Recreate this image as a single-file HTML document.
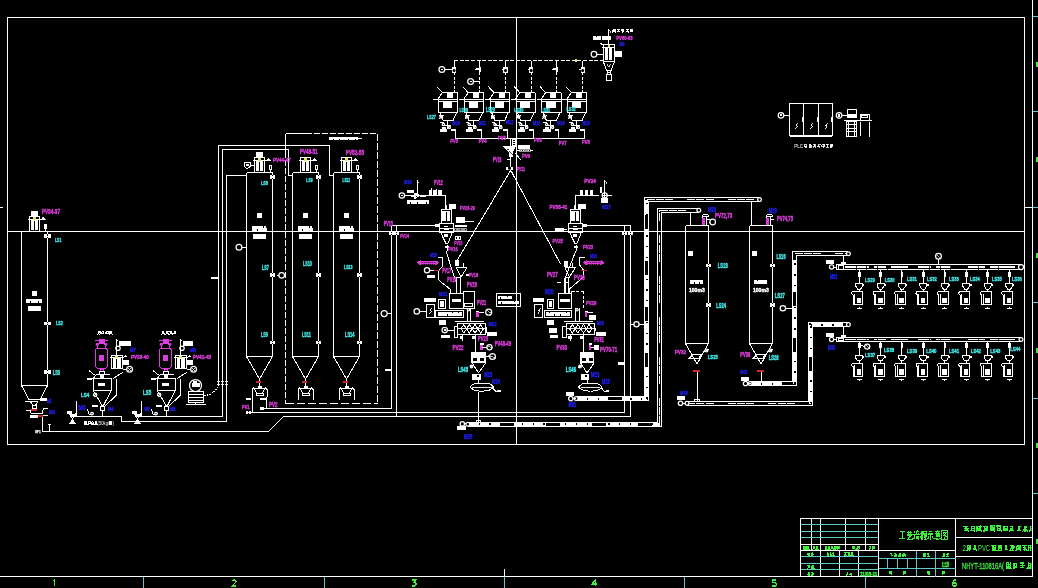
<!DOCTYPE html>
<html><head><meta charset="utf-8"><title>CAD</title>
<style>
html,body{margin:0;padding:0;background:#000;overflow:hidden;}
svg{display:block;font-family:"Liberation Sans",sans-serif;will-change:transform;}
</style></head>
<body>
<svg width="1038" height="588" viewBox="0 0 1038 588">
<defs><clipPath id="clipR"><rect x="955" y="518" width="76.5" height="58"/></clipPath></defs>
<rect x="0" y="0" width="1038" height="588" fill="#000"/>
<g stroke-linecap="butt" shape-rendering="crispEdges">
<rect x="7.5" y="17.5" width="1017" height="427" fill="none" stroke="#ffffff" stroke-width="1"/>
<line x1="1032.5" y1="0" x2="1032.5" y2="576.5" stroke="#ffffff" stroke-width="1"/>
<line x1="1032.5" y1="16.5" x2="1038" y2="16.5" stroke="#64c8c8" stroke-width="1"/>
<line x1="1032.5" y1="111.5" x2="1038" y2="111.5" stroke="#64c8c8" stroke-width="1"/>
<line x1="1032.5" y1="207.5" x2="1038" y2="207.5" stroke="#64c8c8" stroke-width="1"/>
<line x1="1032.5" y1="302.5" x2="1038" y2="302.5" stroke="#64c8c8" stroke-width="1"/>
<line x1="1032.5" y1="398.5" x2="1038" y2="398.5" stroke="#64c8c8" stroke-width="1"/>
<line x1="1032.5" y1="493.5" x2="1038" y2="493.5" stroke="#64c8c8" stroke-width="1"/>
<line x1="1024.5" y1="207.5" x2="1032.5" y2="207.5" stroke="#ffffff" stroke-width="1"/>
<line x1="0" y1="207.5" x2="3" y2="207.5" stroke="#ffffff" stroke-width="1"/>
<rect x="1036" y="61.5" width="2" height="5" fill="#3cf03c"/>
<rect x="1036" y="157" width="2" height="5" fill="#3cf03c"/>
<rect x="1036" y="252.5" width="2" height="5" fill="#3cf03c"/>
<rect x="1036" y="347.5" width="2" height="5" fill="#3cf03c"/>
<rect x="1036" y="443" width="2" height="5" fill="#3cf03c"/>
<rect x="1036" y="538.5" width="2" height="5" fill="#3cf03c"/>
<line x1="0" y1="576.5" x2="1032.5" y2="576.5" stroke="#ffffff" stroke-width="1"/>
<line x1="143.5" y1="576.5" x2="143.5" y2="588" stroke="#64c8c8" stroke-width="1"/>
<line x1="324.5" y1="576.5" x2="324.5" y2="588" stroke="#64c8c8" stroke-width="1"/>
<line x1="504.5" y1="576.5" x2="504.5" y2="588" stroke="#64c8c8" stroke-width="1"/>
<line x1="684.5" y1="576.5" x2="684.5" y2="588" stroke="#64c8c8" stroke-width="1"/>
<line x1="865.5" y1="576.5" x2="865.5" y2="588" stroke="#64c8c8" stroke-width="1"/>
<line x1="504.5" y1="569" x2="504.5" y2="576.5" stroke="#ffffff" stroke-width="1"/>
<path transform="translate(52.5 580)" d="M0.8 1L2 0V6" fill="none" stroke="#3cf03c" stroke-width="1.1"/>
<path transform="translate(232 580)" d="M0 1L1 0H3L4 1V2L0 6H4" fill="none" stroke="#3cf03c" stroke-width="1.1"/>
<path transform="translate(412 580)" d="M0 0H4L2 2.6H3L4 3.6V5L3 6H0" fill="none" stroke="#3cf03c" stroke-width="1.1"/>
<path transform="translate(592 580)" d="M3.2 6V0L0 4H4.5" fill="none" stroke="#3cf03c" stroke-width="1.1"/>
<path transform="translate(772.3 580)" d="M4 0H0.6V2.6H3L4 3.6V5L3 6H0" fill="none" stroke="#3cf03c" stroke-width="1.1"/>
<path transform="translate(952.6 580)" d="M3.5 0H2L0 2.5V5L1 6H3L4 5V4L3 3H0.3" fill="none" stroke="#3cf03c" stroke-width="1.1"/>
<line x1="7.5" y1="231.5" x2="1024.5" y2="231.5" stroke="#ffffff" stroke-width="1"/>
<line x1="516.5" y1="17.5" x2="516.5" y2="444.5" stroke="#ffffff" stroke-width="1"/>
<rect x="800.5" y="518.5" width="232" height="58" fill="none" stroke="#ffffff" stroke-width="1"/>
<line x1="811.5" y1="518.5" x2="811.5" y2="550.5" stroke="#ffffff" stroke-width="1"/>
<line x1="820.5" y1="518.5" x2="820.5" y2="550.5" stroke="#ffffff" stroke-width="1"/>
<line x1="845.5" y1="518.5" x2="845.5" y2="550.5" stroke="#ffffff" stroke-width="1"/>
<line x1="865.5" y1="518.5" x2="865.5" y2="550.5" stroke="#ffffff" stroke-width="1"/>
<line x1="800.5" y1="524.5" x2="878.5" y2="524.5" stroke="#64c8c8" stroke-width="1"/>
<line x1="800.5" y1="531.5" x2="878.5" y2="531.5" stroke="#64c8c8" stroke-width="1"/>
<line x1="800.5" y1="537.5" x2="878.5" y2="537.5" stroke="#64c8c8" stroke-width="1"/>
<line x1="800.5" y1="544.5" x2="878.5" y2="544.5" stroke="#ffffff" stroke-width="1"/>
<line x1="800.5" y1="550.5" x2="955.5" y2="550.5" stroke="#ffffff" stroke-width="1"/>
<line x1="820.5" y1="550.5" x2="820.5" y2="576.5" stroke="#ffffff" stroke-width="1"/>
<line x1="839.5" y1="550.5" x2="839.5" y2="576.5" stroke="#ffffff" stroke-width="1"/>
<line x1="858.5" y1="550.5" x2="858.5" y2="576.5" stroke="#ffffff" stroke-width="1"/>
<line x1="800.5" y1="556.5" x2="878.5" y2="556.5" stroke="#64c8c8" stroke-width="1"/>
<line x1="800.5" y1="563.5" x2="878.5" y2="563.5" stroke="#64c8c8" stroke-width="1"/>
<line x1="800.5" y1="569.5" x2="878.5" y2="569.5" stroke="#64c8c8" stroke-width="1"/>
<line x1="878.5" y1="518.5" x2="878.5" y2="576.5" stroke="#ffffff" stroke-width="1"/>
<line x1="955.5" y1="518.5" x2="955.5" y2="576.5" stroke="#ffffff" stroke-width="1"/>
<line x1="887.5" y1="558.5" x2="887.5" y2="568.5" stroke="#64c8c8" stroke-width="1"/>
<line x1="897.5" y1="558.5" x2="897.5" y2="568.5" stroke="#64c8c8" stroke-width="1"/>
<line x1="907.5" y1="558.5" x2="907.5" y2="568.5" stroke="#64c8c8" stroke-width="1"/>
<line x1="916.5" y1="550.5" x2="916.5" y2="576.5" stroke="#64c8c8" stroke-width="1"/>
<line x1="935.5" y1="550.5" x2="935.5" y2="576.5" stroke="#64c8c8" stroke-width="1"/>
<line x1="878.5" y1="558.5" x2="955.5" y2="558.5" stroke="#64c8c8" stroke-width="1"/>
<line x1="878.5" y1="568.5" x2="955.5" y2="568.5" stroke="#64c8c8" stroke-width="1"/>
<line x1="955.5" y1="537.5" x2="1032.5" y2="537.5" stroke="#ffffff" stroke-width="1"/>
<line x1="955.5" y1="556.5" x2="1032.5" y2="556.5" stroke="#ffffff" stroke-width="1"/>
<path transform="translate(899.3 530.2) scale(0.62 0.96)" d="M1 1.5H9M5 1.5V8.5M0 8.5H10" fill="none" stroke="#3cf03c" stroke-width="1.1" vector-effect="non-scaling-stroke"/>
<path transform="translate(906.35 530.2) scale(0.62 0.96)" d="M0.5 2.5H9.5M3 0.5V4M7 0.5V4M1.5 5H8.5L2 9.5H9.5V8" fill="none" stroke="#3cf03c" stroke-width="1.1" vector-effect="non-scaling-stroke"/>
<path transform="translate(913.4 530.2) scale(0.62 0.96)" d="M1 1L2.5 2.5M0.5 4L2 5.5M0.5 9.5L2.5 6.5M3.5 1.5H9.5M6.5 0V1.5M5 2L4 4.5H9L8 3.5M4.5 6V9.5M6.5 6V9.5M8.5 6V9.5L9.5 9" fill="none" stroke="#3cf03c" stroke-width="1.1" vector-effect="non-scaling-stroke"/>
<path transform="translate(920.45 530.2) scale(0.62 0.96)" d="M1 1.5L4 1M0 3.5H4.5M2.5 1V10M2.5 4.5L0 8M2.5 4.5L4.5 6.5M5.5 1H9.5V4H5.5ZM5 6H10M5.5 8H9.5M7.5 6V9.5M5 9.5H10" fill="none" stroke="#3cf03c" stroke-width="1.1" vector-effect="non-scaling-stroke"/>
<path transform="translate(927.5 530.2) scale(0.62 0.96)" d="M2 1H8M0.5 4H9.5M5 4V9.5L4 9M2.5 6L0.5 9M7.5 6L9.5 9" fill="none" stroke="#3cf03c" stroke-width="1.1" vector-effect="non-scaling-stroke"/>
<path transform="translate(934.55 530.2) scale(0.62 0.96)" d="M5 0V1M1.5 1.5H8.5M3 2L3.5 3M7 2L6.5 3M0.5 3.5H9.5M2.5 4.5H7.5V7H2.5ZM2.5 5.8H7.5M1 8L0.5 9.5M3 8V9.5H7.5M5 8L5.5 9M8.5 8L9.5 9.5" fill="none" stroke="#3cf03c" stroke-width="1.1" vector-effect="non-scaling-stroke"/>
<path transform="translate(941.6 530.2) scale(0.62 0.96)" d="M0.5 0.5H9.5V9.5H0.5ZM3.5 2L2.5 4M3 2.5H7L3 6.5M4 4.5L8 7M4.5 7L5.5 7.5M4 8.5L5.5 9" fill="none" stroke="#3cf03c" stroke-width="1.1" vector-effect="non-scaling-stroke"/>
<path d="M803.15 546.39H804.81M803.35 547.75H804.98M803.22 549.25H805.43M803.61 545.86V548.7M804.61 546.11V549.58M805.3 545.56V549.66M804.22 547.39L805.72 549.7" fill="none" stroke="#3cf03c" stroke-width="1"/>
<path d="M806.41 546.08H808.66M806.29 546.8H809.13M807.1 548.3H808.28M807.23 549.24H808.28M806.7 546.24V548.72M808.72 545.83V549.27M807.72 547.39L806.21 549.7M807.72 547.39L809.22 549.7" fill="none" stroke="#3cf03c" stroke-width="1"/>
<path d="M813.32 546.42H814.49M813.36 548.66H814.81M813.08 546.38V549.4M814.72 546.15V549.12M814.09 547.39L812.78 549.7M814.09 547.39L815.41 549.7" fill="none" stroke="#3cf03c" stroke-width="1"/>
<path d="M816.53 546.28H818.01M816.44 547.19H817.93M816.32 547.91H817.82M816.08 549.45H817.56M816.42 546.11V549.44M817.07 545.8V549.46M817.91 545.63V548.99M817.14 547.39L815.83 549.7M817.14 547.39L818.46 549.7" fill="none" stroke="#3cf03c" stroke-width="1"/>
<path d="M825.63 546.62H826.95M825.63 548.68H826.61M825.55 546.2V548.94M826.1 546.34V548.7M826.74 545.57V549.58M826.2 547.39L824.88 549.7M826.2 547.39L827.52 549.7" fill="none" stroke="#3cf03c" stroke-width="1"/>
<path d="M828.72 546.43H830.02M828.24 547.64H830.04M828.16 549.02H830.23M828.85 545.93V549.38M829.75 545.77V549.36M829.26 547.39L827.94 549.7M829.26 547.39L830.58 549.7" fill="none" stroke="#3cf03c" stroke-width="1"/>
<path d="M831.02 546.41H833.01M831.68 548.47H832.75M831.54 545.78V549.24M832.62 546.27V548.7M832.32 547.39L833.64 549.7" fill="none" stroke="#3cf03c" stroke-width="1"/>
<path d="M834.98 546.2H836.53M834.17 547.27H836M834.57 547.86H836M834.29 549.06H836.09M834.19 545.76V549.63M835.67 546.46V548.89M836.33 545.52V549.24" fill="none" stroke="#3cf03c" stroke-width="1"/>
<path d="M838.01 546.7H839.74M837.32 548.88H839M837.88 545.94V549.08M838.82 546.13V548.72M839.28 545.51V548.91M838.44 547.39L837.12 549.7" fill="none" stroke="#3cf03c" stroke-width="1"/>
<path d="M853.05 546.24H854.79M852.49 547.21H854.76M852.68 548.05H855.07M852.16 548.89H855.33M852.98 546.13V549.22M854.64 546.52V549.22M853.81 547.39L855.57 549.7" fill="none" stroke="#3cf03c" stroke-width="1"/>
<path d="M857.2 546.36H858.93M856.64 547.88H858.8M856.16 549.17H858.75M857.11 545.91V549.1M857.52 546.01V549.09M859.02 546.34V548.79M857.91 547.39L856.15 549.7" fill="none" stroke="#3cf03c" stroke-width="1"/>
<path d="M869.44 546.81H871.38M869.22 548.58H871.45M870.04 545.92V548.79M870.93 545.86V549.09M870.32 547.39L868.99 549.7" fill="none" stroke="#3cf03c" stroke-width="1"/>
<path d="M872.41 546.18H874.28M872.16 547.35H874.19M872.34 548.91H874.63M872.32 546.46V549.49M873.64 545.72V549.3M874.33 545.96V549.24M873.42 547.39L872.09 549.7" fill="none" stroke="#3cf03c" stroke-width="1"/>
<path d="M807.22 553.22H809.09M807.77 555.08H809.95M807.44 553.04V555.08M809.49 552.68V555.23M808.48 553.91L810.23 556" fill="none" stroke="#3cf03c" stroke-width="1"/>
<path d="M811.78 552.48H813.12M810.98 553.87H813.34M810.94 554.51H814.01M811.06 555.77H813.18M812.8 552.66V555.93M812.53 553.91L810.79 556" fill="none" stroke="#3cf03c" stroke-width="1"/>
<path d="M826.94 552.38H828.46M826.89 553.57H828.72M827.41 554.53H828.38M827.11 555.79H828.49M827.12 552.75V555.13M828.94 552.96V555.83M828.02 553.91L826.86 556M828.02 553.91L829.18 556" fill="none" stroke="#3cf03c" stroke-width="1"/>
<path d="M830.3 552.87H831.3M830.02 555.27H831.44M830.55 552.51V555.91M830.72 553.91L831.88 556" fill="none" stroke="#3cf03c" stroke-width="1"/>
<path d="M832.39 553.01H833.87M832.82 554.21H833.83M832.37 555.19H834.47M833.57 552.21V555.63M833.42 553.91L832.26 556M833.42 553.91L834.58 556" fill="none" stroke="#3cf03c" stroke-width="1"/>
<path d="M844.16 552.86H846.5M844.9 553.85H846.4M844.21 554.8H846.34M844.33 555.61H846.52M845.28 553.05V555.39M845.35 553.91L843.9 556" fill="none" stroke="#3cf03c" stroke-width="1"/>
<path d="M847.49 552.42H850.08M847.6 553.7H849.19M847.55 554.3H849.26M847.64 555.29H849.41M849.09 553.11V555.39M848.72 553.91L850.16 556" fill="none" stroke="#3cf03c" stroke-width="1"/>
<path d="M850.9 552.66H853.49M851.19 553.58H853.28M850.84 554.28H852.73M851.54 555.28H852.98M852.06 552.95V555.64M852.08 553.91L850.64 556M852.08 553.91L853.53 556" fill="none" stroke="#3cf03c" stroke-width="1"/>
<path d="M807.32 565.85H809.91M807.97 567.91H809.84M809.18 565.14V568.11M808.86 566.66L807.23 568.7" fill="none" stroke="#3cf03c" stroke-width="1"/>
<path d="M812.15 565.75H813.62M811.95 566.57H814.06M811.21 567.24H813.94M811.28 568.25H813.99M811.96 565.72V567.99M812.42 565.2V568.17M813.7 565.71V568.24M812.66 566.66L811.03 568.7M812.66 566.66L814.3 568.7" fill="none" stroke="#3cf03c" stroke-width="1"/>
<path d="M807.89 572.49H809.94M808.01 573.48H810.38M807.42 574.16H810.45M807.53 575.22H810.46M808.01 572.24V575.05M808.8 572.5V574.95M809.56 572.67V575" fill="none" stroke="#3cf03c" stroke-width="1"/>
<path d="M811.42 572.06H813.21M811.62 573.47H813.6M811.79 574.02H813.29M811.34 575.32H813.41M812.21 572.43V574.65M813.81 572.53V575.18M812.66 573.51L811.03 575.6" fill="none" stroke="#3cf03c" stroke-width="1"/>
<path d="M846.56 572.68H847.95M846.45 574.42H847.93M847.52 571.87V575.31M847.47 573.51L846 575.6" fill="none" stroke="#3cf03c" stroke-width="1"/>
<path d="M849.95 573H852.18M849.42 574.56H851.65M850.31 572.67V575.31M851.21 572.63V575.54M850.87 573.51L852.33 575.6" fill="none" stroke="#3cf03c" stroke-width="1"/>
<text x="860" y="575.6" fill="#3cf03c" font-size="5.56" font-weight="bold" text-anchor="start" textLength="17.3" lengthAdjust="spacingAndGlyphs" stroke="#3cf03c" stroke-width="0.39">11/08-11</text>
<path d="M890.24 553.71H892.26M890.58 555.94H892.7M891.14 553.65V556.37" fill="none" stroke="#3cf03c" stroke-width="1"/>
<path d="M894.07 553.54H896.28M894.75 554.59H896.82M894.35 555.22H896.69M893.96 556.71H896.91M895.28 553.96V556.04" fill="none" stroke="#3cf03c" stroke-width="1"/>
<path d="M898.55 553.59H900.83M898.65 554.77H901.27M898.36 555.28H900.57M898.16 556.74H900.63M899.41 553.54V556.52M899.77 554.8L898 557" fill="none" stroke="#3cf03c" stroke-width="1"/>
<path d="M902.95 553.47H905.28M903.36 554.71H905.52M902.58 555.7H905.53M902.46 556.78H904.43M902.51 553.71V556.98M903.96 553.63V556.08M905.32 553.52V556.74M903.9 554.8L902.12 557M903.9 554.8L905.67 557" fill="none" stroke="#3cf03c" stroke-width="1"/>
<path d="M923.37 553.6H925.98M923.23 554.83H925.87M922.97 556.42H925.57M923.93 553.34V556.54M925.31 553.01V556.58M924.41 554.8L922.82 557M924.41 554.8L926 557" fill="none" stroke="#3cf03c" stroke-width="1"/>
<path d="M926.75 553.86H929.05M927.14 554.99H928.77M926.97 556.38H929.46M928.29 553.83V556.55M928.11 554.8L929.7 557" fill="none" stroke="#3cf03c" stroke-width="1"/>
<path d="M943.02 553.99H944.84M942.35 556.12H945.2M943.33 553.34V556.38M944.91 553.38V556.76" fill="none" stroke="#3cf03c" stroke-width="1"/>
<path d="M946.88 553.45H948.88M946.49 554.86H949.18M946.54 556.28H948.94M947.81 553.87V556.68M947.66 554.8L946.03 557" fill="none" stroke="#3cf03c" stroke-width="1"/>
<text x="941.7" y="567" fill="#3cf03c" font-size="6.94" font-weight="bold" text-anchor="start" textLength="7.3" lengthAdjust="spacingAndGlyphs" stroke="#3cf03c" stroke-width="0.49">1:15</text>
<path d="M889.71 571.65H891.32M890.34 573.23H891.23M889.9 570.65V574.17M890.74 571.22V573.96M891.12 570.53V574.13M890.73 572.3L891.8 574.5" fill="none" stroke="#3cf03c" stroke-width="1"/>
<path d="M903.59 571.24H905.36M903.45 571.96H905.32M903.19 572.8H904.88M903.38 573.88H905.35M904.19 571.14V574.06M905.32 570.76V573.63M904.47 572.3L903.18 574.5" fill="none" stroke="#3cf03c" stroke-width="1"/>
<path d="M928.17 571.01H929.85M928.21 572.39H930.15M927.89 574.12H930.17M927.96 571.25V573.6M929.71 571.41V574.13M928.97 572.3L927.68 574.5M928.97 572.3L930.26 574.5" fill="none" stroke="#3cf03c" stroke-width="1"/>
<path d="M942.25 571.39H944M942.27 572.49H944.17M942.47 573.85H943.94M942.89 571V573.97M944.34 571.4V573.52M943.47 572.3L942.18 574.5" fill="none" stroke="#3cf03c" stroke-width="1"/>
<g clip-path="url(#clipR)">
<path d="M963.11 526.31H967.93M963.91 528.69H968.59M964.14 530.49H967.79M965.94 525.96V530.89M965.93 528.08L968.77 531.6" fill="none" stroke="#3cf03c" stroke-width="1.2"/>
<path d="M971.24 526.56H975.17M971.27 528.17H974.7M970.49 530.41H975.19M971.5 525.57V531.3M974.35 526.65V531.5" fill="none" stroke="#3cf03c" stroke-width="1.2"/>
<path d="M976.86 526.2H981.85M976.75 528.56H980.34M977.23 530.68H981.65M977.07 526.22V530.39M979.45 525.56V531.4M980.79 525.3V530.5M979.13 528.08L976.3 531.6M979.13 528.08L981.97 531.6" fill="none" stroke="#3cf03c" stroke-width="1.2"/>
<path d="M983.25 526.64H988.14M983.78 529.97H988.08M984.2 526.42V531.59M986.92 526.6V530.58M985.73 528.08L982.9 531.6" fill="none" stroke="#3cf03c" stroke-width="1.2"/>
<path d="M990.32 525.78H994.02M990.71 527.48H994.22M989.7 528.96H994.95M990.24 530.8H994.35M990.5 526.18V530.55M991.99 525.64V530.77M994.62 525.3V530.61M992.33 528.08L995.17 531.6" fill="none" stroke="#3cf03c" stroke-width="1.2"/>
<path d="M996.4 526.02H1001.14M997.11 528.69H1001.02M996.66 530.58H1000.23M997.69 525.79V530.25M1000.27 525.74V531.37M998.93 528.08L1001.77 531.6" fill="none" stroke="#3cf03c" stroke-width="1.2"/>
<path d="M1003.12 526.65H1008.16M1003.04 529.94H1008.17M1004.08 526.21V530.99M1007.21 526.33V530.57M1005.53 528.08L1008.37 531.6" fill="none" stroke="#3cf03c" stroke-width="1.2"/>
<path d="M1010.24 526.18H1013.09M1009.74 528.11H1013.13M1010.05 530.66H1014.21M1012.51 526.41V530.99M1012.13 528.08L1009.3 531.6" fill="none" stroke="#3cf03c" stroke-width="1.2"/>
<path d="M1017.61 526.77H1021.27M1017.07 530.12H1021.11M1019.08 525.68V530.3" fill="none" stroke="#3cf03c" stroke-width="1.2"/>
<path d="M1024.33 527.06H1026.53M1022.51 530.03H1026.62M1025.02 526.37V531.6M1025.33 528.08L1022.5 531.6M1025.33 528.08L1028.17 531.6" fill="none" stroke="#3cf03c" stroke-width="1.2"/>
<path d="M1029.96 526.1H1032.9M1029.69 528.48H1034.16M1029.72 530.72H1033.19M1030.14 525.74V531.44M1033.14 526.72V531.05M1031.93 528.08L1029.1 531.6" fill="none" stroke="#3cf03c" stroke-width="1.2"/>
<text x="962.5" y="551" fill="#3cf03c" font-size="9" font-weight="normal" text-anchor="start" textLength="3.5" lengthAdjust="spacingAndGlyphs">2</text>
<path d="M967.04 545.64H970.88M967.54 547.61H971.23M968.05 549.89H970.03M967.33 545.51V550.55M969.28 545.97V550.94M970.88 544.97V550.06M969.2 547.31L966.83 551" fill="none" stroke="#3cf03c" stroke-width="1.2"/>
<path d="M973.96 545.92H976.06M973.39 549.07H975.86M974.7 544.57V549.39M974.7 547.31L977.06 551" fill="none" stroke="#3cf03c" stroke-width="1.2"/>
<text x="978" y="551" fill="#3cf03c" font-size="9" font-weight="normal" text-anchor="start" textLength="12" lengthAdjust="spacingAndGlyphs">PVC</text>
<path d="M991.41 545.39H995.24M992.52 547.76H995.59M991.79 549.91H995.51M992.45 545.33V550.9M993.78 545.14V549.34M995.71 544.76V549.56M993.81 547.31L996.46 551" fill="none" stroke="#3cf03c" stroke-width="1.2"/>
<path d="M997.63 545.18H1000.92M998.64 547.03H1001.72M997.68 548.34H1002.38M998.19 550.2H1001.03M998.33 544.54V550.41M1001.21 545.49V550.77M999.96 547.31L997.32 551" fill="none" stroke="#3cf03c" stroke-width="1.2"/>
<path d="M1004.94 545.89H1007.32M1004.5 549.62H1007.65M1006.09 544.96V549.86" fill="none" stroke="#3cf03c" stroke-width="1.2"/>
<path d="M1009.83 545.36H1014.32M1010.98 546.93H1014.78M1010.28 548.75H1013.78M1010.43 550.44H1014.46M1012.63 544.56V550.81M1012.26 547.31L1009.62 551" fill="none" stroke="#3cf03c" stroke-width="1.2"/>
<path d="M1016.56 545.9H1020.28M1016.84 549.23H1020.75M1016.59 545.97V550.28M1018.66 545.14V550.4M1020.02 544.96V549.79M1018.41 547.31L1015.77 551M1018.41 547.31L1021.06 551" fill="none" stroke="#3cf03c" stroke-width="1.2"/>
<path d="M1022.19 545.56H1026.94M1023.18 547.45H1025.8M1023.13 549.72H1025.78M1024.6 545.75V550.57M1024.56 547.31L1027.21 551" fill="none" stroke="#3cf03c" stroke-width="1.2"/>
<path d="M1028.88 545.6H1032.24M1028.59 547.49H1033.08M1029.85 550.17H1032.48M1028.73 545.1V550.68M1030.55 545.17V549.7M1032.23 545.01V549.5M1030.71 547.31L1033.36 551" fill="none" stroke="#3cf03c" stroke-width="1.2"/>
<path d="M1035.8 546.22H1038.3M1034.91 549.47H1037.73M1036.68 544.4V550.99M1036.86 547.31L1034.22 551" fill="none" stroke="#3cf03c" stroke-width="1.2"/>
<text x="962" y="569.2" fill="#3cf03c" stroke="#3cf03c" stroke-width="0.35" font-size="9.6" textLength="42" lengthAdjust="spacingAndGlyphs">NHYT-110816A(</text>
<path d="M1006.69 562.88H1009.48M1006.5 564.71H1010.31M1005.56 566.1H1009.98M1006.56 568.04H1011.33M1006.7 562.16V568.74M1008.67 563.34V567.36M1010.22 562.46V568.58M1008.43 565.15L1011.44 569" fill="none" stroke="#3cf03c" stroke-width="1.2"/>
<path d="M1013.14 563.69H1017.04M1014.38 567.04H1017.05M1014.03 563.13V568.69M1016.72 562.97V567.46" fill="none" stroke="#3cf03c" stroke-width="1.2"/>
<path d="M1019.71 563.09H1024.03M1019.81 565.61H1025.13M1020.34 567.61H1024.35M1022.48 563.47V568.08" fill="none" stroke="#3cf03c" stroke-width="1.2"/>
<path d="M1027.63 563.45H1030.66M1027.59 565.72H1030.38M1028.18 568.07H1030.51M1028.3 562.14V567.58M1031.06 563.28V567.73M1029.43 565.15L1026.42 569M1029.43 565.15L1032.44 569" fill="none" stroke="#3cf03c" stroke-width="1.2"/>
<path d="M1035.47 563.1H1039.15M1035.1 564.65H1039.28M1034.64 566.62H1037.51M1034.22 568.3H1037.54M1036.47 562.16V568.69M1036.43 565.15L1033.42 569" fill="none" stroke="#3cf03c" stroke-width="1.2"/>
</g>
<line x1="21.5" y1="231.5" x2="21.5" y2="385.5" stroke="#ffffff" stroke-width="1"/>
<line x1="47.5" y1="231.5" x2="47.5" y2="385.5" stroke="#ffffff" stroke-width="1"/>
<line x1="21.5" y1="385.5" x2="47.5" y2="385.5" stroke="#ffffff" stroke-width="1"/>
<line x1="21.5" y1="385.5" x2="29" y2="399.5" stroke="#ffffff" stroke-width="1"/>
<line x1="47.5" y1="385.5" x2="40.2" y2="399.5" stroke="#ffffff" stroke-width="1"/>
<line x1="29" y1="399.5" x2="46.8" y2="399.5" stroke="#ffffff" stroke-width="1"/>
<rect x="40.2" y="398.3" width="6.6" height="3" fill="#ffffff"/>
<line x1="25" y1="401.5" x2="30.4" y2="401.5" stroke="#ffffff" stroke-width="1"/>
<polygon points="30.4,401.5 37.9,401.5 35.8,405 32.6,405" fill="none" stroke="#ffffff" stroke-width="1"/>
<rect x="32.8" y="405" width="3.2" height="3.5" fill="none" stroke="#ffffff" stroke-width="1"/>
<rect x="30" y="409" width="7" height="1.8" fill="#c82828"/>
<polyline points="26.2,410 30,410 31,413.2 43,413.2" fill="none" stroke="#ffffff" stroke-width="1"/>
<rect x="30" y="414.6" width="7.9" height="3.7" fill="#ffffff"/>
<rect x="38.4" y="415" width="4.6" height="2" fill="#c82828"/>
<polyline points="47.7,408 43.5,408 42.5,413" fill="none" stroke="#ffffff" stroke-width="1"/>
<line x1="43" y1="415.5" x2="47.7" y2="415.5" stroke="#ffffff" stroke-width="1"/>
<line x1="42.5" y1="417" x2="42.5" y2="431.5" stroke="#ffffff" stroke-width="1"/>
<line x1="42.5" y1="431.5" x2="268.5" y2="431.5" stroke="#ffffff" stroke-width="1"/>
<line x1="49.8" y1="424" x2="49.8" y2="431.5" stroke="#ffffff" stroke-width="1"/>
<line x1="48.2" y1="424.5" x2="51.4" y2="424.5" stroke="#ffffff" stroke-width="1"/>
<text x="35" y="432.6" fill="#ffffff" font-size="3.61" font-weight="bold" text-anchor="start" textLength="5.7" lengthAdjust="spacingAndGlyphs" stroke="#ffffff" stroke-width="0.25">SF1</text>
<rect x="31" y="211.3" width="6.7" height="5.4" fill="#ffffff"/>
<rect x="29.2" y="216.5" width="10.2" height="15" fill="none" stroke="#ffffff" stroke-width="1"/>
<line x1="28" y1="219.8" x2="40.6" y2="219.8" stroke="#ffffff" stroke-width="1"/>
<rect x="31" y="220.3" width="6.8" height="9.8" fill="#ffffff"/>
<line x1="34.4" y1="220.5" x2="34.4" y2="230" stroke="#000" stroke-width="1.1"/>
<rect x="33" y="217.3" width="2.6" height="2.2" fill="#e6e650"/>
<line x1="39.4" y1="219.7" x2="45.2" y2="219.7" stroke="#ffffff" stroke-width="1"/>
<path d="M41.4 219.7L43.2 216.8L45.2 219.7Z" fill="#ffffff" stroke="#ffffff" stroke-width="0.8"/>
<rect x="44.2" y="224" width="2.8" height="5" fill="#ffffff"/>
<line x1="45.5" y1="229" x2="45.5" y2="231.5" stroke="#ffffff" stroke-width="1"/>
<rect x="44.37" y="234.4" width="6.27" height="3.8" fill="#ffffff"/>
<path d="M46.45 234.4L47.5 235.54L48.55 234.4ZM46.45 238.2L47.5 237.06L48.55 238.2Z" fill="#000" stroke="none" stroke-width="0"/>
<rect x="44.37" y="321.6" width="6.27" height="3.8" fill="#ffffff"/>
<path d="M46.45 321.6L47.5 322.74L48.55 321.6ZM46.45 325.4L47.5 324.26L48.55 325.4Z" fill="#000" stroke="none" stroke-width="0"/>
<rect x="44.37" y="370.1" width="6.27" height="3.8" fill="#ffffff"/>
<path d="M46.45 370.1L47.5 371.24L48.55 370.1ZM46.45 373.9L47.5 372.76L48.55 373.9Z" fill="#000" stroke="none" stroke-width="0"/>
<rect x="32" y="291" width="4.9" height="5" fill="#ffffff"/>
<rect x="26.2" y="299" width="15.9" height="3.8" fill="#ffffff"/>
<rect x="30.34" y="301.47" width="0.9" height="1.33" fill="#000"/>
<rect x="37.72" y="301.47" width="0.9" height="1.33" fill="#000"/>
<rect x="28" y="306" width="12.9" height="5" fill="#ffffff"/>
<text x="41.9" y="214" fill="#dc3cdc" font-size="6.94" font-weight="bold" text-anchor="start" textLength="18.1" lengthAdjust="spacingAndGlyphs" stroke="#dc3cdc" stroke-width="0.49">PV34-37</text>
<text x="55" y="241.6" fill="#40e8e8" font-size="5.69" font-weight="bold" text-anchor="start" textLength="6.3" lengthAdjust="spacingAndGlyphs" stroke="#40e8e8" stroke-width="0.4">LS1</text>
<text x="56" y="324.8" fill="#40e8e8" font-size="6.25" font-weight="bold" text-anchor="start" textLength="7" lengthAdjust="spacingAndGlyphs" stroke="#40e8e8" stroke-width="0.44">LS2</text>
<text x="52.8" y="374.8" fill="#40e8e8" font-size="6.67" font-weight="bold" text-anchor="start" textLength="7.2" lengthAdjust="spacingAndGlyphs" stroke="#40e8e8" stroke-width="0.47">LS3</text>
<text x="47" y="403.3" fill="#1e1ee6" font-size="5.97" font-weight="bold" text-anchor="start" textLength="4.6" lengthAdjust="spacingAndGlyphs" stroke="#1e1ee6" stroke-width="0.42">M1</text>
<text x="49" y="413.8" fill="#1e1ee6" font-size="5.97" font-weight="bold" text-anchor="start" textLength="6.2" lengthAdjust="spacingAndGlyphs" stroke="#1e1ee6" stroke-width="0.42">M2</text>
<path d="M97.7 331.49H99.96M98.54 332.54H100.55M98.54 334.09H100.42M98.29 331.17V334.16M98.89 331.47V333.85M100.26 331.22V334.23M99.14 332.57L97.44 334.5" fill="none" stroke="#ffffff" stroke-width="1"/>
<path d="M102.02 331.92H103.95M101.81 333.74H103.68M101.91 331.5V333.78M103.83 331.45V334.03" fill="none" stroke="#ffffff" stroke-width="1"/>
<path d="M106.14 331.86H108.7M105.74 333.84H107.75M105.54 331.56V333.77M106.89 331.7V333.87M108.28 331.6V334.36" fill="none" stroke="#ffffff" stroke-width="1"/>
<path d="M109.37 331.81H111.59M109.58 333.01H112.25M110.19 333.96H111.92M109.75 331.29V334.4M111.94 331.39V333.64M110.99 332.57L109.29 334.5M110.99 332.57L112.68 334.5" fill="none" stroke="#ffffff" stroke-width="1"/>
<line x1="95" y1="340.5" x2="107.6" y2="340.5" stroke="#dc3cdc" stroke-width="1.2"/>
<rect x="99.6" y="339.2" width="4.4" height="3" fill="#dc3cdc" stroke="#dc3cdc" stroke-width="1"/>
<polyline points="97,349 98.5,343.5 104.5,343.5 106,349" fill="none" stroke="#dc3cdc" stroke-width="1"/>
<circle cx="97" cy="344.5" r="0.8" fill="#dc3cdc" stroke="#dc3cdc" stroke-width="1.25" shape-rendering="geometricPrecision"/>
<circle cx="106" cy="344.5" r="0.8" fill="#dc3cdc" stroke="#dc3cdc" stroke-width="1.25" shape-rendering="geometricPrecision"/>
<path d="M95.3 352Q95.3 348 98.5 348H104.5Q107.5 348 107.5 352V364Q107.5 368.5 104.5 368.5H98.5Q95.3 368.5 95.3 364Z" fill="none" stroke="#dc3cdc" stroke-width="1"/>
<rect x="98.6" y="355" width="5" height="5.6" fill="#dc3cdc"/>
<rect x="100.2" y="369.2" width="3.2" height="2.4" fill="none" stroke="#dc3cdc" stroke-width="1"/>
<rect x="99.5" y="371.8" width="4.6" height="3" fill="none" stroke="#ffffff" stroke-width="1"/>
<rect x="111" y="355.5" width="11.6" height="13" fill="none" stroke="#ffffff" stroke-width="1"/>
<line x1="110" y1="357.3" x2="123.6" y2="357.3" stroke="#ffffff" stroke-width="1"/>
<rect x="113" y="358" width="7.6" height="9.6" fill="#ffffff"/>
<line x1="116.8" y1="358.5" x2="116.8" y2="367.5" stroke="#000" stroke-width="1"/>
<rect x="115" y="355.9" width="3" height="1.6" fill="#e6e650"/>
<line x1="123.6" y1="356.5" x2="127" y2="356.5" stroke="#ffffff" stroke-width="1"/>
<path d="M124 356.5L125.3 354.5L126.6 356.5Z" fill="#ffffff" stroke="#ffffff" stroke-width="0.7"/>
<rect x="123.2" y="360" width="6" height="4.8" fill="#ffffff"/>
<line x1="116.3" y1="339.5" x2="116.3" y2="355.5" stroke="#ffffff" stroke-width="1"/>
<line x1="116.3" y1="339.5" x2="117.5" y2="341" stroke="#ffffff" stroke-width="1"/>
<circle cx="118" cy="348.2" r="2.2" fill="none" stroke="#ffffff" stroke-width="1.25" shape-rendering="geometricPrecision"/>
<rect x="119" y="341" width="12" height="4.7" fill="#ffffff"/>
<circle cx="129.6" cy="369.3" r="2.9" fill="none" stroke="#ffffff" stroke-width="1.25" shape-rendering="geometricPrecision"/>
<line x1="128.4" y1="368.3" x2="130.8" y2="370.3" stroke="#ffffff" stroke-width="0.8"/>
<line x1="128.4" y1="370.3" x2="130.8" y2="368.3" stroke="#ffffff" stroke-width="0.8"/>
<line x1="122.6" y1="369.3" x2="126.7" y2="369.3" stroke="#ffffff" stroke-width="1"/>
<line x1="87.3" y1="378.6" x2="112" y2="378.6" stroke="#ffffff" stroke-width="1"/>
<rect x="87.3" y="377.6" width="5" height="2" fill="#ffffff"/>
<polyline points="93,378.6 96.5,374.5 110,374.5" fill="none" stroke="#ffffff" stroke-width="1"/>
<line x1="89" y1="370.5" x2="94.5" y2="375" stroke="#ffffff" stroke-width="1"/>
<rect x="93" y="378.6" width="18.5" height="11.6" fill="none" stroke="#ffffff" stroke-width="1"/>
<rect x="98" y="383" width="6.5" height="3" fill="#ffffff"/>
<rect x="99.5" y="374.6" width="4.5" height="4" fill="#ffffff"/>
<line x1="93" y1="390.2" x2="102.8" y2="406.7" stroke="#ffffff" stroke-width="1"/>
<line x1="111.5" y1="390.2" x2="102.8" y2="406.7" stroke="#ffffff" stroke-width="1"/>
<line x1="122.6" y1="372.5" x2="113" y2="378.6" stroke="#ffffff" stroke-width="1"/>
<line x1="116.6" y1="378.6" x2="116.6" y2="395" stroke="#ffffff" stroke-width="1"/>
<line x1="116.6" y1="395" x2="104" y2="407" stroke="#ffffff" stroke-width="1"/>
<circle cx="95.2" cy="394.8" r="1.6" fill="none" stroke="#ffffff" stroke-width="1.25" shape-rendering="geometricPrecision"/>
<line x1="93.5" y1="396" x2="97" y2="393.5" stroke="#ffffff" stroke-width="1"/>
<rect x="91.6" y="405" width="6.6" height="2" fill="#ffffff"/>
<rect x="100.5" y="406.6" width="3.8" height="3.6" fill="none" stroke="#ffffff" stroke-width="1"/>
<line x1="102.5" y1="410.2" x2="102.5" y2="416.8" stroke="#ffffff" stroke-width="1"/>
<path d="M87.5 409.5L89.2 414.5L92.5 414.5" fill="none" stroke="#ffffff" stroke-width="1"/>
<circle cx="92" cy="413.6" r="1.3" fill="none" stroke="#ffffff" stroke-width="1.25" shape-rendering="geometricPrecision"/>
<path d="M161.79 331.38H163.99M161.72 332.75H164.4M162.13 333.9H164.81M163.26 331.43V334.17M163.14 332.57L161.44 334.5M163.14 332.57L164.83 334.5" fill="none" stroke="#ffffff" stroke-width="1"/>
<path d="M165.94 331.71H168.53M165.98 332.46H168.25M166.09 333.65H167.77M166.73 331.8V333.63M167.09 332.57L165.39 334.5M167.09 332.57L168.78 334.5" fill="none" stroke="#ffffff" stroke-width="1"/>
<path d="M169.35 331.63H172.28M169.65 333.63H172.69M170.35 331.32V334.19M171.65 331.62V334.16M171.04 332.57L169.34 334.5M171.04 332.57L172.73 334.5" fill="none" stroke="#ffffff" stroke-width="1"/>
<path d="M173.93 331.82H175.57M173.36 333.61H175.83M174.41 331.42V334.4M175.9 331.25V334.02" fill="none" stroke="#ffffff" stroke-width="1"/>
<line x1="159" y1="340.5" x2="171.6" y2="340.5" stroke="#dc3cdc" stroke-width="1.2"/>
<rect x="163.6" y="339.2" width="4.4" height="3" fill="#dc3cdc" stroke="#dc3cdc" stroke-width="1"/>
<polyline points="161,349 162.5,343.5 168.5,343.5 170,349" fill="none" stroke="#dc3cdc" stroke-width="1"/>
<circle cx="161" cy="344.5" r="0.8" fill="#dc3cdc" stroke="#dc3cdc" stroke-width="1.25" shape-rendering="geometricPrecision"/>
<circle cx="170" cy="344.5" r="0.8" fill="#dc3cdc" stroke="#dc3cdc" stroke-width="1.25" shape-rendering="geometricPrecision"/>
<path d="M159.3 352Q159.3 348 162.5 348H168.5Q171.5 348 171.5 352V364Q171.5 368.5 168.5 368.5H162.5Q159.3 368.5 159.3 364Z" fill="none" stroke="#dc3cdc" stroke-width="1"/>
<rect x="162.6" y="355" width="5" height="5.6" fill="#dc3cdc"/>
<rect x="164.2" y="369.2" width="3.2" height="2.4" fill="none" stroke="#dc3cdc" stroke-width="1"/>
<rect x="163.5" y="371.8" width="4.6" height="3" fill="none" stroke="#ffffff" stroke-width="1"/>
<rect x="175" y="355.5" width="11.6" height="13" fill="none" stroke="#ffffff" stroke-width="1"/>
<line x1="174" y1="357.3" x2="187.6" y2="357.3" stroke="#ffffff" stroke-width="1"/>
<rect x="177" y="358" width="7.6" height="9.6" fill="#ffffff"/>
<line x1="180.8" y1="358.5" x2="180.8" y2="367.5" stroke="#000" stroke-width="1"/>
<rect x="179" y="355.9" width="3" height="1.6" fill="#e6e650"/>
<line x1="187.6" y1="356.5" x2="191" y2="356.5" stroke="#ffffff" stroke-width="1"/>
<path d="M188 356.5L189.3 354.5L190.6 356.5Z" fill="#ffffff" stroke="#ffffff" stroke-width="0.7"/>
<rect x="187.2" y="360" width="6" height="4.8" fill="#ffffff"/>
<line x1="180.3" y1="339.5" x2="180.3" y2="355.5" stroke="#ffffff" stroke-width="1"/>
<line x1="180.3" y1="339.5" x2="181.5" y2="341" stroke="#ffffff" stroke-width="1"/>
<circle cx="182" cy="348.2" r="2.2" fill="none" stroke="#ffffff" stroke-width="1.25" shape-rendering="geometricPrecision"/>
<rect x="183" y="341" width="10" height="4.7" fill="#ffffff"/>
<circle cx="193.6" cy="369.3" r="2.9" fill="none" stroke="#ffffff" stroke-width="1.25" shape-rendering="geometricPrecision"/>
<line x1="192.4" y1="368.3" x2="194.8" y2="370.3" stroke="#ffffff" stroke-width="0.8"/>
<line x1="192.4" y1="370.3" x2="194.8" y2="368.3" stroke="#ffffff" stroke-width="0.8"/>
<line x1="186.6" y1="369.3" x2="190.7" y2="369.3" stroke="#ffffff" stroke-width="1"/>
<line x1="151.3" y1="378.6" x2="176" y2="378.6" stroke="#ffffff" stroke-width="1"/>
<rect x="151.3" y="377.6" width="5" height="2" fill="#ffffff"/>
<polyline points="157,378.6 160.5,374.5 174,374.5" fill="none" stroke="#ffffff" stroke-width="1"/>
<line x1="153" y1="370.5" x2="158.5" y2="375" stroke="#ffffff" stroke-width="1"/>
<rect x="157" y="378.6" width="18.5" height="11.6" fill="none" stroke="#ffffff" stroke-width="1"/>
<rect x="162" y="383" width="6.5" height="3" fill="#ffffff"/>
<rect x="163.5" y="374.6" width="4.5" height="4" fill="#ffffff"/>
<line x1="157" y1="390.2" x2="166.8" y2="406.7" stroke="#ffffff" stroke-width="1"/>
<line x1="175.5" y1="390.2" x2="166.8" y2="406.7" stroke="#ffffff" stroke-width="1"/>
<line x1="186.6" y1="372.5" x2="177" y2="378.6" stroke="#ffffff" stroke-width="1"/>
<line x1="180.6" y1="378.6" x2="180.6" y2="395" stroke="#ffffff" stroke-width="1"/>
<line x1="180.6" y1="395" x2="168" y2="407" stroke="#ffffff" stroke-width="1"/>
<circle cx="159.2" cy="394.8" r="1.6" fill="none" stroke="#ffffff" stroke-width="1.25" shape-rendering="geometricPrecision"/>
<line x1="157.5" y1="396" x2="161" y2="393.5" stroke="#ffffff" stroke-width="1"/>
<rect x="155.6" y="405" width="6.6" height="2" fill="#ffffff"/>
<rect x="164.5" y="406.6" width="3.8" height="3.6" fill="none" stroke="#ffffff" stroke-width="1"/>
<line x1="166.5" y1="410.2" x2="166.5" y2="416.8" stroke="#ffffff" stroke-width="1"/>
<path d="M151.5 409.5L153.2 414.5L156.5 414.5" fill="none" stroke="#ffffff" stroke-width="1"/>
<circle cx="156" cy="413.6" r="1.3" fill="none" stroke="#ffffff" stroke-width="1.25" shape-rendering="geometricPrecision"/>
<text x="81" y="397" fill="#40e8e8" font-size="6.11" font-weight="bold" text-anchor="start" textLength="8.2" lengthAdjust="spacingAndGlyphs" stroke="#40e8e8" stroke-width="0.43">LS4</text>
<text x="143" y="395" fill="#40e8e8" font-size="6.67" font-weight="bold" text-anchor="start" textLength="8.2" lengthAdjust="spacingAndGlyphs" stroke="#40e8e8" stroke-width="0.47">LS5</text>
<text x="78.6" y="410" fill="#1e1ee6" font-size="6.94" font-weight="bold" text-anchor="start" textLength="6.9" lengthAdjust="spacingAndGlyphs" stroke="#1e1ee6" stroke-width="0.49">M3</text>
<text x="108" y="410.5" fill="#1e1ee6" font-size="5.28" font-weight="bold" text-anchor="start" textLength="5.4" lengthAdjust="spacingAndGlyphs" stroke="#1e1ee6" stroke-width="0.37">M4</text>
<text x="144.4" y="410.5" fill="#1e1ee6" font-size="4.86" font-weight="bold" text-anchor="start" textLength="5.4" lengthAdjust="spacingAndGlyphs" stroke="#1e1ee6" stroke-width="0.34">M5</text>
<text x="169.6" y="410.5" fill="#1e1ee6" font-size="4.86" font-weight="bold" text-anchor="start" textLength="5.8" lengthAdjust="spacingAndGlyphs" stroke="#1e1ee6" stroke-width="0.34">M6</text>
<text x="130" y="351.5" fill="#1e1ee6" font-size="6.25" font-weight="bold" text-anchor="start" textLength="5.7" lengthAdjust="spacingAndGlyphs" stroke="#1e1ee6" stroke-width="0.44">M7</text>
<text x="190" y="351.5" fill="#1e1ee6" font-size="6.25" font-weight="bold" text-anchor="start" textLength="5.7" lengthAdjust="spacingAndGlyphs" stroke="#1e1ee6" stroke-width="0.44">M8</text>
<text x="131" y="358.8" fill="#dc3cdc" font-size="6.11" font-weight="bold" text-anchor="start" textLength="17.8" lengthAdjust="spacingAndGlyphs" stroke="#dc3cdc" stroke-width="0.43">PV38-40</text>
<text x="192.8" y="358.8" fill="#dc3cdc" font-size="6.11" font-weight="bold" text-anchor="start" textLength="18.4" lengthAdjust="spacingAndGlyphs" stroke="#dc3cdc" stroke-width="0.43">PV41-43</text>
<path d="M84.34 421.74H86.65M85.06 422.59H86.63M84.82 423.26H86.87M84.97 424.15H87M84.67 421.24V424.53M85.37 421.59V424.43M86.98 421.36V424.47M85.65 422.71L84.2 424.8M85.65 422.71L87.11 424.8" fill="none" stroke="#ffffff" stroke-width="1"/>
<path d="M87.65 421.77H89.9M88.31 423.97H90.47M88.28 421.16V424.77M88.82 421.38V423.86M90.35 421.15V424.48M89.03 422.71L87.58 424.8" fill="none" stroke="#ffffff" stroke-width="1"/>
<path d="M91.85 421.36H93.26M91.76 423.02H93.16M91.38 424.04H93.83M91.45 421.65V423.97M93.1 421.95V424.07M92.4 422.71L90.95 424.8" fill="none" stroke="#ffffff" stroke-width="1"/>
<path d="M94.81 421.68H96.8M95.06 422.87H96.5M95.06 424.26H96.85M95.73 421.64V424.63M95.78 422.71L94.33 424.8M95.78 422.71L97.23 424.8" fill="none" stroke="#ffffff" stroke-width="1"/>
<text x="97.6" y="424.8" fill="#ffffff" font-size="5.2" font-weight="normal" text-anchor="start" textLength="11.5" lengthAdjust="spacingAndGlyphs">(50kg/</text>
<path d="M109.5 421.65H111.74M109.51 422.67H111.22M109.52 423.93H111.69M109.57 421.29V424.71M110.6 421.07V424.56M111.48 421.53V424.17M110.77 422.71L109.48 424.8M110.77 422.71L112.06 424.8" fill="none" stroke="#ffffff" stroke-width="1"/>
<text x="112.4" y="424.8" fill="#ffffff" font-size="5.2" font-weight="normal" text-anchor="start" textLength="1.4" lengthAdjust="spacingAndGlyphs">)</text>
<line x1="76.5" y1="416.5" x2="121.5" y2="416.5" stroke="#ffffff" stroke-width="1"/>
<line x1="121.5" y1="416.5" x2="121.5" y2="421.5" stroke="#ffffff" stroke-width="1"/>
<line x1="121.5" y1="421.5" x2="226.5" y2="421.5" stroke="#ffffff" stroke-width="1"/>
<line x1="141.5" y1="416.5" x2="222.5" y2="416.5" stroke="#ffffff" stroke-width="1"/>
<line x1="76" y1="401" x2="76" y2="416.5" stroke="#ffffff" stroke-width="1"/>
<line x1="141" y1="401" x2="141" y2="416.5" stroke="#ffffff" stroke-width="1"/>
<rect x="67" y="410.6" width="4.5" height="3" fill="#ffffff"/>
<polyline points="69,413.5 72.5,418.5 76,413.5" fill="none" stroke="#ffffff" stroke-width="1"/>
<polygon points="70,423.5 72.5,419.5 75,423.5" fill="#ffffff" stroke="#ffffff" stroke-width="1"/>
<rect x="69.5" y="414" width="6" height="3" fill="#ffffff"/>
<rect x="132" y="410.6" width="4.5" height="3" fill="#ffffff"/>
<polyline points="134,413.5 137.5,418.5 141,413.5" fill="none" stroke="#ffffff" stroke-width="1"/>
<polygon points="135,423.5 137.5,419.5 140,423.5" fill="#ffffff" stroke="#ffffff" stroke-width="1"/>
<rect x="134.5" y="414" width="6" height="3" fill="#ffffff"/>
<circle cx="195.5" cy="385.5" r="6" fill="none" stroke="#ffffff" stroke-width="1.25" shape-rendering="geometricPrecision"/>
<rect x="191.5" y="383" width="8" height="3.5" fill="#ffffff"/>
<rect x="193" y="380.5" width="4" height="2" fill="#ffffff"/>
<rect x="188" y="391.5" width="15" height="10.5" fill="none" stroke="#ffffff" stroke-width="1"/>
<line x1="188" y1="394.5" x2="203" y2="394.5" stroke="#ffffff" stroke-width="1"/>
<line x1="188" y1="397.5" x2="203" y2="397.5" stroke="#ffffff" stroke-width="1"/>
<line x1="188" y1="400" x2="203" y2="400" stroke="#ffffff" stroke-width="1"/>
<line x1="186" y1="404.5" x2="205.6" y2="404.5" stroke="#ffffff" stroke-width="1"/>
<line x1="195.5" y1="402" x2="195.5" y2="404.5" stroke="#ffffff" stroke-width="1"/>
<path d="M204 395.5Q214 395 218 386" fill="none" stroke="#fff" stroke-width="1" stroke-dasharray="1.6,1"/>
<polyline points="218.5,386 218.5,145.5 329.5,145.5 329.5,175.5 333.5,175.5" fill="none" stroke="#ffffff" stroke-width="1"/>
<polyline points="222.5,416.5 222.5,149.5 288.5,149.5 288.5,175.5 292.5,175.5" fill="none" stroke="#ffffff" stroke-width="1"/>
<polyline points="226.5,421.5 226.5,175.5 246.5,175.5" fill="none" stroke="#ffffff" stroke-width="1"/>
<polyline points="217.2,380.5 218.5,382 219.8,380.5" fill="none" stroke="#ffffff" stroke-width="0.9"/>
<polyline points="217.2,384.5 218.5,383 219.8,384.5" fill="none" stroke="#ffffff" stroke-width="0.9"/>
<polyline points="221.2,380.5 222.5,382 223.8,380.5" fill="none" stroke="#ffffff" stroke-width="0.9"/>
<polyline points="221.2,384.5 222.5,383 223.8,384.5" fill="none" stroke="#ffffff" stroke-width="0.9"/>
<polyline points="225.2,380.5 226.5,382 227.8,380.5" fill="none" stroke="#ffffff" stroke-width="0.9"/>
<polyline points="225.2,384.5 226.5,383 227.8,384.5" fill="none" stroke="#ffffff" stroke-width="0.9"/>
<rect x="211" y="277" width="7" height="2.3" fill="#ffffff"/>
<line x1="285.5" y1="133.5" x2="285.5" y2="152" stroke="#ffffff" stroke-width="1"/>
<line x1="285.5" y1="152" x2="285.5" y2="403.5" stroke="#ffffff" stroke-width="1" stroke-dasharray="6,2"/>
<line x1="285.5" y1="133.5" x2="306" y2="133.5" stroke="#ffffff" stroke-width="1"/>
<line x1="306" y1="133.5" x2="377.5" y2="133.5" stroke="#ffffff" stroke-width="1" stroke-dasharray="6,2"/>
<line x1="377.5" y1="133.5" x2="377.5" y2="403.5" stroke="#ffffff" stroke-width="1" stroke-dasharray="7,2"/>
<line x1="285.5" y1="403.5" x2="377.5" y2="403.5" stroke="#ffffff" stroke-width="1" stroke-dasharray="8,3"/>
<rect x="328.5" y="136.8" width="29.5" height="2.8" fill="#ffffff"/>
<rect x="332.88" y="138.62" width="0.9" height="0.98" fill="#000"/>
<rect x="338.73" y="138.62" width="0.9" height="0.98" fill="#000"/>
<rect x="347.9" y="138.62" width="0.9" height="0.98" fill="#000"/>
<rect x="354.76" y="138.62" width="0.9" height="0.98" fill="#000"/>
<line x1="358" y1="138.2" x2="362.2" y2="138.2" stroke="#ffffff" stroke-width="1"/>
<line x1="246.5" y1="172.5" x2="246.5" y2="356.5" stroke="#ffffff" stroke-width="1"/>
<line x1="272.5" y1="172.5" x2="272.5" y2="356.5" stroke="#ffffff" stroke-width="1"/>
<line x1="246.5" y1="172.5" x2="272.5" y2="172.5" stroke="#ffffff" stroke-width="1"/>
<line x1="246.5" y1="356.5" x2="272.5" y2="356.5" stroke="#ffffff" stroke-width="1"/>
<line x1="246.5" y1="356.5" x2="259.5" y2="379" stroke="#ffffff" stroke-width="1"/>
<line x1="272.5" y1="356.5" x2="259.5" y2="379" stroke="#ffffff" stroke-width="1"/>
<line x1="259.5" y1="379" x2="259.5" y2="381" stroke="#ffffff" stroke-width="1"/>
<rect x="255.5" y="380.8" width="5.8" height="1.9" fill="#c82828"/>
<line x1="259.5" y1="382.6" x2="259.5" y2="385.5" stroke="#ffffff" stroke-width="1"/>
<polyline points="252,396.5 252,389.5 254,387.5" fill="none" stroke="#ffffff" stroke-width="1"/>
<polyline points="267,396.5 267,389.5 265,387.5" fill="none" stroke="#ffffff" stroke-width="1"/>
<polygon points="254,388.5 265,388.5 262.5,393 256.5,393" fill="none" stroke="#ffffff" stroke-width="1"/>
<rect x="257.5" y="386" width="4" height="2.5" fill="#ffffff"/>
<rect x="256" y="393" width="7" height="2.5" fill="none" stroke="#ffffff" stroke-width="1"/>
<rect x="256.3" y="152.3" width="6.7" height="5.4" fill="#ffffff"/>
<rect x="254.5" y="157.5" width="10.2" height="15" fill="none" stroke="#ffffff" stroke-width="1"/>
<line x1="253.3" y1="160.8" x2="265.9" y2="160.8" stroke="#ffffff" stroke-width="1"/>
<rect x="256.3" y="161.3" width="6.8" height="9.8" fill="#ffffff"/>
<line x1="259.7" y1="161.5" x2="259.7" y2="171" stroke="#000" stroke-width="1.1"/>
<rect x="258.3" y="158.3" width="2.6" height="2.2" fill="#e6e650"/>
<line x1="264.7" y1="160.7" x2="270.5" y2="160.7" stroke="#ffffff" stroke-width="1"/>
<path d="M266.7 160.7L268.5 157.8L270.5 160.7Z" fill="#ffffff" stroke="#ffffff" stroke-width="0.8"/>
<rect x="269.3" y="165" width="2.3" height="4.5" fill="none" stroke="#ffffff" stroke-width="1"/>
<line x1="270.5" y1="169.5" x2="270.5" y2="172.5" stroke="#ffffff" stroke-width="1"/>
<rect x="269.53" y="175" width="5.94" height="3.6" fill="#ffffff"/>
<path d="M271.51 175L272.5 176.08L273.49 175ZM271.51 178.6L272.5 177.52L273.49 178.6Z" fill="#000" stroke="none" stroke-width="0"/>
<rect x="269.53" y="273.2" width="5.94" height="3.6" fill="#ffffff"/>
<path d="M271.51 273.2L272.5 274.28L273.49 273.2ZM271.51 276.8L272.5 275.72L273.49 276.8Z" fill="#000" stroke="none" stroke-width="0"/>
<rect x="269.53" y="340.7" width="5.94" height="3.6" fill="#ffffff"/>
<path d="M271.51 340.7L272.5 341.78L273.49 340.7ZM271.51 344.3L272.5 343.22L273.49 344.3Z" fill="#000" stroke="none" stroke-width="0"/>
<rect x="257.1" y="213" width="4.8" height="4.8" fill="#ffffff"/>
<rect x="251.5" y="225.9" width="11" height="4.6" fill="#ffffff"/>
<rect x="257.48" y="228.89" width="0.9" height="1.61" fill="#000"/>
<rect x="262.5" y="228" width="4.4" height="2.5" fill="#ffffff"/>
<rect x="264" y="225.9" width="1.5" height="2.5" fill="#ffffff"/>
<rect x="252.9" y="234.2" width="13" height="4.3" fill="#ffffff"/>
<line x1="292.5" y1="172.5" x2="292.5" y2="356.5" stroke="#ffffff" stroke-width="1"/>
<line x1="318.5" y1="172.5" x2="318.5" y2="356.5" stroke="#ffffff" stroke-width="1"/>
<line x1="292.5" y1="172.5" x2="318.5" y2="172.5" stroke="#ffffff" stroke-width="1"/>
<line x1="292.5" y1="356.5" x2="318.5" y2="356.5" stroke="#ffffff" stroke-width="1"/>
<line x1="292.5" y1="356.5" x2="305.5" y2="379" stroke="#ffffff" stroke-width="1"/>
<line x1="318.5" y1="356.5" x2="305.5" y2="379" stroke="#ffffff" stroke-width="1"/>
<line x1="305.5" y1="379" x2="305.5" y2="381" stroke="#ffffff" stroke-width="1"/>
<rect x="301.5" y="380.8" width="5.8" height="1.9" fill="#c82828"/>
<line x1="305.5" y1="382.6" x2="305.5" y2="385.5" stroke="#ffffff" stroke-width="1"/>
<polyline points="298,396.5 298,389.5 300,387.5" fill="none" stroke="#ffffff" stroke-width="1"/>
<polyline points="313,396.5 313,389.5 311,387.5" fill="none" stroke="#ffffff" stroke-width="1"/>
<polygon points="300,388.5 311,388.5 308.5,393 302.5,393" fill="none" stroke="#ffffff" stroke-width="1"/>
<rect x="303.5" y="386" width="4" height="2.5" fill="#ffffff"/>
<rect x="302" y="393" width="7" height="2.5" fill="none" stroke="#ffffff" stroke-width="1"/>
<rect x="300.5" y="157.5" width="10.2" height="15" fill="none" stroke="#ffffff" stroke-width="1"/>
<line x1="299.3" y1="160.8" x2="311.9" y2="160.8" stroke="#ffffff" stroke-width="1"/>
<rect x="302.3" y="161.3" width="6.8" height="9.8" fill="#ffffff"/>
<line x1="305.7" y1="161.5" x2="305.7" y2="171" stroke="#000" stroke-width="1.1"/>
<rect x="304.3" y="158.3" width="2.6" height="2.2" fill="#e6e650"/>
<line x1="310.7" y1="160.7" x2="316.5" y2="160.7" stroke="#ffffff" stroke-width="1"/>
<path d="M312.7 160.7L314.5 157.8L316.5 160.7Z" fill="#ffffff" stroke="#ffffff" stroke-width="0.8"/>
<rect x="315.3" y="165" width="2.3" height="4.5" fill="none" stroke="#ffffff" stroke-width="1"/>
<line x1="316.5" y1="169.5" x2="316.5" y2="172.5" stroke="#ffffff" stroke-width="1"/>
<rect x="315.53" y="175" width="5.94" height="3.6" fill="#ffffff"/>
<path d="M317.51 175L318.5 176.08L319.49 175ZM317.51 178.6L318.5 177.52L319.49 178.6Z" fill="#000" stroke="none" stroke-width="0"/>
<rect x="315.53" y="273.2" width="5.94" height="3.6" fill="#ffffff"/>
<path d="M317.51 273.2L318.5 274.28L319.49 273.2ZM317.51 276.8L318.5 275.72L319.49 276.8Z" fill="#000" stroke="none" stroke-width="0"/>
<rect x="315.53" y="340.7" width="5.94" height="3.6" fill="#ffffff"/>
<path d="M317.51 340.7L318.5 341.78L319.49 340.7ZM317.51 344.3L318.5 343.22L319.49 344.3Z" fill="#000" stroke="none" stroke-width="0"/>
<rect x="303.1" y="213" width="4.8" height="4.8" fill="#ffffff"/>
<rect x="297.5" y="225.9" width="11" height="4.6" fill="#ffffff"/>
<rect x="302.08" y="228.89" width="0.9" height="1.61" fill="#000"/>
<rect x="308.5" y="228" width="4.4" height="2.5" fill="#ffffff"/>
<rect x="310" y="225.9" width="1.5" height="2.5" fill="#ffffff"/>
<rect x="298.9" y="234.2" width="13" height="4.3" fill="#ffffff"/>
<line x1="333.5" y1="172.5" x2="333.5" y2="356.5" stroke="#ffffff" stroke-width="1"/>
<line x1="359.5" y1="172.5" x2="359.5" y2="356.5" stroke="#ffffff" stroke-width="1"/>
<line x1="333.5" y1="172.5" x2="359.5" y2="172.5" stroke="#ffffff" stroke-width="1"/>
<line x1="333.5" y1="356.5" x2="359.5" y2="356.5" stroke="#ffffff" stroke-width="1"/>
<line x1="333.5" y1="356.5" x2="346.5" y2="379" stroke="#ffffff" stroke-width="1"/>
<line x1="359.5" y1="356.5" x2="346.5" y2="379" stroke="#ffffff" stroke-width="1"/>
<line x1="346.5" y1="379" x2="346.5" y2="381" stroke="#ffffff" stroke-width="1"/>
<rect x="342.5" y="380.8" width="5.8" height="1.9" fill="#c82828"/>
<line x1="346.5" y1="382.6" x2="346.5" y2="385.5" stroke="#ffffff" stroke-width="1"/>
<polyline points="339,396.5 339,389.5 341,387.5" fill="none" stroke="#ffffff" stroke-width="1"/>
<polyline points="354,396.5 354,389.5 352,387.5" fill="none" stroke="#ffffff" stroke-width="1"/>
<polygon points="341,388.5 352,388.5 349.5,393 343.5,393" fill="none" stroke="#ffffff" stroke-width="1"/>
<rect x="344.5" y="386" width="4" height="2.5" fill="#ffffff"/>
<rect x="343" y="393" width="7" height="2.5" fill="none" stroke="#ffffff" stroke-width="1"/>
<rect x="341.5" y="157.5" width="10.2" height="15" fill="none" stroke="#ffffff" stroke-width="1"/>
<line x1="340.3" y1="160.8" x2="352.9" y2="160.8" stroke="#ffffff" stroke-width="1"/>
<rect x="343.3" y="161.3" width="6.8" height="9.8" fill="#ffffff"/>
<line x1="346.7" y1="161.5" x2="346.7" y2="171" stroke="#000" stroke-width="1.1"/>
<rect x="345.3" y="158.3" width="2.6" height="2.2" fill="#e6e650"/>
<line x1="351.7" y1="160.7" x2="357.5" y2="160.7" stroke="#ffffff" stroke-width="1"/>
<path d="M353.7 160.7L355.5 157.8L357.5 160.7Z" fill="#ffffff" stroke="#ffffff" stroke-width="0.8"/>
<rect x="356.3" y="165" width="2.3" height="4.5" fill="none" stroke="#ffffff" stroke-width="1"/>
<line x1="357.5" y1="169.5" x2="357.5" y2="172.5" stroke="#ffffff" stroke-width="1"/>
<rect x="356.53" y="175" width="5.94" height="3.6" fill="#ffffff"/>
<path d="M358.51 175L359.5 176.08L360.49 175ZM358.51 178.6L359.5 177.52L360.49 178.6Z" fill="#000" stroke="none" stroke-width="0"/>
<rect x="356.53" y="273.2" width="5.94" height="3.6" fill="#ffffff"/>
<path d="M358.51 273.2L359.5 274.28L360.49 273.2ZM358.51 276.8L359.5 275.72L360.49 276.8Z" fill="#000" stroke="none" stroke-width="0"/>
<rect x="356.53" y="340.7" width="5.94" height="3.6" fill="#ffffff"/>
<path d="M358.51 340.7L359.5 341.78L360.49 340.7ZM358.51 344.3L359.5 343.22L360.49 344.3Z" fill="#000" stroke="none" stroke-width="0"/>
<rect x="344.1" y="213" width="4.8" height="4.8" fill="#ffffff"/>
<rect x="338.5" y="225.9" width="11" height="4.6" fill="#ffffff"/>
<rect x="344.46" y="228.89" width="0.9" height="1.61" fill="#000"/>
<rect x="349.5" y="228" width="4.4" height="2.5" fill="#ffffff"/>
<rect x="351" y="225.9" width="1.5" height="2.5" fill="#ffffff"/>
<rect x="339.9" y="234.2" width="13" height="4.3" fill="#ffffff"/>
<polygon points="244,162 250.2,162 250.2,166.5 247.1,168.5 244,166.5" fill="none" stroke="#ffffff" stroke-width="1"/>
<rect x="245.6" y="163.5" width="3" height="2" fill="#ffffff"/>
<line x1="250.2" y1="165" x2="254.5" y2="165" stroke="#ffffff" stroke-width="1"/>
<circle cx="281.7" cy="275.3" r="2.8" fill="none" stroke="#ffffff" stroke-width="1.25" shape-rendering="geometricPrecision"/>
<line x1="276.5" y1="275.3" x2="278.9" y2="275.3" stroke="#ffffff" stroke-width="1"/>
<line x1="252" y1="396.5" x2="252" y2="412.5" stroke="#ffffff" stroke-width="1"/>
<line x1="266.5" y1="396.5" x2="266.5" y2="408.5" stroke="#ffffff" stroke-width="1"/>
<rect x="245.6" y="397.8" width="5.8" height="2" fill="#ffffff"/>
<rect x="259.7" y="397.8" width="6.2" height="2.5" fill="#ffffff"/>
<rect x="246.19" y="411.1" width="4.62" height="2.8" fill="#ffffff"/>
<path d="M247.73 411.1L248.5 411.94L249.27 411.1ZM247.73 413.9L248.5 413.06L249.27 413.9Z" fill="#000" stroke="none" stroke-width="0"/>
<rect x="259.69" y="407.1" width="4.62" height="2.8" fill="#ffffff"/>
<path d="M261.23 407.1L262 407.94L262.77 407.1ZM261.23 409.9L262 409.06L262.77 409.9Z" fill="#000" stroke="none" stroke-width="0"/>
<polyline points="259.6,408.5 391.5,408.5 391.5,225.5" fill="none" stroke="#ffffff" stroke-width="1"/>
<line x1="245.5" y1="412.5" x2="624.5" y2="412.5" stroke="#ffffff" stroke-width="1"/>
<line x1="283.5" y1="416.5" x2="630.5" y2="416.5" stroke="#ffffff" stroke-width="1"/>
<line x1="283.5" y1="416.5" x2="268.5" y2="431.5" stroke="#ffffff" stroke-width="1"/>
<line x1="396.5" y1="225.5" x2="396.5" y2="416.5" stroke="#ffffff" stroke-width="1"/>
<line x1="624.5" y1="225.5" x2="624.5" y2="412.5" stroke="#ffffff" stroke-width="1"/>
<line x1="630.5" y1="225.5" x2="630.5" y2="416.5" stroke="#ffffff" stroke-width="1"/>
<line x1="298" y1="396.5" x2="298" y2="400" stroke="#ffffff" stroke-width="1"/>
<line x1="313" y1="396.5" x2="313" y2="400" stroke="#ffffff" stroke-width="1"/>
<line x1="339" y1="396.5" x2="339" y2="400" stroke="#ffffff" stroke-width="1"/>
<line x1="354" y1="396.5" x2="354" y2="400" stroke="#ffffff" stroke-width="1"/>
<circle cx="384.2" cy="313.6" r="3" fill="none" stroke="#ffffff" stroke-width="1.25" shape-rendering="geometricPrecision"/>
<line x1="387.2" y1="313.6" x2="391.5" y2="313.6" stroke="#ffffff" stroke-width="1"/>
<rect x="385" y="369" width="6" height="2.4" fill="#ffffff"/>
<text x="273" y="161.5" fill="#dc3cdc" font-size="6.25" font-weight="bold" text-anchor="start" textLength="17.6" lengthAdjust="spacingAndGlyphs" stroke="#dc3cdc" stroke-width="0.44">PV44-47</text>
<text x="300" y="154" fill="#dc3cdc" font-size="6.94" font-weight="bold" text-anchor="start" textLength="17.6" lengthAdjust="spacingAndGlyphs" stroke="#dc3cdc" stroke-width="0.49">PV48-51</text>
<text x="345.8" y="154.5" fill="#dc3cdc" font-size="7.64" font-weight="bold" text-anchor="start" textLength="18.2" lengthAdjust="spacingAndGlyphs" stroke="#dc3cdc" stroke-width="0.53">PV52-55</text>
<text x="261" y="184.8" fill="#40e8e8" font-size="5.28" font-weight="bold" text-anchor="start" textLength="7" lengthAdjust="spacingAndGlyphs" stroke="#40e8e8" stroke-width="0.37">LS8</text>
<text x="306.3" y="182" fill="#40e8e8" font-size="5.56" font-weight="bold" text-anchor="start" textLength="6.3" lengthAdjust="spacingAndGlyphs" stroke="#40e8e8" stroke-width="0.39">LS9</text>
<text x="342.5" y="182" fill="#40e8e8" font-size="5.56" font-weight="bold" text-anchor="start" textLength="7.5" lengthAdjust="spacingAndGlyphs" stroke="#40e8e8" stroke-width="0.39">LS12</text>
<text x="262" y="269.7" fill="#40e8e8" font-size="6.67" font-weight="bold" text-anchor="start" textLength="6.8" lengthAdjust="spacingAndGlyphs" stroke="#40e8e8" stroke-width="0.47">LS7</text>
<text x="303" y="265.8" fill="#40e8e8" font-size="7.22" font-weight="bold" text-anchor="start" textLength="8.7" lengthAdjust="spacingAndGlyphs" stroke="#40e8e8" stroke-width="0.51">LS10</text>
<text x="344" y="269" fill="#40e8e8" font-size="6.25" font-weight="bold" text-anchor="start" textLength="8.6" lengthAdjust="spacingAndGlyphs" stroke="#40e8e8" stroke-width="0.44">LS13</text>
<text x="261" y="336.8" fill="#40e8e8" font-size="6.67" font-weight="bold" text-anchor="start" textLength="6.8" lengthAdjust="spacingAndGlyphs" stroke="#40e8e8" stroke-width="0.47">LS9</text>
<text x="302" y="336.8" fill="#40e8e8" font-size="6.67" font-weight="bold" text-anchor="start" textLength="8.8" lengthAdjust="spacingAndGlyphs" stroke="#40e8e8" stroke-width="0.47">LS11</text>
<text x="345" y="336.8" fill="#40e8e8" font-size="6.67" font-weight="bold" text-anchor="start" textLength="9.5" lengthAdjust="spacingAndGlyphs" stroke="#40e8e8" stroke-width="0.47">LS14</text>
<text x="242" y="409.4" fill="#dc3cdc" font-size="6.11" font-weight="bold" text-anchor="start" textLength="7.5" lengthAdjust="spacingAndGlyphs" stroke="#dc3cdc" stroke-width="0.43">PV1</text>
<text x="269" y="407" fill="#dc3cdc" font-size="6.53" font-weight="bold" text-anchor="start" textLength="8.4" lengthAdjust="spacingAndGlyphs" stroke="#dc3cdc" stroke-width="0.46">PV2</text>
<circle cx="239" cy="247.2" r="2.9" fill="none" stroke="#ffffff" stroke-width="1.25" shape-rendering="geometricPrecision"/>
<line x1="241.9" y1="247.2" x2="246.5" y2="247.2" stroke="#ffffff" stroke-width="1"/>
<polyline points="436.8,86.6 442.4,92.6 438.1,99" fill="none" stroke="#ffffff" stroke-width="1"/>
<line x1="442.4" y1="92.5" x2="458" y2="92.5" stroke="#ffffff" stroke-width="1"/>
<line x1="457.8" y1="92.5" x2="457.8" y2="99.5" stroke="#ffffff" stroke-width="1"/>
<rect x="447.1" y="92.5" width="6" height="5.5" fill="#ffffff"/>
<line x1="433.4" y1="99.5" x2="457.8" y2="99.5" stroke="#ffffff" stroke-width="1"/>
<rect x="433.4" y="98.5" width="4" height="1.8" fill="#ffffff"/>
<rect x="438.6" y="99.5" width="19.2" height="12.5" fill="none" stroke="#ffffff" stroke-width="1"/>
<line x1="438.6" y1="101" x2="457.8" y2="101" stroke="#ffffff" stroke-width="1"/>
<rect x="442.9" y="102.2" width="9.5" height="5.6" fill="#ffffff"/>
<line x1="439.8" y1="112" x2="443.2" y2="120.5" stroke="#ffffff" stroke-width="1"/>
<line x1="457" y1="112" x2="453" y2="120.5" stroke="#ffffff" stroke-width="1"/>
<line x1="443.2" y1="120.5" x2="453" y2="120.5" stroke="#ffffff" stroke-width="1"/>
<circle cx="441.2" cy="116.8" r="1.3" fill="none" stroke="#ffffff" stroke-width="1.25" shape-rendering="geometricPrecision"/>
<line x1="439.1" y1="118.5" x2="443.6" y2="115.2" stroke="#ffffff" stroke-width="1"/>
<line x1="439.6" y1="115.2" x2="443.1" y2="118.3" stroke="#ffffff" stroke-width="1"/>
<polyline points="440.1,122 442.6,122 445.1,125.5 450.6,125.5" fill="none" stroke="#ffffff" stroke-width="1"/>
<circle cx="443.4" cy="124.5" r="1.2" fill="none" stroke="#ffffff" stroke-width="1.25" shape-rendering="geometricPrecision"/>
<rect x="440.2" y="129" width="7.2" height="3.4" fill="#ffffff"/>
<rect x="442.1" y="126.5" width="4" height="2.5" fill="#ffffff"/>
<rect x="451.3" y="128.6" width="4.3" height="2.1" fill="#ffffff"/>
<circle cx="449.4" cy="127.5" r="1.1" fill="none" stroke="#ffffff" stroke-width="1.25" shape-rendering="geometricPrecision"/>
<line x1="447.6" y1="121" x2="447.6" y2="128.5" stroke="#ffffff" stroke-width="1"/>
<line x1="455.6" y1="128.6" x2="455.6" y2="138.5" stroke="#ffffff" stroke-width="1"/>
<polyline points="462.6,86.6 468.2,92.6 463.9,99" fill="none" stroke="#ffffff" stroke-width="1"/>
<line x1="468.2" y1="92.5" x2="483.8" y2="92.5" stroke="#ffffff" stroke-width="1"/>
<line x1="483.6" y1="92.5" x2="483.6" y2="99.5" stroke="#ffffff" stroke-width="1"/>
<rect x="472.9" y="92.5" width="6" height="5.5" fill="#ffffff"/>
<line x1="459.2" y1="99.5" x2="483.6" y2="99.5" stroke="#ffffff" stroke-width="1"/>
<rect x="459.2" y="98.5" width="4" height="1.8" fill="#ffffff"/>
<rect x="464.4" y="99.5" width="19.2" height="12.5" fill="none" stroke="#ffffff" stroke-width="1"/>
<line x1="464.4" y1="101" x2="483.6" y2="101" stroke="#ffffff" stroke-width="1"/>
<rect x="468.7" y="102.2" width="9.5" height="5.6" fill="#ffffff"/>
<line x1="465.6" y1="112" x2="469" y2="120.5" stroke="#ffffff" stroke-width="1"/>
<line x1="482.8" y1="112" x2="478.8" y2="120.5" stroke="#ffffff" stroke-width="1"/>
<line x1="469" y1="120.5" x2="478.8" y2="120.5" stroke="#ffffff" stroke-width="1"/>
<circle cx="467" cy="116.8" r="1.3" fill="none" stroke="#ffffff" stroke-width="1.25" shape-rendering="geometricPrecision"/>
<line x1="464.9" y1="118.5" x2="469.4" y2="115.2" stroke="#ffffff" stroke-width="1"/>
<line x1="465.4" y1="115.2" x2="468.9" y2="118.3" stroke="#ffffff" stroke-width="1"/>
<polyline points="465.9,122 468.4,122 470.9,125.5 476.4,125.5" fill="none" stroke="#ffffff" stroke-width="1"/>
<circle cx="469.2" cy="124.5" r="1.2" fill="none" stroke="#ffffff" stroke-width="1.25" shape-rendering="geometricPrecision"/>
<rect x="466" y="129" width="7.2" height="3.4" fill="#ffffff"/>
<rect x="467.9" y="126.5" width="4" height="2.5" fill="#ffffff"/>
<rect x="477.1" y="128.6" width="4.3" height="2.1" fill="#ffffff"/>
<circle cx="475.2" cy="127.5" r="1.1" fill="none" stroke="#ffffff" stroke-width="1.25" shape-rendering="geometricPrecision"/>
<line x1="473.4" y1="121" x2="473.4" y2="128.5" stroke="#ffffff" stroke-width="1"/>
<line x1="481.4" y1="128.6" x2="481.4" y2="138.5" stroke="#ffffff" stroke-width="1"/>
<polyline points="488.4,86.6 494,92.6 489.7,99" fill="none" stroke="#ffffff" stroke-width="1"/>
<line x1="494" y1="92.5" x2="509.6" y2="92.5" stroke="#ffffff" stroke-width="1"/>
<line x1="509.4" y1="92.5" x2="509.4" y2="99.5" stroke="#ffffff" stroke-width="1"/>
<rect x="498.7" y="92.5" width="6" height="5.5" fill="#ffffff"/>
<line x1="485" y1="99.5" x2="509.4" y2="99.5" stroke="#ffffff" stroke-width="1"/>
<rect x="485" y="98.5" width="4" height="1.8" fill="#ffffff"/>
<rect x="490.2" y="99.5" width="19.2" height="12.5" fill="none" stroke="#ffffff" stroke-width="1"/>
<line x1="490.2" y1="101" x2="509.4" y2="101" stroke="#ffffff" stroke-width="1"/>
<rect x="494.5" y="102.2" width="9.5" height="5.6" fill="#ffffff"/>
<line x1="491.4" y1="112" x2="494.8" y2="120.5" stroke="#ffffff" stroke-width="1"/>
<line x1="508.6" y1="112" x2="504.6" y2="120.5" stroke="#ffffff" stroke-width="1"/>
<line x1="494.8" y1="120.5" x2="504.6" y2="120.5" stroke="#ffffff" stroke-width="1"/>
<circle cx="492.8" cy="116.8" r="1.3" fill="none" stroke="#ffffff" stroke-width="1.25" shape-rendering="geometricPrecision"/>
<line x1="490.7" y1="118.5" x2="495.2" y2="115.2" stroke="#ffffff" stroke-width="1"/>
<line x1="491.2" y1="115.2" x2="494.7" y2="118.3" stroke="#ffffff" stroke-width="1"/>
<polyline points="491.7,122 494.2,122 496.7,125.5 502.2,125.5" fill="none" stroke="#ffffff" stroke-width="1"/>
<circle cx="495" cy="124.5" r="1.2" fill="none" stroke="#ffffff" stroke-width="1.25" shape-rendering="geometricPrecision"/>
<rect x="491.8" y="129" width="7.2" height="3.4" fill="#ffffff"/>
<rect x="493.7" y="126.5" width="4" height="2.5" fill="#ffffff"/>
<rect x="502.9" y="128.6" width="4.3" height="2.1" fill="#ffffff"/>
<circle cx="501" cy="127.5" r="1.1" fill="none" stroke="#ffffff" stroke-width="1.25" shape-rendering="geometricPrecision"/>
<line x1="499.2" y1="121" x2="499.2" y2="128.5" stroke="#ffffff" stroke-width="1"/>
<line x1="507.2" y1="128.6" x2="507.2" y2="138.5" stroke="#ffffff" stroke-width="1"/>
<polyline points="514.2,86.6 519.8,92.6 515.5,99" fill="none" stroke="#ffffff" stroke-width="1"/>
<line x1="519.8" y1="92.5" x2="535.4" y2="92.5" stroke="#ffffff" stroke-width="1"/>
<line x1="535.2" y1="92.5" x2="535.2" y2="99.5" stroke="#ffffff" stroke-width="1"/>
<rect x="524.5" y="92.5" width="6" height="5.5" fill="#ffffff"/>
<line x1="510.8" y1="99.5" x2="535.2" y2="99.5" stroke="#ffffff" stroke-width="1"/>
<rect x="510.8" y="98.5" width="4" height="1.8" fill="#ffffff"/>
<rect x="516" y="99.5" width="19.2" height="12.5" fill="none" stroke="#ffffff" stroke-width="1"/>
<line x1="516" y1="101" x2="535.2" y2="101" stroke="#ffffff" stroke-width="1"/>
<rect x="520.3" y="102.2" width="9.5" height="5.6" fill="#ffffff"/>
<line x1="517.2" y1="112" x2="520.6" y2="120.5" stroke="#ffffff" stroke-width="1"/>
<line x1="534.4" y1="112" x2="530.4" y2="120.5" stroke="#ffffff" stroke-width="1"/>
<line x1="520.6" y1="120.5" x2="530.4" y2="120.5" stroke="#ffffff" stroke-width="1"/>
<circle cx="518.6" cy="116.8" r="1.3" fill="none" stroke="#ffffff" stroke-width="1.25" shape-rendering="geometricPrecision"/>
<line x1="516.5" y1="118.5" x2="521" y2="115.2" stroke="#ffffff" stroke-width="1"/>
<line x1="517" y1="115.2" x2="520.5" y2="118.3" stroke="#ffffff" stroke-width="1"/>
<polyline points="517.5,122 520,122 522.5,125.5 528,125.5" fill="none" stroke="#ffffff" stroke-width="1"/>
<circle cx="520.8" cy="124.5" r="1.2" fill="none" stroke="#ffffff" stroke-width="1.25" shape-rendering="geometricPrecision"/>
<rect x="517.6" y="129" width="7.2" height="3.4" fill="#ffffff"/>
<rect x="519.5" y="126.5" width="4" height="2.5" fill="#ffffff"/>
<rect x="528.7" y="128.6" width="4.3" height="2.1" fill="#ffffff"/>
<circle cx="526.8" cy="127.5" r="1.1" fill="none" stroke="#ffffff" stroke-width="1.25" shape-rendering="geometricPrecision"/>
<line x1="525" y1="121" x2="525" y2="128.5" stroke="#ffffff" stroke-width="1"/>
<line x1="533" y1="128.6" x2="533" y2="138.5" stroke="#ffffff" stroke-width="1"/>
<polyline points="540,86.6 545.6,92.6 541.3,99" fill="none" stroke="#ffffff" stroke-width="1"/>
<line x1="545.6" y1="92.5" x2="561.2" y2="92.5" stroke="#ffffff" stroke-width="1"/>
<line x1="561" y1="92.5" x2="561" y2="99.5" stroke="#ffffff" stroke-width="1"/>
<rect x="550.3" y="92.5" width="6" height="5.5" fill="#ffffff"/>
<line x1="536.6" y1="99.5" x2="561" y2="99.5" stroke="#ffffff" stroke-width="1"/>
<rect x="536.6" y="98.5" width="4" height="1.8" fill="#ffffff"/>
<rect x="541.8" y="99.5" width="19.2" height="12.5" fill="none" stroke="#ffffff" stroke-width="1"/>
<line x1="541.8" y1="101" x2="561" y2="101" stroke="#ffffff" stroke-width="1"/>
<rect x="546.1" y="102.2" width="9.5" height="5.6" fill="#ffffff"/>
<line x1="543" y1="112" x2="546.4" y2="120.5" stroke="#ffffff" stroke-width="1"/>
<line x1="560.2" y1="112" x2="556.2" y2="120.5" stroke="#ffffff" stroke-width="1"/>
<line x1="546.4" y1="120.5" x2="556.2" y2="120.5" stroke="#ffffff" stroke-width="1"/>
<circle cx="544.4" cy="116.8" r="1.3" fill="none" stroke="#ffffff" stroke-width="1.25" shape-rendering="geometricPrecision"/>
<line x1="542.3" y1="118.5" x2="546.8" y2="115.2" stroke="#ffffff" stroke-width="1"/>
<line x1="542.8" y1="115.2" x2="546.3" y2="118.3" stroke="#ffffff" stroke-width="1"/>
<polyline points="543.3,122 545.8,122 548.3,125.5 553.8,125.5" fill="none" stroke="#ffffff" stroke-width="1"/>
<circle cx="546.6" cy="124.5" r="1.2" fill="none" stroke="#ffffff" stroke-width="1.25" shape-rendering="geometricPrecision"/>
<rect x="543.4" y="129" width="7.2" height="3.4" fill="#ffffff"/>
<rect x="545.3" y="126.5" width="4" height="2.5" fill="#ffffff"/>
<rect x="554.5" y="128.6" width="4.3" height="2.1" fill="#ffffff"/>
<circle cx="552.6" cy="127.5" r="1.1" fill="none" stroke="#ffffff" stroke-width="1.25" shape-rendering="geometricPrecision"/>
<line x1="550.8" y1="121" x2="550.8" y2="128.5" stroke="#ffffff" stroke-width="1"/>
<line x1="558.8" y1="128.6" x2="558.8" y2="138.5" stroke="#ffffff" stroke-width="1"/>
<polyline points="565.8,86.6 571.4,92.6 567.1,99" fill="none" stroke="#ffffff" stroke-width="1"/>
<line x1="571.4" y1="92.5" x2="587" y2="92.5" stroke="#ffffff" stroke-width="1"/>
<line x1="586.8" y1="92.5" x2="586.8" y2="99.5" stroke="#ffffff" stroke-width="1"/>
<rect x="576.1" y="92.5" width="6" height="5.5" fill="#ffffff"/>
<line x1="562.4" y1="99.5" x2="586.8" y2="99.5" stroke="#ffffff" stroke-width="1"/>
<rect x="562.4" y="98.5" width="4" height="1.8" fill="#ffffff"/>
<rect x="567.6" y="99.5" width="19.2" height="12.5" fill="none" stroke="#ffffff" stroke-width="1"/>
<line x1="567.6" y1="101" x2="586.8" y2="101" stroke="#ffffff" stroke-width="1"/>
<rect x="571.9" y="102.2" width="9.5" height="5.6" fill="#ffffff"/>
<line x1="568.8" y1="112" x2="572.2" y2="120.5" stroke="#ffffff" stroke-width="1"/>
<line x1="586" y1="112" x2="582" y2="120.5" stroke="#ffffff" stroke-width="1"/>
<line x1="572.2" y1="120.5" x2="582" y2="120.5" stroke="#ffffff" stroke-width="1"/>
<circle cx="570.2" cy="116.8" r="1.3" fill="none" stroke="#ffffff" stroke-width="1.25" shape-rendering="geometricPrecision"/>
<line x1="568.1" y1="118.5" x2="572.6" y2="115.2" stroke="#ffffff" stroke-width="1"/>
<line x1="568.6" y1="115.2" x2="572.1" y2="118.3" stroke="#ffffff" stroke-width="1"/>
<polyline points="569.1,122 571.6,122 574.1,125.5 579.6,125.5" fill="none" stroke="#ffffff" stroke-width="1"/>
<circle cx="572.4" cy="124.5" r="1.2" fill="none" stroke="#ffffff" stroke-width="1.25" shape-rendering="geometricPrecision"/>
<rect x="569.2" y="129" width="7.2" height="3.4" fill="#ffffff"/>
<rect x="571.1" y="126.5" width="4" height="2.5" fill="#ffffff"/>
<rect x="580.3" y="128.6" width="4.3" height="2.1" fill="#ffffff"/>
<circle cx="578.4" cy="127.5" r="1.1" fill="none" stroke="#ffffff" stroke-width="1.25" shape-rendering="geometricPrecision"/>
<line x1="576.6" y1="121" x2="576.6" y2="128.5" stroke="#ffffff" stroke-width="1"/>
<line x1="584.6" y1="128.6" x2="584.6" y2="138.5" stroke="#ffffff" stroke-width="1"/>
<line x1="454.1" y1="60.5" x2="603.3" y2="60.5" stroke="#ffffff" stroke-width="1" stroke-dasharray="4,1.6"/>
<rect x="574.8" y="59.3" width="2.4" height="2.4" fill="#e6e650"/>
<line x1="454.1" y1="60.5" x2="454.1" y2="67" stroke="#ffffff" stroke-width="1"/>
<line x1="454.1" y1="72" x2="454.1" y2="92.5" stroke="#ffffff" stroke-width="1" stroke-dasharray="3,1.5"/>
<rect x="452.5" y="67" width="3.2" height="5" fill="#ffffff" stroke="#ffffff" stroke-width="1"/>
<circle cx="454.1" cy="70.5" r="0.9" fill="#000" stroke="#000" stroke-width="1.25" shape-rendering="geometricPrecision"/>
<rect x="450.5" y="68.6" width="2" height="1.7" fill="#ffffff"/>
<line x1="479.82" y1="60.5" x2="479.82" y2="67" stroke="#ffffff" stroke-width="1"/>
<line x1="479.82" y1="72" x2="479.82" y2="92.5" stroke="#ffffff" stroke-width="1" stroke-dasharray="3,1.5"/>
<polyline points="475.82,68.5 479.82,68.5" fill="none" stroke="#ffffff" stroke-width="1"/>
<rect x="478.82" y="67" width="1.8" height="5" fill="#ffffff"/>
<rect x="475.32" y="68.6" width="4" height="1.6" fill="#ffffff"/>
<line x1="505.54" y1="60.5" x2="505.54" y2="67" stroke="#ffffff" stroke-width="1"/>
<line x1="505.54" y1="72" x2="505.54" y2="92.5" stroke="#ffffff" stroke-width="1" stroke-dasharray="3,1.5"/>
<rect x="503.94" y="67" width="3.2" height="5" fill="#ffffff" stroke="#ffffff" stroke-width="1"/>
<circle cx="505.54" cy="70.5" r="0.9" fill="#000" stroke="#000" stroke-width="1.25" shape-rendering="geometricPrecision"/>
<rect x="501.94" y="68.6" width="2" height="1.7" fill="#ffffff"/>
<line x1="531.26" y1="60.5" x2="531.26" y2="67" stroke="#ffffff" stroke-width="1"/>
<line x1="531.26" y1="72" x2="531.26" y2="92.5" stroke="#ffffff" stroke-width="1" stroke-dasharray="3,1.5"/>
<rect x="529.66" y="67" width="3.2" height="5" fill="#ffffff" stroke="#ffffff" stroke-width="1"/>
<circle cx="531.26" cy="70.5" r="0.9" fill="#000" stroke="#000" stroke-width="1.25" shape-rendering="geometricPrecision"/>
<rect x="527.66" y="68.6" width="2" height="1.7" fill="#ffffff"/>
<line x1="556.98" y1="60.5" x2="556.98" y2="67" stroke="#ffffff" stroke-width="1"/>
<line x1="556.98" y1="72" x2="556.98" y2="92.5" stroke="#ffffff" stroke-width="1" stroke-dasharray="3,1.5"/>
<polyline points="552.98,68.5 556.98,68.5" fill="none" stroke="#ffffff" stroke-width="1"/>
<rect x="555.98" y="67" width="1.8" height="5" fill="#ffffff"/>
<rect x="552.48" y="68.6" width="4" height="1.6" fill="#ffffff"/>
<line x1="582.7" y1="60.5" x2="582.7" y2="67" stroke="#ffffff" stroke-width="1"/>
<line x1="582.7" y1="72" x2="582.7" y2="92.5" stroke="#ffffff" stroke-width="1" stroke-dasharray="3,1.5"/>
<rect x="581.1" y="67" width="3.2" height="5" fill="#ffffff" stroke="#ffffff" stroke-width="1"/>
<circle cx="582.7" cy="70.5" r="0.9" fill="#000" stroke="#000" stroke-width="1.25" shape-rendering="geometricPrecision"/>
<rect x="579.1" y="68.6" width="2" height="1.7" fill="#ffffff"/>
<circle cx="441.9" cy="69.4" r="2.9" fill="none" stroke="#ffffff" stroke-width="1.25" shape-rendering="geometricPrecision"/>
<rect x="440.8" y="68.8" width="2.2" height="1.2" fill="#ffffff"/>
<line x1="444.8" y1="69.4" x2="451" y2="69.4" stroke="#ffffff" stroke-width="1"/>
<circle cx="470.6" cy="81.5" r="2.9" fill="none" stroke="#ffffff" stroke-width="1.25" shape-rendering="geometricPrecision"/>
<rect x="469.6" y="80.8" width="2.2" height="1.4" fill="#ffffff"/>
<line x1="473.4" y1="81.5" x2="480" y2="81.5" stroke="#ffffff" stroke-width="1"/>
<line x1="455.6" y1="138.5" x2="584.6" y2="138.5" stroke="#ffffff" stroke-width="1"/>
<rect x="603.3" y="44.5" width="11.1" height="17" fill="none" stroke="#ffffff" stroke-width="1"/>
<line x1="602.3" y1="47" x2="615.3" y2="47" stroke="#ffffff" stroke-width="1"/>
<rect x="605.3" y="47.5" width="7" height="12" fill="#ffffff"/>
<line x1="608.8" y1="48" x2="608.8" y2="59.5" stroke="#000" stroke-width="1"/>
<rect x="607.9" y="45" width="2.2" height="1.6" fill="#e6e650"/>
<rect x="614.4" y="51.4" width="7.6" height="5.6" fill="#ffffff"/>
<polyline points="603.3,61.5 606.5,70.3 611.3,70.3 614.4,61.5" fill="none" stroke="#ffffff" stroke-width="1"/>
<path d="M606.8 64L608.8 67L610.8 64" fill="none" stroke="#ffffff" stroke-width="0.8"/>
<line x1="607.3" y1="70.3" x2="607.3" y2="74.7" stroke="#ffffff" stroke-width="1"/>
<line x1="610.3" y1="70.3" x2="610.3" y2="74.7" stroke="#ffffff" stroke-width="1"/>
<rect x="607.3" y="71.5" width="3" height="1.5" fill="#ffffff"/>
<rect x="606.2" y="74.7" width="5.7" height="5.6" fill="none" stroke="#ffffff" stroke-width="1"/>
<circle cx="594" cy="54.2" r="2.8" fill="none" stroke="#ffffff" stroke-width="1.25" shape-rendering="geometricPrecision"/>
<line x1="596.8" y1="54.2" x2="603.3" y2="54.2" stroke="#ffffff" stroke-width="1"/>
<line x1="608.7" y1="29.4" x2="608.7" y2="44.5" stroke="#ffffff" stroke-width="1"/>
<polyline points="608.7,30 610,31.5 608.7,33" fill="none" stroke="#ffffff" stroke-width="0.8"/>
<path d="M612.84 29.1H615.6M613.19 30.24H614.88M613.37 31.06H614.7M612.67 31.9H615.84M612.99 29.65V32.32M613.86 29.64V32.2M615.71 29.45V31.63M614.06 30.46L612.16 32.5M614.06 30.46L615.95 32.5" fill="none" stroke="#ffffff" stroke-width="1"/>
<path d="M616.92 29.9H619.63M617.38 31.42H620.29M618.64 29.68V32.22M618.46 30.46L616.56 32.5M618.46 30.46L620.35 32.5" fill="none" stroke="#ffffff" stroke-width="1"/>
<path d="M621.46 29.24H624.41M621.75 30.37H624.31M621.14 30.88H623.51M622.24 32.27H623.46M622.25 29.58V32.02M623.73 29.39V31.73" fill="none" stroke="#ffffff" stroke-width="1"/>
<path d="M626.38 29.8H629.12M625.78 31.72H628.37M627.41 29.69V31.59M627.26 30.46L629.15 32.5" fill="none" stroke="#ffffff" stroke-width="1"/>
<path d="M629.83 29.47H632.92M630.69 30.4H632.99M629.88 31.64H632.6M630.78 29.5V31.91M632.95 29.7V32.12" fill="none" stroke="#ffffff" stroke-width="1"/>
<rect x="593" y="36.3" width="8" height="3.2" fill="#ffffff"/>
<rect x="596.09" y="36.3" width="0.9" height="1.12" fill="#000"/>
<rect x="602" y="36.3" width="8.6" height="3.2" fill="#ffffff"/>
<line x1="600.5" y1="43" x2="603.3" y2="45.5" stroke="#ffffff" stroke-width="1"/>
<text x="616.3" y="40" fill="#dc3cdc" font-size="5.97" font-weight="bold" text-anchor="start" textLength="16.3" lengthAdjust="spacingAndGlyphs" stroke="#dc3cdc" stroke-width="0.42">PV60-63</text>
<text x="619.4" y="45.8" fill="#1e1ee6" font-size="5.28" font-weight="bold" text-anchor="start" textLength="5.1" lengthAdjust="spacingAndGlyphs" stroke="#1e1ee6" stroke-width="0.37">M9</text>
<text x="427" y="118.5" fill="#40e8e8" font-size="5.42" font-weight="bold" text-anchor="start" textLength="8.7" lengthAdjust="spacingAndGlyphs" stroke="#40e8e8" stroke-width="0.38">LS27</text>
<text x="459.4" y="112.2" fill="#40e8e8" font-size="5.42" font-weight="bold" text-anchor="start" textLength="8.6" lengthAdjust="spacingAndGlyphs" stroke="#40e8e8" stroke-width="0.38">LS28</text>
<text x="486" y="111.7" fill="#40e8e8" font-size="6.53" font-weight="bold" text-anchor="start" textLength="8.8" lengthAdjust="spacingAndGlyphs" stroke="#40e8e8" stroke-width="0.46">LS29</text>
<text x="514.2" y="112.3" fill="#40e8e8" font-size="5.97" font-weight="bold" text-anchor="start" textLength="9.2" lengthAdjust="spacingAndGlyphs" stroke="#40e8e8" stroke-width="0.42">LS30</text>
<text x="541.3" y="112.2" fill="#40e8e8" font-size="5.83" font-weight="bold" text-anchor="start" textLength="8.7" lengthAdjust="spacingAndGlyphs" stroke="#40e8e8" stroke-width="0.41">LS31</text>
<text x="566.5" y="111" fill="#40e8e8" font-size="5" font-weight="bold" text-anchor="start" textLength="9.2" lengthAdjust="spacingAndGlyphs" stroke="#40e8e8" stroke-width="0.35">LS32</text>
<text x="452.6" y="125.4" fill="#1e1ee6" font-size="5.56" font-weight="bold" text-anchor="start" textLength="7.4" lengthAdjust="spacingAndGlyphs" stroke="#1e1ee6" stroke-width="0.39">M10</text>
<text x="478.8" y="125.4" fill="#1e1ee6" font-size="5.56" font-weight="bold" text-anchor="start" textLength="7.4" lengthAdjust="spacingAndGlyphs" stroke="#1e1ee6" stroke-width="0.39">M11</text>
<text x="505.9" y="124" fill="#1e1ee6" font-size="5.56" font-weight="bold" text-anchor="start" textLength="7.4" lengthAdjust="spacingAndGlyphs" stroke="#1e1ee6" stroke-width="0.39">M12</text>
<text x="533" y="125" fill="#1e1ee6" font-size="5.56" font-weight="bold" text-anchor="start" textLength="7.4" lengthAdjust="spacingAndGlyphs" stroke="#1e1ee6" stroke-width="0.39">M13</text>
<text x="557.3" y="125" fill="#1e1ee6" font-size="5.56" font-weight="bold" text-anchor="start" textLength="7.4" lengthAdjust="spacingAndGlyphs" stroke="#1e1ee6" stroke-width="0.39">M14</text>
<text x="582.5" y="125" fill="#1e1ee6" font-size="5.56" font-weight="bold" text-anchor="start" textLength="7.4" lengthAdjust="spacingAndGlyphs" stroke="#1e1ee6" stroke-width="0.39">M15</text>
<text x="450.2" y="143.1" fill="#dc3cdc" font-size="5.83" font-weight="bold" text-anchor="start" textLength="7.8" lengthAdjust="spacingAndGlyphs" stroke="#dc3cdc" stroke-width="0.41">PV3</text>
<text x="478.8" y="142.6" fill="#dc3cdc" font-size="5.83" font-weight="bold" text-anchor="start" textLength="7.8" lengthAdjust="spacingAndGlyphs" stroke="#dc3cdc" stroke-width="0.41">PV4</text>
<text x="498" y="140.2" fill="#dc3cdc" font-size="5.83" font-weight="bold" text-anchor="start" textLength="7.8" lengthAdjust="spacingAndGlyphs" stroke="#dc3cdc" stroke-width="0.41">PV5</text>
<text x="534" y="142.2" fill="#dc3cdc" font-size="5.83" font-weight="bold" text-anchor="start" textLength="7.8" lengthAdjust="spacingAndGlyphs" stroke="#dc3cdc" stroke-width="0.41">PV6</text>
<text x="558.8" y="145" fill="#dc3cdc" font-size="5.83" font-weight="bold" text-anchor="start" textLength="7.8" lengthAdjust="spacingAndGlyphs" stroke="#dc3cdc" stroke-width="0.41">PV7</text>
<text x="582" y="144.2" fill="#dc3cdc" font-size="5.83" font-weight="bold" text-anchor="start" textLength="7.8" lengthAdjust="spacingAndGlyphs" stroke="#dc3cdc" stroke-width="0.41">PV8</text>
<line x1="510.8" y1="138.5" x2="510.8" y2="170.7" stroke="#ffffff" stroke-width="1"/>
<rect x="512.5" y="139.7" width="3" height="5.9" fill="none" stroke="#ffffff" stroke-width="1"/>
<rect x="513.3" y="141" width="1.5" height="1.3" fill="#ffffff"/>
<rect x="513.3" y="143" width="1.5" height="1.3" fill="#ffffff"/>
<polygon points="504,146.5 515.5,146.5 512,152 512,156 509.5,156 509.5,152" fill="#ffffff" stroke="#ffffff" stroke-width="1"/>
<line x1="506.5" y1="149" x2="513" y2="155" stroke="#000" stroke-width="0.8"/>
<rect x="507" y="158.6" width="3.4" height="1.4" fill="#ffffff"/>
<rect x="506.2" y="166.6" width="6.6" height="3.2" fill="#ffffff"/>
<circle cx="509.5" cy="168.2" r="1" fill="#000" stroke="#000" stroke-width="1.25" shape-rendering="geometricPrecision"/>
<line x1="510.4" y1="170.7" x2="456.8" y2="261" stroke="#ffffff" stroke-width="1"/>
<line x1="511" y1="170.7" x2="560.5" y2="264" stroke="#ffffff" stroke-width="1"/>
<line x1="515.5" y1="153.3" x2="520.6" y2="159.7" stroke="#ffffff" stroke-width="1"/>
<rect x="518" y="145.2" width="12" height="3.4" fill="#ffffff"/>
<line x1="517.2" y1="150.6" x2="532.5" y2="150.6" stroke="#ffffff" stroke-width="1"/>
<rect x="519.5" y="149.7" width="1.4" height="1.8" fill="#000" stroke="#ffffff" stroke-width="0.6"/>
<rect x="521.8" y="149.7" width="1.4" height="1.8" fill="#000" stroke="#ffffff" stroke-width="0.6"/>
<rect x="524.1" y="149.7" width="1.4" height="1.8" fill="#000" stroke="#ffffff" stroke-width="0.6"/>
<rect x="526.4" y="149.7" width="1.4" height="1.8" fill="#000" stroke="#ffffff" stroke-width="0.6"/>
<rect x="528.7" y="149.7" width="1.4" height="1.8" fill="#000" stroke="#ffffff" stroke-width="0.6"/>
<text x="521.9" y="157.5" fill="#dc3cdc" font-size="5.83" font-weight="bold" text-anchor="start" textLength="8.1" lengthAdjust="spacingAndGlyphs" stroke="#dc3cdc" stroke-width="0.41">PV9</text>
<text x="493" y="161.8" fill="#dc3cdc" font-size="6.67" font-weight="bold" text-anchor="start" textLength="8.5" lengthAdjust="spacingAndGlyphs" stroke="#dc3cdc" stroke-width="0.47">PV10</text>
<text x="516.8" y="170.7" fill="#dc3cdc" font-size="5.83" font-weight="bold" text-anchor="start" textLength="8.1" lengthAdjust="spacingAndGlyphs" stroke="#dc3cdc" stroke-width="0.41">PV11</text>
<rect x="441.2" y="209.8" width="9.8" height="13.2" fill="none" stroke="#ffffff" stroke-width="1"/>
<rect x="442.4" y="211" width="7.4" height="9.8" fill="#ffffff"/>
<line x1="446.1" y1="211.5" x2="446.1" y2="220.5" stroke="#000" stroke-width="1"/>
<rect x="445.4" y="205" width="1.8" height="4.8" fill="#ffffff"/>
<rect x="449.2" y="203.8" width="6.4" height="5.2" fill="#ffffff"/>
<rect x="439.5" y="223.8" width="13.5" height="8.9" fill="none" stroke="#ffffff" stroke-width="1"/>
<line x1="439.5" y1="228.2" x2="453" y2="228.2" stroke="#ffffff" stroke-width="1"/>
<polyline points="444.2,226.2 448.2,226.2" fill="none" stroke="#ffffff" stroke-width="1"/>
<polyline points="443.7,229.8 449.2,229.8" fill="none" stroke="#ffffff" stroke-width="1"/>
<line x1="440.7" y1="232.7" x2="446.5" y2="244.5" stroke="#ffffff" stroke-width="1"/>
<line x1="452.2" y1="232.7" x2="447.5" y2="244.5" stroke="#ffffff" stroke-width="1"/>
<rect x="444" y="234" width="4.4" height="3.4" fill="#ffffff"/>
<line x1="447" y1="244.5" x2="447" y2="251" stroke="#ffffff" stroke-width="1"/>
<rect x="444.7" y="246.3" width="4" height="1.8" fill="#ffffff"/>
<rect x="570.2" y="209.8" width="9.8" height="13.2" fill="none" stroke="#ffffff" stroke-width="1"/>
<rect x="571.4" y="211" width="7.4" height="9.8" fill="#ffffff"/>
<line x1="575.1" y1="211.5" x2="575.1" y2="220.5" stroke="#000" stroke-width="1"/>
<rect x="574.4" y="205" width="1.8" height="4.8" fill="#ffffff"/>
<rect x="578.2" y="203.8" width="6.4" height="5.2" fill="#ffffff"/>
<rect x="568.5" y="223.8" width="13.5" height="8.9" fill="none" stroke="#ffffff" stroke-width="1"/>
<line x1="568.5" y1="228.2" x2="582" y2="228.2" stroke="#ffffff" stroke-width="1"/>
<polyline points="573.2,226.2 577.2,226.2" fill="none" stroke="#ffffff" stroke-width="1"/>
<polyline points="572.7,229.8 578.2,229.8" fill="none" stroke="#ffffff" stroke-width="1"/>
<line x1="569.7" y1="232.7" x2="575.5" y2="244.5" stroke="#ffffff" stroke-width="1"/>
<line x1="581.2" y1="232.7" x2="576.5" y2="244.5" stroke="#ffffff" stroke-width="1"/>
<rect x="573" y="234" width="4.4" height="3.4" fill="#ffffff"/>
<line x1="576" y1="244.5" x2="576" y2="251" stroke="#ffffff" stroke-width="1"/>
<rect x="573.7" y="246.3" width="4" height="1.8" fill="#ffffff"/>
<rect x="455.3" y="260" width="3.7" height="5.5" fill="#ffffff"/>
<line x1="456.2" y1="267.6" x2="467" y2="267.6" stroke="#ffffff" stroke-width="1"/>
<polyline points="456.2,267.6 461,277 467,267.6" fill="none" stroke="#ffffff" stroke-width="1"/>
<line x1="463.7" y1="263" x2="463.7" y2="267.6" stroke="#ffffff" stroke-width="1"/>
<line x1="456.6" y1="277" x2="456.6" y2="293.7" stroke="#ffffff" stroke-width="1"/>
<line x1="460" y1="277" x2="460" y2="293.7" stroke="#ffffff" stroke-width="1"/>
<line x1="456.6" y1="277" x2="460" y2="277" stroke="#ffffff" stroke-width="1"/>
<rect x="466" y="273.5" width="2.5" height="2" fill="#ffffff"/>
<rect x="449.7" y="293.7" width="13.3" height="14.5" fill="none" stroke="#ffffff" stroke-width="1"/>
<rect x="451.5" y="298.5" width="9.5" height="3.5" fill="#ffffff"/>
<rect x="463" y="291.4" width="11.6" height="16.6" fill="none" stroke="#ffffff" stroke-width="1"/>
<rect x="464.7" y="303" width="8" height="3.4" fill="none" stroke="#ffffff" stroke-width="1"/>
<rect x="424.3" y="298.4" width="11.5" height="4" fill="#ffffff"/>
<rect x="438.7" y="299.5" width="6.3" height="8.7" fill="none" stroke="#ffffff" stroke-width="1"/>
<rect x="440" y="301" width="3.8" height="5.5" fill="#ffffff"/>
<rect x="426" y="304" width="8.1" height="13.4" fill="none" stroke="#ffffff" stroke-width="1"/>
<path d="M431.5 307.5L429.5 310.5L431 310.5L429 314" fill="none" stroke="#ffffff" stroke-width="0.9"/>
<circle cx="416.8" cy="311.4" r="2.7" fill="none" stroke="#ffffff" stroke-width="1.25" shape-rendering="geometricPrecision"/>
<line x1="419.5" y1="311.4" x2="426" y2="311.4" stroke="#ffffff" stroke-width="1"/>
<rect x="435.8" y="310.5" width="27.2" height="6.9" fill="none" stroke="#ffffff" stroke-width="1"/>
<rect x="437.5" y="312.2" width="24" height="3.3" fill="#ffffff"/>
<rect x="439.58" y="314.34" width="0.9" height="1.16" fill="#000"/>
<rect x="447.45" y="314.34" width="0.9" height="1.16" fill="#000"/>
<rect x="452.11" y="312.2" width="0.9" height="1.16" fill="#000"/>
<rect x="457.87" y="312.2" width="0.9" height="1.16" fill="#000"/>
<line x1="467" y1="308" x2="467" y2="321.4" stroke="#ffffff" stroke-width="1"/>
<line x1="470.5" y1="308" x2="470.5" y2="321.4" stroke="#ffffff" stroke-width="1"/>
<circle cx="468.5" cy="309.8" r="1.2" fill="none" stroke="#ffffff" stroke-width="1.25" shape-rendering="geometricPrecision"/>
<circle cx="488.7" cy="312.2" r="3" fill="none" stroke="#ffffff" stroke-width="1.25" shape-rendering="geometricPrecision"/>
<line x1="486.5" y1="310.5" x2="491" y2="314" stroke="#ffffff" stroke-width="0.7"/>
<rect x="476" y="310.5" width="3" height="1.6" fill="#ffffff"/>
<rect x="476.5" y="312.5" width="1.5" height="4" fill="#dc3cdc" stroke="#dc3cdc" stroke-width="1"/>
<line x1="478.5" y1="312" x2="484" y2="312" stroke="#ffffff" stroke-width="1"/>
<line x1="455" y1="321.4" x2="484" y2="321.4" stroke="#ffffff" stroke-width="1.4"/>
<rect x="457.8" y="323.5" width="27.7" height="10.6" fill="none" stroke="#ffffff" stroke-width="1"/>
<rect x="454.3" y="326" width="3.5" height="11.6" fill="none" stroke="#ffffff" stroke-width="1"/>
<path d="M461 328.8L463.8 324.5L466.6 328.8L463.8 333ZM466.6 328.8L469.4 324.5L472.2 328.8L469.4 333ZM472.2 328.8L475 324.5L477.8 328.8L475 333ZM477.8 328.8L480.6 324.5L483.4 328.8L480.6 333Z" fill="none" stroke="#ffffff" stroke-width="1"/>
<line x1="458" y1="328.8" x2="485" y2="328.8" stroke="#ffffff" stroke-width="0.9"/>
<path d="M485.5 326Q488 329 485.5 334" fill="none" stroke="#ffffff" stroke-width="1"/>
<circle cx="444.7" cy="330.1" r="2.7" fill="none" stroke="#ffffff" stroke-width="1.25" shape-rendering="geometricPrecision"/>
<rect x="443.5" y="329" width="2.2" height="1.5" fill="#ffffff"/>
<line x1="447.4" y1="330.1" x2="454.3" y2="330.1" stroke="#ffffff" stroke-width="1"/>
<rect x="441" y="334.7" width="8.7" height="2.9" fill="#ffffff"/>
<rect x="438.7" y="320.2" width="7" height="4.7" fill="#ffffff"/>
<line x1="462.4" y1="334.1" x2="462.4" y2="341" stroke="#ffffff" stroke-width="1"/>
<line x1="475" y1="334.1" x2="475" y2="352" stroke="#ffffff" stroke-width="1"/>
<rect x="459.5" y="336" width="3.5" height="3" fill="#ffffff"/>
<rect x="471.7" y="336" width="3.3" height="3" fill="#ffffff"/>
<rect x="487.3" y="332.4" width="9.8" height="4" fill="#ffffff"/>
<rect x="480" y="343" width="3.5" height="2" fill="#ffffff"/>
<rect x="480.5" y="345.5" width="1.6" height="4" fill="#dc3cdc" stroke="#dc3cdc" stroke-width="1"/>
<line x1="482" y1="347.5" x2="487" y2="347.5" stroke="#ffffff" stroke-width="1"/>
<circle cx="489.5" cy="347.3" r="2.6" fill="none" stroke="#ffffff" stroke-width="1.25" shape-rendering="geometricPrecision"/>
<line x1="487.5" y1="346" x2="491.5" y2="348.5" stroke="#ffffff" stroke-width="0.7"/>
<rect x="471.4" y="351.7" width="14.5" height="11" fill="#ffffff"/>
<rect x="473.2" y="357.5" width="3.8" height="3" fill="#000"/>
<rect x="480.3" y="357.5" width="3.8" height="3" fill="#000"/>
<circle cx="492.5" cy="356.4" r="2.9" fill="none" stroke="#ffffff" stroke-width="1.25" shape-rendering="geometricPrecision"/>
<line x1="488" y1="355" x2="496" y2="358.5" stroke="#ffffff" stroke-width="0.7"/>
<line x1="485.9" y1="356.4" x2="489.6" y2="356.4" stroke="#ffffff" stroke-width="1"/>
<line x1="472" y1="362.7" x2="478.5" y2="373" stroke="#ffffff" stroke-width="1"/>
<line x1="485.9" y1="362.7" x2="478.5" y2="373" stroke="#ffffff" stroke-width="1"/>
<circle cx="471.5" cy="366.5" r="1.3" fill="none" stroke="#ffffff" stroke-width="1.25" shape-rendering="geometricPrecision"/>
<line x1="470" y1="368" x2="473.5" y2="365" stroke="#ffffff" stroke-width="1"/>
<rect x="472" y="374.3" width="8.7" height="5.2" fill="#ffffff"/>
<rect x="476.5" y="375" width="2" height="2" fill="#000"/>
<path d="M470 387Q474 382 481.8 383.5Q490 382 493.5 387Q490 391.6 481.8 391Q474 391.6 470 387Z" fill="none" stroke="#ffffff" stroke-width="1"/>
<line x1="472" y1="387.3" x2="491.5" y2="387.3" stroke="#ffffff" stroke-width="0.9"/>
<polyline points="493,388 495.5,391.3 500.5,391.3" fill="none" stroke="#ffffff" stroke-width="1"/>
<rect x="497" y="390" width="3.5" height="1.5" fill="#ffffff"/>
<line x1="478.5" y1="380" x2="478.5" y2="383" stroke="#ffffff" stroke-width="1"/>
<rect x="563.8" y="261" width="3.7" height="5.5" fill="#ffffff"/>
<line x1="564.7" y1="267.6" x2="575.5" y2="267.6" stroke="#ffffff" stroke-width="1"/>
<polyline points="564.7,267.6 569.5,277 575.5,267.6" fill="none" stroke="#ffffff" stroke-width="1"/>
<line x1="572.2" y1="263" x2="572.2" y2="267.6" stroke="#ffffff" stroke-width="1"/>
<line x1="565.1" y1="277" x2="565.1" y2="293.7" stroke="#ffffff" stroke-width="1"/>
<line x1="568.5" y1="277" x2="568.5" y2="293.7" stroke="#ffffff" stroke-width="1"/>
<line x1="565.1" y1="277" x2="568.5" y2="277" stroke="#ffffff" stroke-width="1"/>
<rect x="558.2" y="293.7" width="13.3" height="14.5" fill="none" stroke="#ffffff" stroke-width="1"/>
<rect x="560" y="298.5" width="9.5" height="3.5" fill="#ffffff"/>
<line x1="571.8" y1="291.2" x2="583" y2="291.2" stroke="#ffffff" stroke-width="1" stroke-dasharray="3,1.5"/>
<line x1="583" y1="291.2" x2="583" y2="307.7" stroke="#ffffff" stroke-width="1" stroke-dasharray="3,1.5"/>
<line x1="571.8" y1="291.2" x2="571.8" y2="307.7" stroke="#ffffff" stroke-width="1"/>
<rect x="532.8" y="298.4" width="11.5" height="4" fill="#ffffff"/>
<rect x="547.2" y="299.5" width="6.3" height="8.7" fill="none" stroke="#ffffff" stroke-width="1"/>
<rect x="548.5" y="301" width="3.8" height="5.5" fill="#ffffff"/>
<rect x="534.5" y="304" width="8.1" height="13.4" fill="none" stroke="#ffffff" stroke-width="1"/>
<path d="M540 307.5L538 310.5L539.5 310.5L537.5 314" fill="none" stroke="#ffffff" stroke-width="0.9"/>
<rect x="544.3" y="310.5" width="27.2" height="6.9" fill="none" stroke="#ffffff" stroke-width="1"/>
<rect x="546" y="312.2" width="24" height="3.3" fill="#ffffff"/>
<rect x="549.37" y="312.2" width="0.9" height="1.16" fill="#000"/>
<rect x="554.04" y="314.34" width="0.9" height="1.16" fill="#000"/>
<rect x="560.45" y="314.34" width="0.9" height="1.16" fill="#000"/>
<rect x="566.27" y="312.2" width="0.9" height="1.16" fill="#000"/>
<line x1="575.5" y1="308" x2="575.5" y2="321.4" stroke="#ffffff" stroke-width="1"/>
<line x1="579" y1="308" x2="579" y2="321.4" stroke="#ffffff" stroke-width="1"/>
<circle cx="577" cy="309.8" r="1.2" fill="none" stroke="#ffffff" stroke-width="1.25" shape-rendering="geometricPrecision"/>
<rect x="584.5" y="310.5" width="3" height="1.6" fill="#ffffff"/>
<rect x="585" y="312.5" width="1.5" height="4" fill="#dc3cdc" stroke="#dc3cdc" stroke-width="1"/>
<line x1="587" y1="312" x2="592.5" y2="312" stroke="#ffffff" stroke-width="1"/>
<line x1="563.5" y1="321.4" x2="592.5" y2="321.4" stroke="#ffffff" stroke-width="1.4"/>
<rect x="566.3" y="323.5" width="27.7" height="10.6" fill="none" stroke="#ffffff" stroke-width="1"/>
<rect x="562.8" y="326" width="3.5" height="11.6" fill="none" stroke="#ffffff" stroke-width="1"/>
<path d="M569.5 328.8L572.3 324.5L575.1 328.8L572.3 333ZM575.1 328.8L577.9 324.5L580.7 328.8L577.9 333ZM580.7 328.8L583.5 324.5L586.3 328.8L583.5 333ZM586.3 328.8L589.1 324.5L591.9 328.8L589.1 333Z" fill="none" stroke="#ffffff" stroke-width="1"/>
<line x1="566.5" y1="328.8" x2="593.5" y2="328.8" stroke="#ffffff" stroke-width="0.9"/>
<path d="M594 326Q596.5 329 594 334" fill="none" stroke="#ffffff" stroke-width="1"/>
<rect x="549.5" y="334.7" width="8.7" height="2.9" fill="#ffffff"/>
<rect x="547.2" y="320.2" width="7" height="4.7" fill="#ffffff"/>
<rect x="548.9" y="328" width="8.1" height="4.6" fill="#ffffff"/>
<rect x="594.2" y="345" width="5.2" height="4.7" fill="#ffffff"/>
<line x1="570.9" y1="334.1" x2="570.9" y2="341" stroke="#ffffff" stroke-width="1"/>
<line x1="583.5" y1="334.1" x2="583.5" y2="352" stroke="#ffffff" stroke-width="1"/>
<rect x="568" y="336" width="3.5" height="3" fill="#ffffff"/>
<rect x="580.2" y="336" width="3.3" height="3" fill="#ffffff"/>
<rect x="595.8" y="332.4" width="9.8" height="4" fill="#ffffff"/>
<rect x="588.5" y="343" width="3.5" height="2" fill="#ffffff"/>
<rect x="589" y="345.5" width="1.6" height="4" fill="#dc3cdc" stroke="#dc3cdc" stroke-width="1"/>
<line x1="590.5" y1="347.5" x2="595.5" y2="347.5" stroke="#ffffff" stroke-width="1"/>
<rect x="579.9" y="351.7" width="14.5" height="11" fill="#ffffff"/>
<rect x="581.7" y="357.5" width="3.8" height="3" fill="#000"/>
<rect x="588.8" y="357.5" width="3.8" height="3" fill="#000"/>
<line x1="580.5" y1="362.7" x2="587" y2="373" stroke="#ffffff" stroke-width="1"/>
<line x1="594.4" y1="362.7" x2="587" y2="373" stroke="#ffffff" stroke-width="1"/>
<circle cx="580" cy="366.5" r="1.3" fill="none" stroke="#ffffff" stroke-width="1.25" shape-rendering="geometricPrecision"/>
<line x1="578.5" y1="368" x2="582" y2="365" stroke="#ffffff" stroke-width="1"/>
<rect x="580.5" y="374.3" width="8.7" height="5.2" fill="#ffffff"/>
<rect x="585" y="375" width="2" height="2" fill="#000"/>
<path d="M578.5 387Q582.5 382 590.3 383.5Q598.5 382 602 387Q598.5 391.6 590.3 391Q582.5 391.6 578.5 387Z" fill="none" stroke="#ffffff" stroke-width="1"/>
<line x1="580.5" y1="387.3" x2="600" y2="387.3" stroke="#ffffff" stroke-width="0.9"/>
<polyline points="601.5,388 604,391.3 609,391.3" fill="none" stroke="#ffffff" stroke-width="1"/>
<rect x="605.5" y="390" width="3.5" height="1.5" fill="#ffffff"/>
<line x1="587" y1="380" x2="587" y2="383" stroke="#ffffff" stroke-width="1"/>
<line x1="445.8" y1="195.5" x2="445.8" y2="205" stroke="#ffffff" stroke-width="1"/>
<line x1="404.6" y1="195.5" x2="445.8" y2="195.5" stroke="#ffffff" stroke-width="1"/>
<circle cx="401.9" cy="195.5" r="2.7" fill="none" stroke="#ffffff" stroke-width="1.25" shape-rendering="geometricPrecision"/>
<rect x="400.5" y="194.8" width="2" height="1.4" fill="#ffffff"/>
<polygon points="415.2,193.3 419.5,195.6 415.2,198" fill="none" stroke="#ffffff" stroke-width="1"/>
<rect x="414.2" y="193" width="1.2" height="5.2" fill="#ffffff" stroke="#ffffff" stroke-width="1"/>
<line x1="419.5" y1="195.5" x2="426" y2="195.5" stroke="#ffffff" stroke-width="2"/>
<line x1="417.2" y1="180" x2="417.2" y2="193.5" stroke="#ffffff" stroke-width="1"/>
<polyline points="417.2,180.5 418.5,182 417.2,183.5" fill="none" stroke="#ffffff" stroke-width="0.8"/>
<rect x="407" y="190" width="6.8" height="2.6" fill="#ffffff"/>
<rect x="411" y="194.5" width="3" height="2" fill="#ffffff"/>
<rect x="406.5" y="199.9" width="22.3" height="3.8" fill="#ffffff"/>
<rect x="409.74" y="202.37" width="0.9" height="1.33" fill="#000"/>
<rect x="416.82" y="202.37" width="0.9" height="1.33" fill="#000"/>
<rect x="425.91" y="202.37" width="0.9" height="1.33" fill="#000"/>
<rect x="429" y="190" width="2.6" height="4" fill="#ffffff" stroke="#ffffff" stroke-width="1"/>
<rect x="433.5" y="190" width="2.6" height="4" fill="#ffffff" stroke="#ffffff" stroke-width="1"/>
<rect x="438.5" y="190" width="2.6" height="4" fill="#ffffff" stroke="#ffffff" stroke-width="1"/>
<line x1="431.6" y1="188" x2="431.6" y2="195.5" stroke="#ffffff" stroke-width="1"/>
<line x1="436.5" y1="189" x2="436.5" y2="195.5" stroke="#ffffff" stroke-width="1"/>
<line x1="391.5" y1="225.5" x2="435.2" y2="225.5" stroke="#ffffff" stroke-width="1"/>
<rect x="435.2" y="223.8" width="4.7" height="3.5" fill="#ffffff"/>
<rect x="456" y="217.4" width="9" height="5.1" fill="#ffffff"/>
<line x1="465" y1="221" x2="474" y2="221" stroke="#ffffff" stroke-width="1"/>
<rect x="455.2" y="224.7" width="11.5" height="1.8" fill="#ffffff"/>
<rect x="454.5" y="228.8" width="1.5" height="1.6" fill="#000" stroke="#ffffff" stroke-width="0.6"/>
<rect x="457" y="228.8" width="1.5" height="1.6" fill="#000" stroke="#ffffff" stroke-width="0.6"/>
<rect x="459.5" y="228.8" width="1.5" height="1.6" fill="#000" stroke="#ffffff" stroke-width="0.6"/>
<rect x="462" y="228.8" width="1.5" height="1.6" fill="#000" stroke="#ffffff" stroke-width="0.6"/>
<rect x="464.5" y="228.8" width="1.5" height="1.6" fill="#000" stroke="#ffffff" stroke-width="0.6"/>
<rect x="455.7" y="236.8" width="2.2" height="2.6" fill="none" stroke="#ffffff" stroke-width="1"/>
<rect x="458.6" y="236.8" width="2.2" height="2.6" fill="none" stroke="#ffffff" stroke-width="1"/>
<rect x="389.19" y="232.1" width="4.62" height="2.8" fill="#ffffff"/>
<path d="M390.73 232.1L391.5 232.94L392.27 232.1ZM390.73 234.9L391.5 234.06L392.27 234.9Z" fill="#000" stroke="none" stroke-width="0"/>
<rect x="394.19" y="232.1" width="4.62" height="2.8" fill="#ffffff"/>
<path d="M395.73 232.1L396.5 232.94L397.27 232.1ZM395.73 234.9L396.5 234.06L397.27 234.9Z" fill="#000" stroke="none" stroke-width="0"/>
<rect x="622.19" y="232.1" width="4.62" height="2.8" fill="#ffffff"/>
<path d="M623.73 232.1L624.5 232.94L625.27 232.1ZM623.73 234.9L624.5 234.06L625.27 234.9Z" fill="#000" stroke="none" stroke-width="0"/>
<rect x="628.19" y="232.1" width="4.62" height="2.8" fill="#ffffff"/>
<path d="M629.73 232.1L630.5 232.94L631.27 232.1ZM629.73 234.9L630.5 234.06L631.27 234.9Z" fill="#000" stroke="none" stroke-width="0"/>
<polyline points="437.5,257.3 442.8,257.3 442.8,266 438.8,270.2 438.8,280 441,282 450.5,289.5 450.5,293.7" fill="none" stroke="#ffffff" stroke-width="1"/>
<path d="M417.3 262.7L420.5 260.5V265ZM438.9 262.7L435.7 260.5V265Z" fill="#dc3cdc" stroke="#dc3cdc" stroke-width="0.9"/>
<line x1="420.5" y1="262.7" x2="435.7" y2="262.7" stroke="#dc3cdc" stroke-width="2.5"/>
<line x1="420.5" y1="262.7" x2="435.7" y2="262.7" stroke="#000" stroke-width="0.6"/>
<line x1="421.5" y1="260.6" x2="421.5" y2="264.8" stroke="#dc3cdc" stroke-width="0.6"/>
<line x1="423.5" y1="260.6" x2="423.5" y2="264.8" stroke="#dc3cdc" stroke-width="0.6"/>
<line x1="425.5" y1="260.6" x2="425.5" y2="264.8" stroke="#dc3cdc" stroke-width="0.6"/>
<line x1="427.5" y1="260.6" x2="427.5" y2="264.8" stroke="#dc3cdc" stroke-width="0.6"/>
<line x1="429.5" y1="260.6" x2="429.5" y2="264.8" stroke="#dc3cdc" stroke-width="0.6"/>
<line x1="431.5" y1="260.6" x2="431.5" y2="264.8" stroke="#dc3cdc" stroke-width="0.6"/>
<line x1="433.5" y1="260.6" x2="433.5" y2="264.8" stroke="#dc3cdc" stroke-width="0.6"/>
<line x1="435.5" y1="260.6" x2="435.5" y2="264.8" stroke="#dc3cdc" stroke-width="0.6"/>
<circle cx="427" cy="270.2" r="2.6" fill="none" stroke="#ffffff" stroke-width="1.25" shape-rendering="geometricPrecision"/>
<line x1="429.6" y1="270.2" x2="434.2" y2="270.2" stroke="#ffffff" stroke-width="1"/>
<rect x="434.2" y="269.5" width="6" height="1.6" fill="#c82828"/>
<rect x="427.2" y="275" width="7.5" height="3.4" fill="#ffffff"/>
<line x1="446" y1="251" x2="456.2" y2="283" stroke="#ffffff" stroke-width="1"/>
<line x1="575.8" y1="195.4" x2="575.8" y2="205" stroke="#ffffff" stroke-width="1"/>
<line x1="575.8" y1="195.4" x2="598.5" y2="195.4" stroke="#ffffff" stroke-width="1"/>
<rect x="580" y="190" width="2.6" height="4.5" fill="#ffffff" stroke="#ffffff" stroke-width="1"/>
<rect x="585" y="190" width="2.6" height="4.5" fill="#ffffff" stroke="#ffffff" stroke-width="1"/>
<rect x="590" y="190" width="2.6" height="4.5" fill="#ffffff" stroke="#ffffff" stroke-width="1"/>
<circle cx="604.7" cy="195.4" r="2.5" fill="none" stroke="#ffffff" stroke-width="1.25" shape-rendering="geometricPrecision"/>
<line x1="602" y1="195.4" x2="612" y2="195.4" stroke="#ffffff" stroke-width="1"/>
<line x1="604.7" y1="192.5" x2="604.7" y2="198.3" stroke="#ffffff" stroke-width="1"/>
<line x1="604.7" y1="180.4" x2="604.7" y2="192.5" stroke="#ffffff" stroke-width="1"/>
<polyline points="604.7,181 606,182.5 604.7,184" fill="none" stroke="#ffffff" stroke-width="0.8"/>
<rect x="601.3" y="198.3" width="6.3" height="4.7" fill="#ffffff"/>
<rect x="600.3" y="187" width="1.6" height="5" fill="none" stroke="#ffffff" stroke-width="1"/>
<rect x="580" y="204" width="5.7" height="4.7" fill="#ffffff"/>
<line x1="581.6" y1="225.5" x2="630.5" y2="225.5" stroke="#ffffff" stroke-width="1"/>
<rect x="581.6" y="223.8" width="5.2" height="3.5" fill="#ffffff"/>
<rect x="555" y="228.4" width="9.3" height="2.9" fill="#ffffff"/>
<line x1="563" y1="229.2" x2="567" y2="229.2" stroke="#ffffff" stroke-width="1"/>
<polyline points="579.6,257.3 584.6,257.3" fill="none" stroke="#ffffff" stroke-width="1"/>
<polyline points="579.6,257.3 579.6,265 583.5,270 583.5,277 569.5,289 569.5,293.6" fill="none" stroke="#ffffff" stroke-width="1"/>
<path d="M583.4 262.7L586.6 260.5V265ZM604 262.7L600.8 260.5V265Z" fill="#dc3cdc" stroke="#dc3cdc" stroke-width="0.9"/>
<line x1="586.6" y1="262.7" x2="600.8" y2="262.7" stroke="#dc3cdc" stroke-width="2.5"/>
<line x1="586.6" y1="262.7" x2="600.8" y2="262.7" stroke="#000" stroke-width="0.6"/>
<line x1="587.5" y1="260.6" x2="587.5" y2="264.8" stroke="#dc3cdc" stroke-width="0.6"/>
<line x1="589.4" y1="260.6" x2="589.4" y2="264.8" stroke="#dc3cdc" stroke-width="0.6"/>
<line x1="591.3" y1="260.6" x2="591.3" y2="264.8" stroke="#dc3cdc" stroke-width="0.6"/>
<line x1="593.2" y1="260.6" x2="593.2" y2="264.8" stroke="#dc3cdc" stroke-width="0.6"/>
<line x1="595.1" y1="260.6" x2="595.1" y2="264.8" stroke="#dc3cdc" stroke-width="0.6"/>
<line x1="597" y1="260.6" x2="597" y2="264.8" stroke="#dc3cdc" stroke-width="0.6"/>
<line x1="598.9" y1="260.6" x2="598.9" y2="264.8" stroke="#dc3cdc" stroke-width="0.6"/>
<line x1="600.8" y1="260.6" x2="600.8" y2="264.8" stroke="#dc3cdc" stroke-width="0.6"/>
<rect x="581" y="269.5" width="5.7" height="1.6" fill="#c82828"/>
<line x1="575.8" y1="251" x2="564.7" y2="279.3" stroke="#ffffff" stroke-width="1"/>
<line x1="564.7" y1="279.3" x2="564.7" y2="293.6" stroke="#ffffff" stroke-width="1"/>
<rect x="557.2" y="282" width="4.2" height="1.4" fill="#ffffff"/>
<rect x="564.7" y="282" width="4.2" height="1.4" fill="#ffffff"/>
<circle cx="636.5" cy="324.2" r="2.6" fill="none" stroke="#ffffff" stroke-width="1.25" shape-rendering="geometricPrecision"/>
<line x1="630.5" y1="324.2" x2="633.9" y2="324.2" stroke="#ffffff" stroke-width="1"/>
<line x1="639.1" y1="324.6" x2="644.3" y2="324.6" stroke="#ffffff" stroke-width="1"/>
<rect x="617.9" y="362.4" width="6.3" height="2.9" fill="#ffffff"/>
<rect x="565.8" y="392.4" width="8.2" height="2.3" fill="#ffffff"/>
<line x1="478.5" y1="391.6" x2="478.5" y2="422.7" stroke="#ffffff" stroke-width="1"/>
<rect x="476.5" y="420.7" width="4" height="2" fill="none" stroke="#ffffff" stroke-width="0.9"/>
<circle cx="462.3" cy="423.9" r="2.2" fill="none" stroke="#ffffff" stroke-width="1.25" shape-rendering="geometricPrecision"/>
<line x1="464.5" y1="423.9" x2="467.8" y2="423.9" stroke="#ffffff" stroke-width="1"/>
<rect x="457.8" y="426.6" width="7.7" height="3.1" fill="#ffffff" stroke="#ffffff" stroke-width="1"/>
<text x="404" y="184.4" fill="#1e1ee6" font-size="6.11" font-weight="bold" text-anchor="start" textLength="7.7" lengthAdjust="spacingAndGlyphs" stroke="#1e1ee6" stroke-width="0.43">M16</text>
<text x="434" y="184.8" fill="#dc3cdc" font-size="6.67" font-weight="bold" text-anchor="start" textLength="8.8" lengthAdjust="spacingAndGlyphs" stroke="#dc3cdc" stroke-width="0.47">PV12</text>
<text x="459.9" y="209.8" fill="#dc3cdc" font-size="5.28" font-weight="bold" text-anchor="start" textLength="15.1" lengthAdjust="spacingAndGlyphs" stroke="#dc3cdc" stroke-width="0.37">PV26-29</text>
<text x="383.7" y="225.5" fill="#dc3cdc" font-size="6.67" font-weight="bold" text-anchor="start" textLength="9.3" lengthAdjust="spacingAndGlyphs" stroke="#dc3cdc" stroke-width="0.47">PV15</text>
<text x="400.2" y="237.5" fill="#dc3cdc" font-size="5.14" font-weight="bold" text-anchor="start" textLength="8.8" lengthAdjust="spacingAndGlyphs" stroke="#dc3cdc" stroke-width="0.36">PV14</text>
<text x="454.3" y="244.6" fill="#dc3cdc" font-size="5.28" font-weight="bold" text-anchor="start" textLength="8.1" lengthAdjust="spacingAndGlyphs" stroke="#dc3cdc" stroke-width="0.37">PV15</text>
<text x="448.2" y="250.8" fill="#dc3cdc" font-size="5.28" font-weight="bold" text-anchor="start" textLength="9.4" lengthAdjust="spacingAndGlyphs" stroke="#dc3cdc" stroke-width="0.37">PV16</text>
<text x="430" y="257.3" fill="#1e1ee6" font-size="5.97" font-weight="bold" text-anchor="start" textLength="7" lengthAdjust="spacingAndGlyphs" stroke="#1e1ee6" stroke-width="0.42">M18</text>
<text x="442.2" y="272.8" fill="#dc3cdc" font-size="6.67" font-weight="bold" text-anchor="start" textLength="8.8" lengthAdjust="spacingAndGlyphs" stroke="#dc3cdc" stroke-width="0.47">PV17</text>
<text x="447.3" y="281.7" fill="#dc3cdc" font-size="6.53" font-weight="bold" text-anchor="start" textLength="8.9" lengthAdjust="spacingAndGlyphs" stroke="#dc3cdc" stroke-width="0.46">PV19</text>
<text x="468.8" y="277" fill="#dc3cdc" font-size="5.56" font-weight="bold" text-anchor="start" textLength="9.2" lengthAdjust="spacingAndGlyphs" stroke="#dc3cdc" stroke-width="0.39">PV18</text>
<text x="467" y="286.8" fill="#dc3cdc" font-size="6.67" font-weight="bold" text-anchor="start" textLength="9.9" lengthAdjust="spacingAndGlyphs" stroke="#dc3cdc" stroke-width="0.47">PV20</text>
<text x="438.7" y="296" fill="#1e1ee6" font-size="5.56" font-weight="bold" text-anchor="start" textLength="8.7" lengthAdjust="spacingAndGlyphs" stroke="#1e1ee6" stroke-width="0.39">M21</text>
<text x="476.9" y="304.7" fill="#dc3cdc" font-size="6.53" font-weight="bold" text-anchor="start" textLength="9.2" lengthAdjust="spacingAndGlyphs" stroke="#dc3cdc" stroke-width="0.46">PV21</text>
<text x="452.6" y="349.7" fill="#dc3cdc" font-size="6.53" font-weight="bold" text-anchor="start" textLength="11" lengthAdjust="spacingAndGlyphs" stroke="#dc3cdc" stroke-width="0.46">PV22</text>
<text x="478" y="341" fill="#dc3cdc" font-size="6.39" font-weight="bold" text-anchor="start" textLength="9.9" lengthAdjust="spacingAndGlyphs" stroke="#dc3cdc" stroke-width="0.45">PV23</text>
<text x="494.8" y="345.7" fill="#dc3cdc" font-size="6.53" font-weight="bold" text-anchor="start" textLength="16.2" lengthAdjust="spacingAndGlyphs" stroke="#dc3cdc" stroke-width="0.46">PV48-49</text>
<text x="488.4" y="326" fill="#1e1ee6" font-size="5.56" font-weight="bold" text-anchor="start" textLength="8.1" lengthAdjust="spacingAndGlyphs" stroke="#1e1ee6" stroke-width="0.39">M22</text>
<text x="458" y="372" fill="#40e8e8" font-size="6.53" font-weight="bold" text-anchor="start" textLength="10" lengthAdjust="spacingAndGlyphs" stroke="#40e8e8" stroke-width="0.46">LS45</text>
<text x="484.2" y="377" fill="#1e1ee6" font-size="6.94" font-weight="bold" text-anchor="start" textLength="8.1" lengthAdjust="spacingAndGlyphs" stroke="#1e1ee6" stroke-width="0.49">M23</text>
<text x="492.3" y="384" fill="#1e1ee6" font-size="6.94" font-weight="bold" text-anchor="start" textLength="7.5" lengthAdjust="spacingAndGlyphs" stroke="#1e1ee6" stroke-width="0.49">M24</text>
<text x="464" y="438.9" fill="#1e1ee6" font-size="6.39" font-weight="bold" text-anchor="start" textLength="8.4" lengthAdjust="spacingAndGlyphs" stroke="#1e1ee6" stroke-width="0.45">M29</text>
<text x="584.3" y="183.3" fill="#dc3cdc" font-size="5.97" font-weight="bold" text-anchor="start" textLength="11.7" lengthAdjust="spacingAndGlyphs" stroke="#dc3cdc" stroke-width="0.42">PV24</text>
<text x="549.4" y="209" fill="#dc3cdc" font-size="6.25" font-weight="bold" text-anchor="start" textLength="18" lengthAdjust="spacingAndGlyphs" stroke="#dc3cdc" stroke-width="0.44">PV38-41</text>
<text x="602.3" y="208.7" fill="#1e1ee6" font-size="5.83" font-weight="bold" text-anchor="start" textLength="8.5" lengthAdjust="spacingAndGlyphs" stroke="#1e1ee6" stroke-width="0.41">M17</text>
<text x="552.5" y="242.6" fill="#dc3cdc" font-size="5.83" font-weight="bold" text-anchor="start" textLength="10.5" lengthAdjust="spacingAndGlyphs" stroke="#dc3cdc" stroke-width="0.41">PV25</text>
<text x="582.9" y="249" fill="#dc3cdc" font-size="5.28" font-weight="bold" text-anchor="start" textLength="10.3" lengthAdjust="spacingAndGlyphs" stroke="#dc3cdc" stroke-width="0.37">PV23</text>
<text x="590" y="257.8" fill="#1e1ee6" font-size="5.83" font-weight="bold" text-anchor="start" textLength="7" lengthAdjust="spacingAndGlyphs" stroke="#1e1ee6" stroke-width="0.41">M19</text>
<text x="546.9" y="277" fill="#dc3cdc" font-size="6.53" font-weight="bold" text-anchor="start" textLength="10.7" lengthAdjust="spacingAndGlyphs" stroke="#dc3cdc" stroke-width="0.46">PV27</text>
<text x="574" y="279.8" fill="#dc3cdc" font-size="6.67" font-weight="bold" text-anchor="start" textLength="10.8" lengthAdjust="spacingAndGlyphs" stroke="#dc3cdc" stroke-width="0.47">PV26</text>
<text x="544.9" y="293.9" fill="#1e1ee6" font-size="6.53" font-weight="bold" text-anchor="start" textLength="8.6" lengthAdjust="spacingAndGlyphs" stroke="#1e1ee6" stroke-width="0.46">M20</text>
<text x="585.9" y="304.9" fill="#dc3cdc" font-size="5.69" font-weight="bold" text-anchor="start" textLength="10.4" lengthAdjust="spacingAndGlyphs" stroke="#dc3cdc" stroke-width="0.4">PV29</text>
<rect x="589.4" y="315.3" width="6.9" height="4.7" fill="#ffffff"/>
<text x="596.9" y="325" fill="#1e1ee6" font-size="5.56" font-weight="bold" text-anchor="start" textLength="6.9" lengthAdjust="spacingAndGlyphs" stroke="#1e1ee6" stroke-width="0.39">M23</text>
<text x="594.2" y="342" fill="#dc3cdc" font-size="6.94" font-weight="bold" text-anchor="start" textLength="9.8" lengthAdjust="spacingAndGlyphs" stroke="#dc3cdc" stroke-width="0.49">PV31</text>
<text x="556.6" y="350.2" fill="#dc3cdc" font-size="7.22" font-weight="bold" text-anchor="start" textLength="10.4" lengthAdjust="spacingAndGlyphs" stroke="#dc3cdc" stroke-width="0.51">PV30</text>
<text x="600" y="352" fill="#dc3cdc" font-size="7.22" font-weight="bold" text-anchor="start" textLength="17.3" lengthAdjust="spacingAndGlyphs" stroke="#dc3cdc" stroke-width="0.51">PV70-71</text>
<text x="565.8" y="371.6" fill="#40e8e8" font-size="6.39" font-weight="bold" text-anchor="start" textLength="10.4" lengthAdjust="spacingAndGlyphs" stroke="#40e8e8" stroke-width="0.45">LS46</text>
<text x="590.7" y="376.8" fill="#1e1ee6" font-size="6.39" font-weight="bold" text-anchor="start" textLength="8.7" lengthAdjust="spacingAndGlyphs" stroke="#1e1ee6" stroke-width="0.45">M23</text>
<text x="601.7" y="383.8" fill="#1e1ee6" font-size="6.67" font-weight="bold" text-anchor="start" textLength="8.1" lengthAdjust="spacingAndGlyphs" stroke="#1e1ee6" stroke-width="0.47">M25</text>
<rect x="496" y="293" width="24" height="13.4" fill="none" stroke="#ffffff" stroke-width="1"/>
<rect x="497.5" y="295.5" width="14.5" height="3" fill="#ffffff"/>
<rect x="500.42" y="297.45" width="0.9" height="1.05" fill="#000"/>
<rect x="507.42" y="295.5" width="0.9" height="1.05" fill="#000"/>
<rect x="497.5" y="300.5" width="21" height="3" fill="#ffffff"/>
<rect x="500.8" y="302.45" width="0.9" height="1.05" fill="#000"/>
<rect x="508.5" y="302.45" width="0.9" height="1.05" fill="#000"/>
<rect x="514.04" y="300.5" width="0.9" height="1.05" fill="#000"/>
<line x1="576.2" y1="398.6" x2="646.5" y2="398.6" stroke="#ffffff" stroke-width="3.5" stroke-dasharray="32,14"/>
<line x1="576.2" y1="398.6" x2="646.5" y2="398.6" stroke="#000" stroke-width="2" stroke-dasharray="1.3,9.5"/>
<line x1="646.5" y1="398.6" x2="646.5" y2="199.6" stroke="#ffffff" stroke-width="3.5" stroke-dasharray="32,14"/>
<line x1="646.5" y1="398.6" x2="646.5" y2="199.6" stroke="#000" stroke-width="2" stroke-dasharray="1.3,9.5"/>
<line x1="646.5" y1="199.6" x2="759.5" y2="199.6" stroke="#ffffff" stroke-width="1" stroke-dasharray="8,1.3,8,1.3,8,14"/>
<polyline points="576.2,400.5 648.4,400.5 648.4,201.5 759.5,201.5" fill="none" stroke="#ffffff" stroke-width="1"/>
<polyline points="576.2,396.7 644.6,396.7 644.6,197.7 759.5,197.7" fill="none" stroke="#ffffff" stroke-width="1"/>
<circle cx="759.5" cy="199.6" r="1.9" fill="#000" stroke="#ffffff" stroke-width="1.25" shape-rendering="geometricPrecision"/>
<circle cx="576.2" cy="398.6" r="1.9" fill="#000" stroke="#ffffff" stroke-width="1.25" shape-rendering="geometricPrecision"/>
<line x1="467.8" y1="424.3" x2="659.7" y2="424.3" stroke="#ffffff" stroke-width="3.5" stroke-dasharray="32,14"/>
<line x1="467.8" y1="424.3" x2="659.7" y2="424.3" stroke="#000" stroke-width="2" stroke-dasharray="1.3,9.5"/>
<line x1="659.7" y1="424.3" x2="659.7" y2="210.2" stroke="#ffffff" stroke-width="1" stroke-dasharray="8,1.3,8,1.3,8,14"/>
<line x1="659.7" y1="210.2" x2="698.8" y2="210.2" stroke="#ffffff" stroke-width="1" stroke-dasharray="8,1.3,8,1.3,8,14"/>
<polyline points="467.8,426.2 661.6,426.2 661.6,212.1 698.8,212.1" fill="none" stroke="#ffffff" stroke-width="1"/>
<polyline points="467.8,422.4 657.8,422.4 657.8,208.3 698.8,208.3" fill="none" stroke="#ffffff" stroke-width="1"/>
<circle cx="698.8" cy="210.2" r="1.9" fill="#000" stroke="#ffffff" stroke-width="1.25" shape-rendering="geometricPrecision"/>
<circle cx="467.8" cy="424.3" r="1.9" fill="#000" stroke="#ffffff" stroke-width="1.25" shape-rendering="geometricPrecision"/>
<line x1="750.2" y1="383.5" x2="794.6" y2="383.5" stroke="#ffffff" stroke-width="3.5" stroke-dasharray="32,14"/>
<line x1="750.2" y1="383.5" x2="794.6" y2="383.5" stroke="#000" stroke-width="2" stroke-dasharray="1.3,9.5"/>
<line x1="794.6" y1="383.5" x2="794.6" y2="253.7" stroke="#ffffff" stroke-width="3.5" stroke-dasharray="32,14"/>
<line x1="794.6" y1="383.5" x2="794.6" y2="253.7" stroke="#000" stroke-width="2" stroke-dasharray="1.3,9.5"/>
<line x1="794.6" y1="253.7" x2="848.4" y2="253.7" stroke="#ffffff" stroke-width="1" stroke-dasharray="8,1.3,8,1.3,8,14"/>
<polyline points="750.2,385.4 796.5,385.4 796.5,255.6 848.4,255.6" fill="none" stroke="#ffffff" stroke-width="1"/>
<polyline points="750.2,381.6 792.7,381.6 792.7,251.8 848.4,251.8" fill="none" stroke="#ffffff" stroke-width="1"/>
<circle cx="848.4" cy="253.7" r="1.9" fill="#000" stroke="#ffffff" stroke-width="1.25" shape-rendering="geometricPrecision"/>
<circle cx="750.2" cy="383.5" r="1.9" fill="#000" stroke="#ffffff" stroke-width="1.25" shape-rendering="geometricPrecision"/>
<line x1="687" y1="403.2" x2="810.6" y2="403.2" stroke="#ffffff" stroke-width="1" stroke-dasharray="8,1.3,8,1.3,8,14"/>
<line x1="810.6" y1="403.2" x2="810.6" y2="324.6" stroke="#ffffff" stroke-width="3.5" stroke-dasharray="32,14"/>
<line x1="810.6" y1="403.2" x2="810.6" y2="324.6" stroke="#000" stroke-width="2" stroke-dasharray="1.3,9.5"/>
<line x1="810.6" y1="324.6" x2="848.4" y2="324.6" stroke="#ffffff" stroke-width="3.5" stroke-dasharray="32,14"/>
<line x1="810.6" y1="324.6" x2="848.4" y2="324.6" stroke="#000" stroke-width="2" stroke-dasharray="1.3,9.5"/>
<polyline points="687,405.1 812.5,405.1 812.5,326.5 848.4,326.5" fill="none" stroke="#ffffff" stroke-width="1"/>
<polyline points="687,401.3 808.7,401.3 808.7,322.7 848.4,322.7" fill="none" stroke="#ffffff" stroke-width="1"/>
<circle cx="848.4" cy="324.6" r="1.9" fill="#000" stroke="#ffffff" stroke-width="1.25" shape-rendering="geometricPrecision"/>
<circle cx="687" cy="403.2" r="1.9" fill="#000" stroke="#ffffff" stroke-width="1.25" shape-rendering="geometricPrecision"/>
<line x1="685.5" y1="225.5" x2="708.5" y2="225.5" stroke="#ffffff" stroke-width="1"/>
<line x1="685.5" y1="225.5" x2="685.5" y2="343.5" stroke="#ffffff" stroke-width="1"/>
<line x1="708.5" y1="225.5" x2="708.5" y2="343.5" stroke="#ffffff" stroke-width="1"/>
<line x1="685.5" y1="343.5" x2="708.5" y2="343.5" stroke="#ffffff" stroke-width="1"/>
<line x1="685.5" y1="343.5" x2="697" y2="364" stroke="#ffffff" stroke-width="1"/>
<line x1="708.5" y1="343.5" x2="697" y2="364" stroke="#ffffff" stroke-width="1"/>
<polygon points="689.5,358 693,354.5 701,354.5 699,358.5 695,358.5" fill="none" stroke="#ffffff" stroke-width="1"/>
<line x1="688" y1="358" x2="691" y2="358" stroke="#ffffff" stroke-width="1"/>
<circle cx="706.5" cy="350.5" r="1.4" fill="none" stroke="#ffffff" stroke-width="1.25" shape-rendering="geometricPrecision"/>
<line x1="705" y1="352" x2="709" y2="349" stroke="#ffffff" stroke-width="1"/>
<rect x="693.2" y="370.4" width="6.3" height="2" fill="#c82828"/>
<rect x="705.53" y="263.7" width="5.94" height="3.6" fill="#ffffff"/>
<path d="M707.51 263.7L708.5 264.78L709.49 263.7ZM707.51 267.3L708.5 266.22L709.49 267.3Z" fill="#000" stroke="none" stroke-width="0"/>
<rect x="705.53" y="303.2" width="5.94" height="3.6" fill="#ffffff"/>
<path d="M707.51 303.2L708.5 304.28L709.49 303.2ZM707.51 306.8L708.5 305.72L709.49 306.8Z" fill="#000" stroke="none" stroke-width="0"/>
<rect x="688" y="251" width="5.3" height="5" fill="#ffffff"/>
<rect x="690" y="279.6" width="13" height="4.4" fill="#ffffff"/>
<rect x="693.67" y="282.46" width="0.9" height="1.54" fill="#000"/>
<rect x="698.86" y="282.46" width="0.9" height="1.54" fill="#000"/>
<text x="689" y="291.6" fill="#ffffff" font-size="5.97" font-weight="bold" text-anchor="start" textLength="15.7" lengthAdjust="spacingAndGlyphs" stroke="#ffffff" stroke-width="0.42">100m3</text>
<rect x="702" y="216" width="4" height="9.5" fill="none" stroke="#ffffff" stroke-width="1"/>
<rect x="702.8" y="218" width="1.4" height="6" fill="#dc3cdc" stroke="#dc3cdc" stroke-width="1"/>
<polyline points="702,216 704,214.5 707.5,214.5 708.5,216 706,216" fill="none" stroke="#ffffff" stroke-width="1"/>
<line x1="706" y1="219" x2="710" y2="219" stroke="#ffffff" stroke-width="1"/>
<line x1="749.5" y1="225.5" x2="772.5" y2="225.5" stroke="#ffffff" stroke-width="1"/>
<line x1="749.5" y1="225.5" x2="749.5" y2="343.5" stroke="#ffffff" stroke-width="1"/>
<line x1="772.5" y1="225.5" x2="772.5" y2="343.5" stroke="#ffffff" stroke-width="1"/>
<line x1="749.5" y1="343.5" x2="772.5" y2="343.5" stroke="#ffffff" stroke-width="1"/>
<line x1="749.5" y1="343.5" x2="761" y2="364" stroke="#ffffff" stroke-width="1"/>
<line x1="772.5" y1="343.5" x2="761" y2="364" stroke="#ffffff" stroke-width="1"/>
<polygon points="753.5,358 757,354.5 765,354.5 763,358.5 759,358.5" fill="none" stroke="#ffffff" stroke-width="1"/>
<line x1="752" y1="358" x2="755" y2="358" stroke="#ffffff" stroke-width="1"/>
<circle cx="770.5" cy="350.5" r="1.4" fill="none" stroke="#ffffff" stroke-width="1.25" shape-rendering="geometricPrecision"/>
<line x1="769" y1="352" x2="773" y2="349" stroke="#ffffff" stroke-width="1"/>
<rect x="757.2" y="370.4" width="6.3" height="2" fill="#c82828"/>
<rect x="769.53" y="263.7" width="5.94" height="3.6" fill="#ffffff"/>
<path d="M771.51 263.7L772.5 264.78L773.49 263.7ZM771.51 267.3L772.5 266.22L773.49 267.3Z" fill="#000" stroke="none" stroke-width="0"/>
<rect x="769.53" y="303.2" width="5.94" height="3.6" fill="#ffffff"/>
<path d="M771.51 303.2L772.5 304.28L773.49 303.2ZM771.51 306.8L772.5 305.72L773.49 306.8Z" fill="#000" stroke="none" stroke-width="0"/>
<rect x="752" y="251" width="5.3" height="5" fill="#ffffff"/>
<rect x="754" y="279.6" width="13" height="4.4" fill="#ffffff"/>
<rect x="756.75" y="279.6" width="0.9" height="1.54" fill="#000"/>
<rect x="764.5" y="282.46" width="0.9" height="1.54" fill="#000"/>
<text x="753" y="291.6" fill="#ffffff" font-size="5.97" font-weight="bold" text-anchor="start" textLength="15.7" lengthAdjust="spacingAndGlyphs" stroke="#ffffff" stroke-width="0.42">100m3</text>
<rect x="766" y="216" width="4" height="9.5" fill="none" stroke="#ffffff" stroke-width="1"/>
<rect x="766.8" y="218" width="1.4" height="6" fill="#dc3cdc" stroke="#dc3cdc" stroke-width="1"/>
<polyline points="766,216 768,214.5 771.5,214.5 772.5,216 770,216" fill="none" stroke="#ffffff" stroke-width="1"/>
<line x1="770" y1="219" x2="774" y2="219" stroke="#ffffff" stroke-width="1"/>
<line x1="690.5" y1="212" x2="690.5" y2="225.5" stroke="#ffffff" stroke-width="1"/>
<line x1="751.5" y1="201.5" x2="751.5" y2="225.5" stroke="#ffffff" stroke-width="1"/>
<circle cx="712.7" cy="222" r="2.8" fill="none" stroke="#ffffff" stroke-width="1.25" shape-rendering="geometricPrecision"/>
<line x1="708.5" y1="222" x2="709.9" y2="222" stroke="#ffffff" stroke-width="1"/>
<line x1="697" y1="372.4" x2="697" y2="401.2" stroke="#ffffff" stroke-width="1"/>
<line x1="761" y1="372.4" x2="761" y2="381.5" stroke="#ffffff" stroke-width="1"/>
<rect x="694.5" y="399" width="5" height="2" fill="none" stroke="#ffffff" stroke-width="1"/>
<circle cx="570.8" cy="398.6" r="2.2" fill="none" stroke="#ffffff" stroke-width="1.25" shape-rendering="geometricPrecision"/>
<line x1="573" y1="398.6" x2="575.8" y2="398.6" stroke="#ffffff" stroke-width="1"/>
<rect x="566" y="392.3" width="7.6" height="3.5" fill="#ffffff"/>
<circle cx="680.5" cy="403.2" r="2.2" fill="none" stroke="#ffffff" stroke-width="1.25" shape-rendering="geometricPrecision"/>
<line x1="682.7" y1="403.2" x2="685.5" y2="403.2" stroke="#ffffff" stroke-width="1"/>
<rect x="677" y="396.2" width="7.6" height="3.5" fill="#ffffff"/>
<circle cx="745.5" cy="383.5" r="2.2" fill="none" stroke="#ffffff" stroke-width="1.25" shape-rendering="geometricPrecision"/>
<line x1="747.7" y1="383.5" x2="750.5" y2="383.5" stroke="#ffffff" stroke-width="1"/>
<rect x="741.1" y="377.4" width="7.6" height="3.5" fill="#ffffff"/>
<circle cx="782.9" cy="308.2" r="2.7" fill="none" stroke="#ffffff" stroke-width="1.25" shape-rendering="geometricPrecision"/>
<line x1="785.6" y1="308.2" x2="792.6" y2="308.2" stroke="#ffffff" stroke-width="1"/>
<line x1="843.4" y1="255.6" x2="843.4" y2="263.5" stroke="#ffffff" stroke-width="1"/>
<rect x="841.5" y="262.7" width="4" height="1.8" fill="#ffffff" stroke="#ffffff" stroke-width="1"/>
<line x1="836.2" y1="264.5" x2="1021" y2="264.5" stroke="#ffffff" stroke-width="1"/>
<line x1="836.2" y1="269.5" x2="1021" y2="269.5" stroke="#ffffff" stroke-width="1"/>
<line x1="836.2" y1="264.5" x2="836.2" y2="269.5" stroke="#ffffff" stroke-width="1"/>
<rect x="838.5" y="265" width="4.5" height="4" fill="none" stroke="#ffffff" stroke-width="1"/>
<circle cx="1021" cy="267" r="2.5" fill="none" stroke="#ffffff" stroke-width="1.25" shape-rendering="geometricPrecision"/>
<rect x="845" y="265.8" width="24" height="2.4" fill="#ffffff"/>
<rect x="874" y="265.8" width="12" height="2.4" fill="#ffffff"/>
<rect x="891" y="265.8" width="17" height="2.4" fill="#ffffff"/>
<rect x="918" y="265.8" width="13" height="2.4" fill="#ffffff"/>
<rect x="936" y="265.8" width="15" height="2.4" fill="#ffffff"/>
<rect x="968" y="265.8" width="17" height="2.4" fill="#ffffff"/>
<rect x="990" y="265.8" width="25" height="2.4" fill="#ffffff"/>
<line x1="856" y1="264.5" x2="856" y2="269.5" stroke="#000" stroke-width="0.8"/>
<line x1="866.5" y1="264.5" x2="866.5" y2="269.5" stroke="#000" stroke-width="0.8"/>
<line x1="877" y1="264.5" x2="877" y2="269.5" stroke="#000" stroke-width="0.8"/>
<line x1="887.5" y1="264.5" x2="887.5" y2="269.5" stroke="#000" stroke-width="0.8"/>
<line x1="929" y1="264.5" x2="929" y2="269.5" stroke="#000" stroke-width="0.8"/>
<line x1="940" y1="264.5" x2="940" y2="269.5" stroke="#000" stroke-width="0.8"/>
<line x1="950" y1="264.5" x2="950" y2="269.5" stroke="#000" stroke-width="0.8"/>
<line x1="978" y1="264.5" x2="978" y2="269.5" stroke="#000" stroke-width="0.8"/>
<line x1="998" y1="264.5" x2="998" y2="269.5" stroke="#000" stroke-width="0.8"/>
<circle cx="831.6" cy="267" r="2.1" fill="none" stroke="#ffffff" stroke-width="1.25" shape-rendering="geometricPrecision"/>
<line x1="833.7" y1="267" x2="836.2" y2="267" stroke="#ffffff" stroke-width="1"/>
<rect x="825.8" y="260" width="8.2" height="3.5" fill="#ffffff"/>
<line x1="859.1" y1="269.5" x2="859.1" y2="283.5" stroke="#ffffff" stroke-width="1"/>
<rect x="858.4" y="272" width="1.6" height="4" fill="#ffffff" stroke="#ffffff" stroke-width="1"/>
<polygon points="855.6,283.5 862.6,283.5 862.6,286 860.6,289 857.6,289 855.6,286" fill="none" stroke="#ffffff" stroke-width="1"/>
<rect x="862.6" y="284.3" width="1.8" height="1.6" fill="#ffffff"/>
<line x1="859.1" y1="289" x2="859.1" y2="291.5" stroke="#ffffff" stroke-width="1"/>
<path d="M852.4 291.8H862.8V304.5H853.1V295Q850.6 293.5 852.4 291.8Z" fill="none" stroke="#ffffff" stroke-width="1"/>
<rect x="856.5" y="297.5" width="4.6" height="5.8" fill="#ffffff"/>
<line x1="854.5" y1="293.5" x2="854.5" y2="304.5" stroke="#ffffff" stroke-width="1"/>
<line x1="856.6" y1="308" x2="861.6" y2="308" stroke="#ffffff" stroke-width="1"/>
<line x1="859.1" y1="306.7" x2="859.1" y2="309.3" stroke="#ffffff" stroke-width="1"/>
<line x1="880.53" y1="269.5" x2="880.53" y2="283.5" stroke="#ffffff" stroke-width="1"/>
<rect x="879.83" y="272" width="1.6" height="4" fill="#ffffff" stroke="#ffffff" stroke-width="1"/>
<polygon points="877.03,283.5 884.03,283.5 884.03,286 882.03,289 879.03,289 877.03,286" fill="none" stroke="#ffffff" stroke-width="1"/>
<rect x="884.03" y="284.3" width="1.8" height="1.6" fill="#ffffff"/>
<line x1="880.53" y1="289" x2="880.53" y2="291.5" stroke="#ffffff" stroke-width="1"/>
<path d="M873.83 291.8H884.23V304.5H874.53V295Q872.03 293.5 873.83 291.8Z" fill="none" stroke="#ffffff" stroke-width="1"/>
<rect x="877.93" y="297.5" width="4.6" height="5.8" fill="#ffffff"/>
<line x1="875.93" y1="293.5" x2="875.93" y2="304.5" stroke="#ffffff" stroke-width="1"/>
<line x1="878.03" y1="308" x2="883.03" y2="308" stroke="#ffffff" stroke-width="1"/>
<line x1="880.53" y1="306.7" x2="880.53" y2="309.3" stroke="#ffffff" stroke-width="1"/>
<line x1="901.96" y1="269.5" x2="901.96" y2="283.5" stroke="#ffffff" stroke-width="1"/>
<rect x="901.26" y="272" width="1.6" height="4" fill="#ffffff" stroke="#ffffff" stroke-width="1"/>
<polygon points="898.46,283.5 905.46,283.5 905.46,286 903.46,289 900.46,289 898.46,286" fill="none" stroke="#ffffff" stroke-width="1"/>
<rect x="905.46" y="284.3" width="1.8" height="1.6" fill="#ffffff"/>
<line x1="901.96" y1="289" x2="901.96" y2="291.5" stroke="#ffffff" stroke-width="1"/>
<path d="M895.26 291.8H905.66V304.5H895.96V295Q893.46 293.5 895.26 291.8Z" fill="none" stroke="#ffffff" stroke-width="1"/>
<rect x="899.36" y="297.5" width="4.6" height="5.8" fill="#ffffff"/>
<line x1="897.36" y1="293.5" x2="897.36" y2="304.5" stroke="#ffffff" stroke-width="1"/>
<line x1="899.46" y1="308" x2="904.46" y2="308" stroke="#ffffff" stroke-width="1"/>
<line x1="901.96" y1="306.7" x2="901.96" y2="309.3" stroke="#ffffff" stroke-width="1"/>
<line x1="923.39" y1="269.5" x2="923.39" y2="283.5" stroke="#ffffff" stroke-width="1"/>
<rect x="922.69" y="272" width="1.6" height="4" fill="#ffffff" stroke="#ffffff" stroke-width="1"/>
<polygon points="919.89,283.5 926.89,283.5 926.89,286 924.89,289 921.89,289 919.89,286" fill="none" stroke="#ffffff" stroke-width="1"/>
<rect x="926.89" y="284.3" width="1.8" height="1.6" fill="#ffffff"/>
<line x1="923.39" y1="289" x2="923.39" y2="291.5" stroke="#ffffff" stroke-width="1"/>
<path d="M916.69 291.8H927.09V304.5H917.39V295Q914.89 293.5 916.69 291.8Z" fill="none" stroke="#ffffff" stroke-width="1"/>
<rect x="920.79" y="297.5" width="4.6" height="5.8" fill="#ffffff"/>
<line x1="918.79" y1="293.5" x2="918.79" y2="304.5" stroke="#ffffff" stroke-width="1"/>
<line x1="920.89" y1="308" x2="925.89" y2="308" stroke="#ffffff" stroke-width="1"/>
<line x1="923.39" y1="306.7" x2="923.39" y2="309.3" stroke="#ffffff" stroke-width="1"/>
<line x1="944.82" y1="269.5" x2="944.82" y2="283.5" stroke="#ffffff" stroke-width="1"/>
<rect x="944.12" y="272" width="1.6" height="4" fill="#ffffff" stroke="#ffffff" stroke-width="1"/>
<polygon points="941.32,283.5 948.32,283.5 948.32,286 946.32,289 943.32,289 941.32,286" fill="none" stroke="#ffffff" stroke-width="1"/>
<rect x="948.32" y="284.3" width="1.8" height="1.6" fill="#ffffff"/>
<line x1="944.82" y1="289" x2="944.82" y2="291.5" stroke="#ffffff" stroke-width="1"/>
<path d="M938.12 291.8H948.52V304.5H938.82V295Q936.32 293.5 938.12 291.8Z" fill="none" stroke="#ffffff" stroke-width="1"/>
<rect x="942.22" y="297.5" width="4.6" height="5.8" fill="#ffffff"/>
<line x1="940.22" y1="293.5" x2="940.22" y2="304.5" stroke="#ffffff" stroke-width="1"/>
<line x1="942.32" y1="308" x2="947.32" y2="308" stroke="#ffffff" stroke-width="1"/>
<line x1="944.82" y1="306.7" x2="944.82" y2="309.3" stroke="#ffffff" stroke-width="1"/>
<line x1="966.25" y1="269.5" x2="966.25" y2="283.5" stroke="#ffffff" stroke-width="1"/>
<rect x="965.55" y="272" width="1.6" height="4" fill="#ffffff" stroke="#ffffff" stroke-width="1"/>
<polygon points="962.75,283.5 969.75,283.5 969.75,286 967.75,289 964.75,289 962.75,286" fill="none" stroke="#ffffff" stroke-width="1"/>
<rect x="969.75" y="284.3" width="1.8" height="1.6" fill="#ffffff"/>
<line x1="966.25" y1="289" x2="966.25" y2="291.5" stroke="#ffffff" stroke-width="1"/>
<path d="M959.55 291.8H969.95V304.5H960.25V295Q957.75 293.5 959.55 291.8Z" fill="none" stroke="#ffffff" stroke-width="1"/>
<rect x="963.65" y="297.5" width="4.6" height="5.8" fill="#ffffff"/>
<line x1="961.65" y1="293.5" x2="961.65" y2="304.5" stroke="#ffffff" stroke-width="1"/>
<line x1="963.75" y1="308" x2="968.75" y2="308" stroke="#ffffff" stroke-width="1"/>
<line x1="966.25" y1="306.7" x2="966.25" y2="309.3" stroke="#ffffff" stroke-width="1"/>
<line x1="987.68" y1="269.5" x2="987.68" y2="283.5" stroke="#ffffff" stroke-width="1"/>
<rect x="986.98" y="272" width="1.6" height="4" fill="#ffffff" stroke="#ffffff" stroke-width="1"/>
<polygon points="984.18,283.5 991.18,283.5 991.18,286 989.18,289 986.18,289 984.18,286" fill="none" stroke="#ffffff" stroke-width="1"/>
<rect x="991.18" y="284.3" width="1.8" height="1.6" fill="#ffffff"/>
<line x1="987.68" y1="289" x2="987.68" y2="291.5" stroke="#ffffff" stroke-width="1"/>
<path d="M980.98 291.8H991.38V304.5H981.68V295Q979.18 293.5 980.98 291.8Z" fill="none" stroke="#ffffff" stroke-width="1"/>
<rect x="985.08" y="297.5" width="4.6" height="5.8" fill="#ffffff"/>
<line x1="983.08" y1="293.5" x2="983.08" y2="304.5" stroke="#ffffff" stroke-width="1"/>
<line x1="985.18" y1="308" x2="990.18" y2="308" stroke="#ffffff" stroke-width="1"/>
<line x1="987.68" y1="306.7" x2="987.68" y2="309.3" stroke="#ffffff" stroke-width="1"/>
<line x1="1009.11" y1="269.5" x2="1009.11" y2="283.5" stroke="#ffffff" stroke-width="1"/>
<rect x="1008.41" y="272" width="1.6" height="4" fill="#ffffff" stroke="#ffffff" stroke-width="1"/>
<polygon points="1005.61,283.5 1012.61,283.5 1012.61,286 1010.61,289 1007.61,289 1005.61,286" fill="none" stroke="#ffffff" stroke-width="1"/>
<rect x="1012.61" y="284.3" width="1.8" height="1.6" fill="#ffffff"/>
<line x1="1009.11" y1="289" x2="1009.11" y2="291.5" stroke="#ffffff" stroke-width="1"/>
<path d="M1002.41 291.8H1012.81V304.5H1003.11V295Q1000.61 293.5 1002.41 291.8Z" fill="none" stroke="#ffffff" stroke-width="1"/>
<rect x="1006.51" y="297.5" width="4.6" height="5.8" fill="#ffffff"/>
<line x1="1004.51" y1="293.5" x2="1004.51" y2="304.5" stroke="#ffffff" stroke-width="1"/>
<line x1="1006.61" y1="308" x2="1011.61" y2="308" stroke="#ffffff" stroke-width="1"/>
<line x1="1009.11" y1="306.7" x2="1009.11" y2="309.3" stroke="#ffffff" stroke-width="1"/>
<line x1="843.4" y1="326.5" x2="843.4" y2="336.5" stroke="#ffffff" stroke-width="1"/>
<rect x="841.5" y="335.7" width="4" height="1.8" fill="#ffffff" stroke="#ffffff" stroke-width="1"/>
<line x1="836.2" y1="337.5" x2="1021" y2="337.5" stroke="#ffffff" stroke-width="1"/>
<line x1="836.2" y1="341.3" x2="1021" y2="341.3" stroke="#ffffff" stroke-width="1"/>
<line x1="836.2" y1="337.5" x2="836.2" y2="341.3" stroke="#ffffff" stroke-width="1"/>
<rect x="838.5" y="338" width="4.5" height="2.8" fill="none" stroke="#ffffff" stroke-width="1"/>
<circle cx="1021" cy="339.4" r="1.9" fill="none" stroke="#ffffff" stroke-width="1.25" shape-rendering="geometricPrecision"/>
<rect x="845" y="338.8" width="24" height="1.2" fill="#ffffff"/>
<rect x="874" y="338.8" width="12" height="1.2" fill="#ffffff"/>
<rect x="891" y="338.8" width="17" height="1.2" fill="#ffffff"/>
<rect x="918" y="338.8" width="13" height="1.2" fill="#ffffff"/>
<rect x="936" y="338.8" width="15" height="1.2" fill="#ffffff"/>
<rect x="968" y="338.8" width="17" height="1.2" fill="#ffffff"/>
<rect x="990" y="338.8" width="25" height="1.2" fill="#ffffff"/>
<line x1="856" y1="337.5" x2="856" y2="341.3" stroke="#000" stroke-width="0.8"/>
<line x1="866.5" y1="337.5" x2="866.5" y2="341.3" stroke="#000" stroke-width="0.8"/>
<line x1="877" y1="337.5" x2="877" y2="341.3" stroke="#000" stroke-width="0.8"/>
<line x1="887.5" y1="337.5" x2="887.5" y2="341.3" stroke="#000" stroke-width="0.8"/>
<line x1="929" y1="337.5" x2="929" y2="341.3" stroke="#000" stroke-width="0.8"/>
<line x1="940" y1="337.5" x2="940" y2="341.3" stroke="#000" stroke-width="0.8"/>
<line x1="950" y1="337.5" x2="950" y2="341.3" stroke="#000" stroke-width="0.8"/>
<line x1="978" y1="337.5" x2="978" y2="341.3" stroke="#000" stroke-width="0.8"/>
<line x1="998" y1="337.5" x2="998" y2="341.3" stroke="#000" stroke-width="0.8"/>
<circle cx="831.6" cy="339.4" r="2.1" fill="none" stroke="#ffffff" stroke-width="1.25" shape-rendering="geometricPrecision"/>
<line x1="833.7" y1="339.4" x2="836.2" y2="339.4" stroke="#ffffff" stroke-width="1"/>
<rect x="825.8" y="333" width="8.2" height="3.5" fill="#ffffff"/>
<line x1="859.1" y1="341.3" x2="859.1" y2="355.3" stroke="#ffffff" stroke-width="1"/>
<rect x="858.4" y="343.8" width="1.6" height="4" fill="#ffffff" stroke="#ffffff" stroke-width="1"/>
<polygon points="855.6,355.3 862.6,355.3 862.6,357.8 860.6,360.8 857.6,360.8 855.6,357.8" fill="none" stroke="#ffffff" stroke-width="1"/>
<rect x="862.6" y="356.1" width="1.8" height="1.6" fill="#ffffff"/>
<line x1="859.1" y1="360.8" x2="859.1" y2="363.3" stroke="#ffffff" stroke-width="1"/>
<path d="M852.4 363.6H862.8V376.3H853.1V366.8Q850.6 365.3 852.4 363.6Z" fill="none" stroke="#ffffff" stroke-width="1"/>
<rect x="856.5" y="369.3" width="4.6" height="5.8" fill="#ffffff"/>
<line x1="854.5" y1="365.3" x2="854.5" y2="376.3" stroke="#ffffff" stroke-width="1"/>
<line x1="856.6" y1="379.8" x2="861.6" y2="379.8" stroke="#ffffff" stroke-width="1"/>
<line x1="859.1" y1="378.5" x2="859.1" y2="381.1" stroke="#ffffff" stroke-width="1"/>
<line x1="880.53" y1="341.3" x2="880.53" y2="355.3" stroke="#ffffff" stroke-width="1"/>
<rect x="879.83" y="343.8" width="1.6" height="4" fill="#ffffff" stroke="#ffffff" stroke-width="1"/>
<polygon points="877.03,355.3 884.03,355.3 884.03,357.8 882.03,360.8 879.03,360.8 877.03,357.8" fill="none" stroke="#ffffff" stroke-width="1"/>
<rect x="884.03" y="356.1" width="1.8" height="1.6" fill="#ffffff"/>
<line x1="880.53" y1="360.8" x2="880.53" y2="363.3" stroke="#ffffff" stroke-width="1"/>
<path d="M873.83 363.6H884.23V376.3H874.53V366.8Q872.03 365.3 873.83 363.6Z" fill="none" stroke="#ffffff" stroke-width="1"/>
<rect x="877.93" y="369.3" width="4.6" height="5.8" fill="#ffffff"/>
<line x1="875.93" y1="365.3" x2="875.93" y2="376.3" stroke="#ffffff" stroke-width="1"/>
<line x1="878.03" y1="379.8" x2="883.03" y2="379.8" stroke="#ffffff" stroke-width="1"/>
<line x1="880.53" y1="378.5" x2="880.53" y2="381.1" stroke="#ffffff" stroke-width="1"/>
<line x1="901.96" y1="341.3" x2="901.96" y2="355.3" stroke="#ffffff" stroke-width="1"/>
<rect x="901.26" y="343.8" width="1.6" height="4" fill="#ffffff" stroke="#ffffff" stroke-width="1"/>
<polygon points="898.46,355.3 905.46,355.3 905.46,357.8 903.46,360.8 900.46,360.8 898.46,357.8" fill="none" stroke="#ffffff" stroke-width="1"/>
<rect x="905.46" y="356.1" width="1.8" height="1.6" fill="#ffffff"/>
<line x1="901.96" y1="360.8" x2="901.96" y2="363.3" stroke="#ffffff" stroke-width="1"/>
<path d="M895.26 363.6H905.66V376.3H895.96V366.8Q893.46 365.3 895.26 363.6Z" fill="none" stroke="#ffffff" stroke-width="1"/>
<rect x="899.36" y="369.3" width="4.6" height="5.8" fill="#ffffff"/>
<line x1="897.36" y1="365.3" x2="897.36" y2="376.3" stroke="#ffffff" stroke-width="1"/>
<line x1="899.46" y1="379.8" x2="904.46" y2="379.8" stroke="#ffffff" stroke-width="1"/>
<line x1="901.96" y1="378.5" x2="901.96" y2="381.1" stroke="#ffffff" stroke-width="1"/>
<line x1="923.39" y1="341.3" x2="923.39" y2="355.3" stroke="#ffffff" stroke-width="1"/>
<rect x="922.69" y="343.8" width="1.6" height="4" fill="#ffffff" stroke="#ffffff" stroke-width="1"/>
<polygon points="919.89,355.3 926.89,355.3 926.89,357.8 924.89,360.8 921.89,360.8 919.89,357.8" fill="none" stroke="#ffffff" stroke-width="1"/>
<rect x="926.89" y="356.1" width="1.8" height="1.6" fill="#ffffff"/>
<line x1="923.39" y1="360.8" x2="923.39" y2="363.3" stroke="#ffffff" stroke-width="1"/>
<path d="M916.69 363.6H927.09V376.3H917.39V366.8Q914.89 365.3 916.69 363.6Z" fill="none" stroke="#ffffff" stroke-width="1"/>
<rect x="920.79" y="369.3" width="4.6" height="5.8" fill="#ffffff"/>
<line x1="918.79" y1="365.3" x2="918.79" y2="376.3" stroke="#ffffff" stroke-width="1"/>
<line x1="920.89" y1="379.8" x2="925.89" y2="379.8" stroke="#ffffff" stroke-width="1"/>
<line x1="923.39" y1="378.5" x2="923.39" y2="381.1" stroke="#ffffff" stroke-width="1"/>
<line x1="944.82" y1="341.3" x2="944.82" y2="355.3" stroke="#ffffff" stroke-width="1"/>
<rect x="944.12" y="343.8" width="1.6" height="4" fill="#ffffff" stroke="#ffffff" stroke-width="1"/>
<polygon points="941.32,355.3 948.32,355.3 948.32,357.8 946.32,360.8 943.32,360.8 941.32,357.8" fill="none" stroke="#ffffff" stroke-width="1"/>
<rect x="948.32" y="356.1" width="1.8" height="1.6" fill="#ffffff"/>
<line x1="944.82" y1="360.8" x2="944.82" y2="363.3" stroke="#ffffff" stroke-width="1"/>
<path d="M938.12 363.6H948.52V376.3H938.82V366.8Q936.32 365.3 938.12 363.6Z" fill="none" stroke="#ffffff" stroke-width="1"/>
<rect x="942.22" y="369.3" width="4.6" height="5.8" fill="#ffffff"/>
<line x1="940.22" y1="365.3" x2="940.22" y2="376.3" stroke="#ffffff" stroke-width="1"/>
<line x1="942.32" y1="379.8" x2="947.32" y2="379.8" stroke="#ffffff" stroke-width="1"/>
<line x1="944.82" y1="378.5" x2="944.82" y2="381.1" stroke="#ffffff" stroke-width="1"/>
<line x1="966.25" y1="341.3" x2="966.25" y2="355.3" stroke="#ffffff" stroke-width="1"/>
<rect x="965.55" y="343.8" width="1.6" height="4" fill="#ffffff" stroke="#ffffff" stroke-width="1"/>
<polygon points="962.75,355.3 969.75,355.3 969.75,357.8 967.75,360.8 964.75,360.8 962.75,357.8" fill="none" stroke="#ffffff" stroke-width="1"/>
<rect x="969.75" y="356.1" width="1.8" height="1.6" fill="#ffffff"/>
<line x1="966.25" y1="360.8" x2="966.25" y2="363.3" stroke="#ffffff" stroke-width="1"/>
<path d="M959.55 363.6H969.95V376.3H960.25V366.8Q957.75 365.3 959.55 363.6Z" fill="none" stroke="#ffffff" stroke-width="1"/>
<rect x="963.65" y="369.3" width="4.6" height="5.8" fill="#ffffff"/>
<line x1="961.65" y1="365.3" x2="961.65" y2="376.3" stroke="#ffffff" stroke-width="1"/>
<line x1="963.75" y1="379.8" x2="968.75" y2="379.8" stroke="#ffffff" stroke-width="1"/>
<line x1="966.25" y1="378.5" x2="966.25" y2="381.1" stroke="#ffffff" stroke-width="1"/>
<line x1="987.68" y1="341.3" x2="987.68" y2="355.3" stroke="#ffffff" stroke-width="1"/>
<rect x="986.98" y="343.8" width="1.6" height="4" fill="#ffffff" stroke="#ffffff" stroke-width="1"/>
<polygon points="984.18,355.3 991.18,355.3 991.18,357.8 989.18,360.8 986.18,360.8 984.18,357.8" fill="none" stroke="#ffffff" stroke-width="1"/>
<rect x="991.18" y="356.1" width="1.8" height="1.6" fill="#ffffff"/>
<line x1="987.68" y1="360.8" x2="987.68" y2="363.3" stroke="#ffffff" stroke-width="1"/>
<path d="M980.98 363.6H991.38V376.3H981.68V366.8Q979.18 365.3 980.98 363.6Z" fill="none" stroke="#ffffff" stroke-width="1"/>
<rect x="985.08" y="369.3" width="4.6" height="5.8" fill="#ffffff"/>
<line x1="983.08" y1="365.3" x2="983.08" y2="376.3" stroke="#ffffff" stroke-width="1"/>
<line x1="985.18" y1="379.8" x2="990.18" y2="379.8" stroke="#ffffff" stroke-width="1"/>
<line x1="987.68" y1="378.5" x2="987.68" y2="381.1" stroke="#ffffff" stroke-width="1"/>
<line x1="1009.11" y1="341.3" x2="1009.11" y2="355.3" stroke="#ffffff" stroke-width="1"/>
<rect x="1008.41" y="343.8" width="1.6" height="4" fill="#ffffff" stroke="#ffffff" stroke-width="1"/>
<polygon points="1005.61,355.3 1012.61,355.3 1012.61,357.8 1010.61,360.8 1007.61,360.8 1005.61,357.8" fill="none" stroke="#ffffff" stroke-width="1"/>
<rect x="1012.61" y="356.1" width="1.8" height="1.6" fill="#ffffff"/>
<line x1="1009.11" y1="360.8" x2="1009.11" y2="363.3" stroke="#ffffff" stroke-width="1"/>
<path d="M1002.41 363.6H1012.81V376.3H1003.11V366.8Q1000.61 365.3 1002.41 363.6Z" fill="none" stroke="#ffffff" stroke-width="1"/>
<rect x="1006.51" y="369.3" width="4.6" height="5.8" fill="#ffffff"/>
<line x1="1004.51" y1="365.3" x2="1004.51" y2="376.3" stroke="#ffffff" stroke-width="1"/>
<line x1="1006.61" y1="379.8" x2="1011.61" y2="379.8" stroke="#ffffff" stroke-width="1"/>
<line x1="1009.11" y1="378.5" x2="1009.11" y2="381.1" stroke="#ffffff" stroke-width="1"/>
<circle cx="938.5" cy="256.2" r="2.9" fill="none" stroke="#ffffff" stroke-width="1.25" shape-rendering="geometricPrecision"/>
<line x1="937" y1="255" x2="940" y2="257.5" stroke="#ffffff" stroke-width="0.7"/>
<line x1="938.5" y1="259.1" x2="938.5" y2="264.5" stroke="#ffffff" stroke-width="1"/>
<circle cx="867.2" cy="346.6" r="2.6" fill="none" stroke="#ffffff" stroke-width="1.25" shape-rendering="geometricPrecision"/>
<line x1="865.7" y1="345.2" x2="868.7" y2="348" stroke="#ffffff" stroke-width="0.7"/>
<polyline points="859.1,344.5 864.6,346.6" fill="none" stroke="#ffffff" stroke-width="1"/>
<text x="708" y="211.6" fill="#1e1ee6" font-size="6.39" font-weight="bold" text-anchor="start" textLength="8" lengthAdjust="spacingAndGlyphs" stroke="#1e1ee6" stroke-width="0.45">M28</text>
<text x="715" y="218" fill="#dc3cdc" font-size="6.53" font-weight="bold" text-anchor="start" textLength="17.3" lengthAdjust="spacingAndGlyphs" stroke="#dc3cdc" stroke-width="0.46">PV72,73</text>
<text x="768.8" y="212.7" fill="#1e1ee6" font-size="6.53" font-weight="bold" text-anchor="start" textLength="8.1" lengthAdjust="spacingAndGlyphs" stroke="#1e1ee6" stroke-width="0.46">M29</text>
<text x="776.9" y="220.8" fill="#dc3cdc" font-size="6.39" font-weight="bold" text-anchor="start" textLength="16.1" lengthAdjust="spacingAndGlyphs" stroke="#dc3cdc" stroke-width="0.45">PV74,75</text>
<text x="717.8" y="267.7" fill="#40e8e8" font-size="6.53" font-weight="bold" text-anchor="start" textLength="10" lengthAdjust="spacingAndGlyphs" stroke="#40e8e8" stroke-width="0.46">LS23</text>
<text x="716.3" y="307.8" fill="#40e8e8" font-size="6.39" font-weight="bold" text-anchor="start" textLength="9.7" lengthAdjust="spacingAndGlyphs" stroke="#40e8e8" stroke-width="0.45">LS24</text>
<text x="776.4" y="259.3" fill="#40e8e8" font-size="6.53" font-weight="bold" text-anchor="start" textLength="9.2" lengthAdjust="spacingAndGlyphs" stroke="#40e8e8" stroke-width="0.46">LS26</text>
<text x="774.8" y="297.8" fill="#40e8e8" font-size="7.5" font-weight="bold" text-anchor="start" textLength="10" lengthAdjust="spacingAndGlyphs" stroke="#40e8e8" stroke-width="0.53">LS27</text>
<text x="674.7" y="354" fill="#dc3cdc" font-size="5.56" font-weight="bold" text-anchor="start" textLength="11.5" lengthAdjust="spacingAndGlyphs" stroke="#dc3cdc" stroke-width="0.39">PV32</text>
<text x="707.8" y="358.5" fill="#40e8e8" font-size="6.25" font-weight="bold" text-anchor="start" textLength="10" lengthAdjust="spacingAndGlyphs" stroke="#40e8e8" stroke-width="0.44">LS25</text>
<text x="740.2" y="357" fill="#dc3cdc" font-size="6.39" font-weight="bold" text-anchor="start" textLength="10" lengthAdjust="spacingAndGlyphs" stroke="#dc3cdc" stroke-width="0.45">PV38</text>
<text x="768.7" y="360" fill="#40e8e8" font-size="7.36" font-weight="bold" text-anchor="start" textLength="10" lengthAdjust="spacingAndGlyphs" stroke="#40e8e8" stroke-width="0.52">LS28</text>
<text x="679.7" y="394.6" fill="#1e1ee6" font-size="5.69" font-weight="bold" text-anchor="start" textLength="8.2" lengthAdjust="spacingAndGlyphs" stroke="#1e1ee6" stroke-width="0.4">M30</text>
<text x="740.3" y="373.6" fill="#1e1ee6" font-size="5" font-weight="bold" text-anchor="start" textLength="7.4" lengthAdjust="spacingAndGlyphs" stroke="#1e1ee6" stroke-width="0.35">M31</text>
<text x="568.5" y="407" fill="#1e1ee6" font-size="6.53" font-weight="bold" text-anchor="start" textLength="7.7" lengthAdjust="spacingAndGlyphs" stroke="#1e1ee6" stroke-width="0.46">M31</text>
<text x="829.9" y="278.5" fill="#1e1ee6" font-size="6.39" font-weight="bold" text-anchor="start" textLength="7.5" lengthAdjust="spacingAndGlyphs" stroke="#1e1ee6" stroke-width="0.45">M32</text>
<text x="828" y="350" fill="#1e1ee6" font-size="6.53" font-weight="bold" text-anchor="start" textLength="7" lengthAdjust="spacingAndGlyphs" stroke="#1e1ee6" stroke-width="0.46">M33</text>
<text x="865" y="282.4" fill="#40e8e8" font-size="6.11" font-weight="bold" text-anchor="start" textLength="9.8" lengthAdjust="spacingAndGlyphs" stroke="#40e8e8" stroke-width="0.43">LS29</text>
<text x="884.8" y="282.4" fill="#40e8e8" font-size="6.11" font-weight="bold" text-anchor="start" textLength="9.8" lengthAdjust="spacingAndGlyphs" stroke="#40e8e8" stroke-width="0.43">LS30</text>
<text x="907" y="280.7" fill="#40e8e8" font-size="6.11" font-weight="bold" text-anchor="start" textLength="9.8" lengthAdjust="spacingAndGlyphs" stroke="#40e8e8" stroke-width="0.43">LS31</text>
<text x="927" y="280.7" fill="#40e8e8" font-size="6.11" font-weight="bold" text-anchor="start" textLength="9.8" lengthAdjust="spacingAndGlyphs" stroke="#40e8e8" stroke-width="0.43">LS32</text>
<text x="948.9" y="280.7" fill="#40e8e8" font-size="6.11" font-weight="bold" text-anchor="start" textLength="9.8" lengthAdjust="spacingAndGlyphs" stroke="#40e8e8" stroke-width="0.43">LS33</text>
<text x="970" y="280.7" fill="#40e8e8" font-size="6.11" font-weight="bold" text-anchor="start" textLength="9.8" lengthAdjust="spacingAndGlyphs" stroke="#40e8e8" stroke-width="0.43">LS34</text>
<text x="992" y="280.7" fill="#40e8e8" font-size="6.11" font-weight="bold" text-anchor="start" textLength="9.8" lengthAdjust="spacingAndGlyphs" stroke="#40e8e8" stroke-width="0.43">LS35</text>
<text x="1012" y="280.7" fill="#40e8e8" font-size="6.11" font-weight="bold" text-anchor="start" textLength="9.8" lengthAdjust="spacingAndGlyphs" stroke="#40e8e8" stroke-width="0.43">LS36</text>
<text x="865" y="357.2" fill="#40e8e8" font-size="6.11" font-weight="bold" text-anchor="start" textLength="10.2" lengthAdjust="spacingAndGlyphs" stroke="#40e8e8" stroke-width="0.43">LS37</text>
<text x="884" y="352.4" fill="#40e8e8" font-size="6.11" font-weight="bold" text-anchor="start" textLength="10.2" lengthAdjust="spacingAndGlyphs" stroke="#40e8e8" stroke-width="0.43">LS38</text>
<text x="907" y="352.6" fill="#40e8e8" font-size="6.11" font-weight="bold" text-anchor="start" textLength="10.2" lengthAdjust="spacingAndGlyphs" stroke="#40e8e8" stroke-width="0.43">LS39</text>
<text x="926.3" y="352.6" fill="#40e8e8" font-size="6.11" font-weight="bold" text-anchor="start" textLength="10.2" lengthAdjust="spacingAndGlyphs" stroke="#40e8e8" stroke-width="0.43">LS40</text>
<text x="948.9" y="352.6" fill="#40e8e8" font-size="6.11" font-weight="bold" text-anchor="start" textLength="10.2" lengthAdjust="spacingAndGlyphs" stroke="#40e8e8" stroke-width="0.43">LS41</text>
<text x="970.8" y="352.6" fill="#40e8e8" font-size="6.11" font-weight="bold" text-anchor="start" textLength="10.2" lengthAdjust="spacingAndGlyphs" stroke="#40e8e8" stroke-width="0.43">LS42</text>
<text x="990.2" y="352.6" fill="#40e8e8" font-size="6.11" font-weight="bold" text-anchor="start" textLength="10.2" lengthAdjust="spacingAndGlyphs" stroke="#40e8e8" stroke-width="0.43">LS43</text>
<text x="1010.3" y="350.7" fill="#40e8e8" font-size="6.11" font-weight="bold" text-anchor="start" textLength="10.2" lengthAdjust="spacingAndGlyphs" stroke="#40e8e8" stroke-width="0.43">LS44</text>
<rect x="789.5" y="103.5" width="43" height="31.5" fill="none" stroke="#ffffff" stroke-width="1"/>
<line x1="790.5" y1="136.5" x2="831.5" y2="136.5" stroke="#ffffff" stroke-width="1"/>
<line x1="790.5" y1="135" x2="790.5" y2="136.5" stroke="#ffffff" stroke-width="1"/>
<line x1="831.5" y1="135" x2="831.5" y2="136.5" stroke="#ffffff" stroke-width="1"/>
<line x1="803.5" y1="103.5" x2="803.5" y2="135" stroke="#ffffff" stroke-width="1"/>
<line x1="818.5" y1="103.5" x2="818.5" y2="135" stroke="#ffffff" stroke-width="1"/>
<rect x="801.8" y="117.2" width="1.5" height="4.3" fill="#ffffff"/>
<rect x="816.5" y="117.2" width="1.5" height="4.3" fill="#ffffff"/>
<rect x="830.8" y="117.2" width="1.5" height="4.3" fill="#ffffff"/>
<path d="M797.5 122.5L795.5 125.5L797 125.5L795 129" fill="none" stroke="#ffffff" stroke-width="0.9"/>
<path d="M812.5 122.5L810.5 125.5L812 125.5L810 129" fill="none" stroke="#ffffff" stroke-width="0.9"/>
<path d="M827.1 122.5L825.1 125.5L826.6 125.5L824.6 129" fill="none" stroke="#ffffff" stroke-width="0.9"/>
<circle cx="781" cy="115.3" r="2.8" fill="none" stroke="#ffffff" stroke-width="1.25" shape-rendering="geometricPrecision"/>
<rect x="780" y="114" width="2.2" height="2.2" fill="#ffffff"/>
<line x1="783.8" y1="115.3" x2="789.5" y2="115.3" stroke="#ffffff" stroke-width="1"/>
<circle cx="839.1" cy="115.3" r="2.8" fill="none" stroke="#ffffff" stroke-width="1.25" shape-rendering="geometricPrecision"/>
<rect x="838.3" y="114" width="1.6" height="2.6" fill="#ffffff"/>
<line x1="841.9" y1="115.3" x2="847" y2="115.3" stroke="#ffffff" stroke-width="1"/>
<rect x="847" y="109" width="9.9" height="8.2" fill="none" stroke="#ffffff" stroke-width="1"/>
<rect x="847.5" y="114" width="9" height="3.5" fill="#ffffff"/>
<rect x="860" y="114" width="9" height="6.4" fill="none" stroke="#ffffff" stroke-width="1"/>
<rect x="861.5" y="115.5" width="6" height="2" fill="none" stroke="#ffffff" stroke-width="1"/>
<line x1="844" y1="120.5" x2="871.7" y2="120.5" stroke="#ffffff" stroke-width="1.6"/>
<rect x="846" y="121.5" width="10.5" height="14.5" fill="none" stroke="#ffffff" stroke-width="1"/>
<line x1="846" y1="124.5" x2="856.5" y2="124.5" stroke="#ffffff" stroke-width="1"/>
<line x1="846" y1="128" x2="856.5" y2="128" stroke="#ffffff" stroke-width="1"/>
<line x1="846" y1="131.5" x2="856.5" y2="131.5" stroke="#ffffff" stroke-width="1"/>
<line x1="848.5" y1="121.5" x2="848.5" y2="136" stroke="#ffffff" stroke-width="1"/>
<line x1="854" y1="121.5" x2="854" y2="136" stroke="#ffffff" stroke-width="1"/>
<line x1="869.5" y1="121.5" x2="869.5" y2="136.8" stroke="#ffffff" stroke-width="1.2"/>
<line x1="856.5" y1="121.5" x2="856.5" y2="135" stroke="#ffffff" stroke-width="1"/>
<line x1="860" y1="121.5" x2="860" y2="135.5" stroke="#ffffff" stroke-width="1"/>
<text x="794.2" y="147.6" fill="#ffffff" font-size="5" font-weight="normal" text-anchor="start" textLength="9" lengthAdjust="spacingAndGlyphs">PLC</text>
<path d="M804.91 144.77H806.84M804.1 146.41H807.29M804.58 143.8V146.98M806.45 144.58V146.79M805.9 145.51L804.06 147.6M805.9 145.51L807.74 147.6" fill="none" stroke="#ffffff" stroke-width="0.8"/>
<path d="M809.29 144.44H811.04M809.61 145.57H811.59M809.15 147.04H811.44M809.17 143.81V146.83M810.1 144.06V147.22M811.61 144.51V147.31M810.19 145.51L808.34 147.6M810.19 145.51L812.03 147.6" fill="none" stroke="#ffffff" stroke-width="0.8"/>
<path d="M812.77 144.63H816.05M813.53 145.53H815.64M813.27 146.9H815.63M814.64 144.46V147.37M814.47 145.51L812.63 147.6M814.47 145.51L816.31 147.6" fill="none" stroke="#ffffff" stroke-width="0.8"/>
<path d="M817.71 144.24H820.52M817.68 145.92H819.48M817.41 146.83H819.76M818.37 144.56V146.88M818.76 145.51L820.6 147.6" fill="none" stroke="#ffffff" stroke-width="0.8"/>
<path d="M822.01 144.53H824.67M821.71 146.55H824.72M821.76 144.56V146.66M823.32 144.39V147.54M824.62 143.85V146.74M823.04 145.51L824.89 147.6" fill="none" stroke="#ffffff" stroke-width="0.8"/>
<path d="M825.71 144.1H828.57M826.32 144.97H828.3M826.63 146.32H828.04M826.49 147.39H828.96M827.52 144.33V146.9" fill="none" stroke="#ffffff" stroke-width="0.8"/>
<path d="M830.35 144.05H833.11M830.06 145.35H833.11M829.81 146.13H832.26M829.81 147.32H832.37M830.62 144.73V147.02M831.96 144.05V147.12M832.94 144.37V147.48M831.61 145.51L829.77 147.6" fill="none" stroke="#ffffff" stroke-width="0.8"/>
</g>
</svg>
</body></html>
